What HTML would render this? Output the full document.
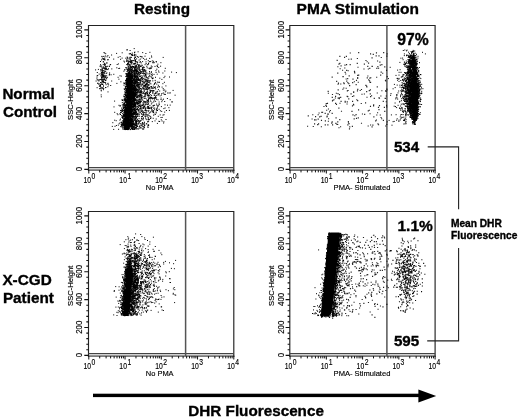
<!DOCTYPE html>
<html lang="en"><head><meta charset="utf-8"><title>DHR Fluorescence</title>
<style>html,body{margin:0;padding:0;background:#fff}svg{display:block}text{font-family:"Liberation Sans", Arial, Helvetica, sans-serif;fill:#000}.b{font-weight:bold;stroke:#000;stroke-width:0.35px}.s{stroke:#000;stroke-width:0.15px}</style></head><body>
<svg width="520" height="420" viewBox="0 0 520 420">
<rect width="520" height="420" fill="#fff"/>
<rect x="88.50" y="168.00" width="145.30" height="1.6" fill="#d2d2d2"/>
<path d="M88.50 170.70V25.50H233.80V170.70" fill="none" stroke="#222" stroke-width="1.15"/>
<path d="M88.50 167.50H233.80" stroke="#444" stroke-width="1"/>
<path d="M87.90 170.10H234.40" stroke="#222" stroke-width="1"/>
<path d="M185.60 25.50V170.10" stroke="#555" stroke-width="1.5"/>
<path d="M84.30 169.40H88.50M86.30 163.82H88.50M86.30 158.24H88.50M86.30 152.66H88.50M86.30 147.08H88.50M84.30 141.50H88.50M86.30 135.92H88.50M86.30 130.34H88.50M86.30 124.76H88.50M86.30 119.18H88.50M84.30 113.60H88.50M86.30 108.02H88.50M86.30 102.44H88.50M86.30 96.86H88.50M86.30 91.28H88.50M84.30 85.70H88.50M86.30 80.12H88.50M86.30 74.54H88.50M86.30 68.96H88.50M86.30 63.38H88.50M84.30 57.80H88.50M86.30 52.22H88.50M86.30 46.64H88.50M86.30 41.06H88.50M86.30 35.48H88.50M84.30 29.90H88.50" stroke="#111" stroke-width="1.1"/>
<path d="M88.80 170.10v3.4M99.71 170.10v2.3M106.10 170.10v2.3M110.62 170.10v2.3M114.14 170.10v2.3M117.01 170.10v2.3M119.43 170.10v2.3M121.54 170.10v2.3M123.39 170.10v2.3M125.05 170.10v3.4M135.96 170.10v2.3M142.35 170.10v2.3M146.87 170.10v2.3M150.39 170.10v2.3M153.26 170.10v2.3M155.68 170.10v2.3M157.79 170.10v2.3M159.64 170.10v2.3M161.30 170.10v3.4M172.21 170.10v2.3M178.60 170.10v2.3M183.12 170.10v2.3M186.64 170.10v2.3M189.51 170.10v2.3M191.93 170.10v2.3M194.04 170.10v2.3M195.89 170.10v2.3M197.55 170.10v3.4M208.46 170.10v2.3M214.85 170.10v2.3M219.37 170.10v2.3M222.89 170.10v2.3M225.76 170.10v2.3M228.18 170.10v2.3M230.29 170.10v2.3M232.14 170.10v2.3M233.80 170.10v3.4" stroke="#111" stroke-width="1"/>
<text transform="translate(82.30 169.15) rotate(-90) scale(0.93 1)" text-anchor="middle" class="s" font-size="8.5">0</text>
<text transform="translate(82.30 141.25) rotate(-90) scale(0.93 1)" text-anchor="middle" class="s" font-size="8.5">200</text>
<text transform="translate(82.30 113.35) rotate(-90) scale(0.93 1)" text-anchor="middle" class="s" font-size="8.5">400</text>
<text transform="translate(82.30 85.45) rotate(-90) scale(0.93 1)" text-anchor="middle" class="s" font-size="8.5">600</text>
<text transform="translate(82.30 57.55) rotate(-90) scale(0.93 1)" text-anchor="middle" class="s" font-size="8.5">800</text>
<text transform="translate(82.30 29.65) rotate(-90) scale(0.93 1)" text-anchor="middle" class="s" font-size="8.5">1000</text>
<text transform="translate(72.70 99.75) rotate(-90)" text-anchor="middle" class="s" font-size="7.8" textLength="40.3" lengthAdjust="spacingAndGlyphs">SSC-Height</text>
<text transform="translate(83.40 182.90) scale(0.8 1)" class="s" font-size="8.5">10<tspan dy="-3.9" dx="0.6" font-size="8.5">0</tspan></text>
<text transform="translate(119.35 182.90) scale(0.8 1)" class="s" font-size="8.5">10<tspan dy="-3.9" dx="0.6" font-size="8.5">1</tspan></text>
<text transform="translate(155.30 182.90) scale(0.8 1)" class="s" font-size="8.5">10<tspan dy="-3.9" dx="0.6" font-size="8.5">2</tspan></text>
<text transform="translate(191.25 182.90) scale(0.8 1)" class="s" font-size="8.5">10<tspan dy="-3.9" dx="0.6" font-size="8.5">3</tspan></text>
<text transform="translate(227.20 182.90) scale(0.8 1)" class="s" font-size="8.5">10<tspan dy="-3.9" dx="0.6" font-size="8.5">4</tspan></text>
<text x="145.80" y="189.90" class="s" font-size="7.8" textLength="27.8" lengthAdjust="spacingAndGlyphs">No PMA</text>
<rect x="289.80" y="168.00" width="145.30" height="1.6" fill="#d2d2d2"/>
<path d="M289.80 170.70V25.50H435.10V170.70" fill="none" stroke="#222" stroke-width="1.15"/>
<path d="M289.80 167.50H435.10" stroke="#444" stroke-width="1"/>
<path d="M289.20 170.10H435.70" stroke="#222" stroke-width="1"/>
<path d="M386.90 25.50V170.10" stroke="#555" stroke-width="1.5"/>
<path d="M285.60 169.40H289.80M287.60 163.82H289.80M287.60 158.24H289.80M287.60 152.66H289.80M287.60 147.08H289.80M285.60 141.50H289.80M287.60 135.92H289.80M287.60 130.34H289.80M287.60 124.76H289.80M287.60 119.18H289.80M285.60 113.60H289.80M287.60 108.02H289.80M287.60 102.44H289.80M287.60 96.86H289.80M287.60 91.28H289.80M285.60 85.70H289.80M287.60 80.12H289.80M287.60 74.54H289.80M287.60 68.96H289.80M287.60 63.38H289.80M285.60 57.80H289.80M287.60 52.22H289.80M287.60 46.64H289.80M287.60 41.06H289.80M287.60 35.48H289.80M285.60 29.90H289.80" stroke="#111" stroke-width="1.1"/>
<path d="M290.10 170.10v3.4M301.01 170.10v2.3M307.40 170.10v2.3M311.92 170.10v2.3M315.44 170.10v2.3M318.31 170.10v2.3M320.73 170.10v2.3M322.84 170.10v2.3M324.69 170.10v2.3M326.35 170.10v3.4M337.26 170.10v2.3M343.65 170.10v2.3M348.17 170.10v2.3M351.69 170.10v2.3M354.56 170.10v2.3M356.98 170.10v2.3M359.09 170.10v2.3M360.94 170.10v2.3M362.60 170.10v3.4M373.51 170.10v2.3M379.90 170.10v2.3M384.42 170.10v2.3M387.94 170.10v2.3M390.81 170.10v2.3M393.23 170.10v2.3M395.34 170.10v2.3M397.19 170.10v2.3M398.85 170.10v3.4M409.76 170.10v2.3M416.15 170.10v2.3M420.67 170.10v2.3M424.19 170.10v2.3M427.06 170.10v2.3M429.48 170.10v2.3M431.59 170.10v2.3M433.44 170.10v2.3M435.10 170.10v3.4" stroke="#111" stroke-width="1"/>
<text transform="translate(283.60 169.15) rotate(-90) scale(0.93 1)" text-anchor="middle" class="s" font-size="8.5">0</text>
<text transform="translate(283.60 141.25) rotate(-90) scale(0.93 1)" text-anchor="middle" class="s" font-size="8.5">200</text>
<text transform="translate(283.60 113.35) rotate(-90) scale(0.93 1)" text-anchor="middle" class="s" font-size="8.5">400</text>
<text transform="translate(283.60 85.45) rotate(-90) scale(0.93 1)" text-anchor="middle" class="s" font-size="8.5">600</text>
<text transform="translate(283.60 57.55) rotate(-90) scale(0.93 1)" text-anchor="middle" class="s" font-size="8.5">800</text>
<text transform="translate(283.60 29.65) rotate(-90) scale(0.93 1)" text-anchor="middle" class="s" font-size="8.5">1000</text>
<text transform="translate(274.00 99.75) rotate(-90)" text-anchor="middle" class="s" font-size="7.8" textLength="40.3" lengthAdjust="spacingAndGlyphs">SSC-Height</text>
<text transform="translate(284.70 182.90) scale(0.8 1)" class="s" font-size="8.5">10<tspan dy="-3.9" dx="0.6" font-size="8.5">0</tspan></text>
<text transform="translate(320.65 182.90) scale(0.8 1)" class="s" font-size="8.5">10<tspan dy="-3.9" dx="0.6" font-size="8.5">1</tspan></text>
<text transform="translate(356.60 182.90) scale(0.8 1)" class="s" font-size="8.5">10<tspan dy="-3.9" dx="0.6" font-size="8.5">2</tspan></text>
<text transform="translate(392.55 182.90) scale(0.8 1)" class="s" font-size="8.5">10<tspan dy="-3.9" dx="0.6" font-size="8.5">3</tspan></text>
<text transform="translate(428.50 182.90) scale(0.8 1)" class="s" font-size="8.5">10<tspan dy="-3.9" dx="0.6" font-size="8.5">4</tspan></text>
<text x="333.60" y="189.90" class="s" font-size="7.8" textLength="56.8" lengthAdjust="spacingAndGlyphs">PMA- Stimulated</text>
<rect x="88.50" y="354.00" width="145.30" height="1.6" fill="#d2d2d2"/>
<path d="M88.50 356.70V211.50H233.80V356.70" fill="none" stroke="#222" stroke-width="1.15"/>
<path d="M88.50 353.50H233.80" stroke="#444" stroke-width="1"/>
<path d="M87.90 356.10H234.40" stroke="#222" stroke-width="1"/>
<path d="M185.60 211.50V356.10" stroke="#555" stroke-width="1.5"/>
<path d="M84.30 355.40H88.50M86.30 349.82H88.50M86.30 344.24H88.50M86.30 338.66H88.50M86.30 333.08H88.50M84.30 327.50H88.50M86.30 321.92H88.50M86.30 316.34H88.50M86.30 310.76H88.50M86.30 305.18H88.50M84.30 299.60H88.50M86.30 294.02H88.50M86.30 288.44H88.50M86.30 282.86H88.50M86.30 277.28H88.50M84.30 271.70H88.50M86.30 266.12H88.50M86.30 260.54H88.50M86.30 254.96H88.50M86.30 249.38H88.50M84.30 243.80H88.50M86.30 238.22H88.50M86.30 232.64H88.50M86.30 227.06H88.50M86.30 221.48H88.50M84.30 215.90H88.50" stroke="#111" stroke-width="1.1"/>
<path d="M88.80 356.10v3.4M99.71 356.10v2.3M106.10 356.10v2.3M110.62 356.10v2.3M114.14 356.10v2.3M117.01 356.10v2.3M119.43 356.10v2.3M121.54 356.10v2.3M123.39 356.10v2.3M125.05 356.10v3.4M135.96 356.10v2.3M142.35 356.10v2.3M146.87 356.10v2.3M150.39 356.10v2.3M153.26 356.10v2.3M155.68 356.10v2.3M157.79 356.10v2.3M159.64 356.10v2.3M161.30 356.10v3.4M172.21 356.10v2.3M178.60 356.10v2.3M183.12 356.10v2.3M186.64 356.10v2.3M189.51 356.10v2.3M191.93 356.10v2.3M194.04 356.10v2.3M195.89 356.10v2.3M197.55 356.10v3.4M208.46 356.10v2.3M214.85 356.10v2.3M219.37 356.10v2.3M222.89 356.10v2.3M225.76 356.10v2.3M228.18 356.10v2.3M230.29 356.10v2.3M232.14 356.10v2.3M233.80 356.10v3.4" stroke="#111" stroke-width="1"/>
<text transform="translate(82.30 355.15) rotate(-90) scale(0.93 1)" text-anchor="middle" class="s" font-size="8.5">0</text>
<text transform="translate(82.30 327.25) rotate(-90) scale(0.93 1)" text-anchor="middle" class="s" font-size="8.5">200</text>
<text transform="translate(82.30 299.35) rotate(-90) scale(0.93 1)" text-anchor="middle" class="s" font-size="8.5">400</text>
<text transform="translate(82.30 271.45) rotate(-90) scale(0.93 1)" text-anchor="middle" class="s" font-size="8.5">600</text>
<text transform="translate(82.30 243.55) rotate(-90) scale(0.93 1)" text-anchor="middle" class="s" font-size="8.5">800</text>
<text transform="translate(82.30 215.65) rotate(-90) scale(0.93 1)" text-anchor="middle" class="s" font-size="8.5">1000</text>
<text transform="translate(72.70 285.75) rotate(-90)" text-anchor="middle" class="s" font-size="7.8" textLength="40.3" lengthAdjust="spacingAndGlyphs">SSC-Height</text>
<text transform="translate(83.40 368.90) scale(0.8 1)" class="s" font-size="8.5">10<tspan dy="-3.9" dx="0.6" font-size="8.5">0</tspan></text>
<text transform="translate(119.35 368.90) scale(0.8 1)" class="s" font-size="8.5">10<tspan dy="-3.9" dx="0.6" font-size="8.5">1</tspan></text>
<text transform="translate(155.30 368.90) scale(0.8 1)" class="s" font-size="8.5">10<tspan dy="-3.9" dx="0.6" font-size="8.5">2</tspan></text>
<text transform="translate(191.25 368.90) scale(0.8 1)" class="s" font-size="8.5">10<tspan dy="-3.9" dx="0.6" font-size="8.5">3</tspan></text>
<text transform="translate(227.20 368.90) scale(0.8 1)" class="s" font-size="8.5">10<tspan dy="-3.9" dx="0.6" font-size="8.5">4</tspan></text>
<text x="145.80" y="375.90" class="s" font-size="7.8" textLength="27.8" lengthAdjust="spacingAndGlyphs">No PMA</text>
<rect x="289.80" y="354.00" width="145.30" height="1.6" fill="#d2d2d2"/>
<path d="M289.80 356.70V211.50H435.10V356.70" fill="none" stroke="#222" stroke-width="1.15"/>
<path d="M289.80 353.50H435.10" stroke="#444" stroke-width="1"/>
<path d="M289.20 356.10H435.70" stroke="#222" stroke-width="1"/>
<path d="M386.90 211.50V356.10" stroke="#555" stroke-width="1.5"/>
<path d="M285.60 355.40H289.80M287.60 349.82H289.80M287.60 344.24H289.80M287.60 338.66H289.80M287.60 333.08H289.80M285.60 327.50H289.80M287.60 321.92H289.80M287.60 316.34H289.80M287.60 310.76H289.80M287.60 305.18H289.80M285.60 299.60H289.80M287.60 294.02H289.80M287.60 288.44H289.80M287.60 282.86H289.80M287.60 277.28H289.80M285.60 271.70H289.80M287.60 266.12H289.80M287.60 260.54H289.80M287.60 254.96H289.80M287.60 249.38H289.80M285.60 243.80H289.80M287.60 238.22H289.80M287.60 232.64H289.80M287.60 227.06H289.80M287.60 221.48H289.80M285.60 215.90H289.80" stroke="#111" stroke-width="1.1"/>
<path d="M290.10 356.10v3.4M301.01 356.10v2.3M307.40 356.10v2.3M311.92 356.10v2.3M315.44 356.10v2.3M318.31 356.10v2.3M320.73 356.10v2.3M322.84 356.10v2.3M324.69 356.10v2.3M326.35 356.10v3.4M337.26 356.10v2.3M343.65 356.10v2.3M348.17 356.10v2.3M351.69 356.10v2.3M354.56 356.10v2.3M356.98 356.10v2.3M359.09 356.10v2.3M360.94 356.10v2.3M362.60 356.10v3.4M373.51 356.10v2.3M379.90 356.10v2.3M384.42 356.10v2.3M387.94 356.10v2.3M390.81 356.10v2.3M393.23 356.10v2.3M395.34 356.10v2.3M397.19 356.10v2.3M398.85 356.10v3.4M409.76 356.10v2.3M416.15 356.10v2.3M420.67 356.10v2.3M424.19 356.10v2.3M427.06 356.10v2.3M429.48 356.10v2.3M431.59 356.10v2.3M433.44 356.10v2.3M435.10 356.10v3.4" stroke="#111" stroke-width="1"/>
<text transform="translate(283.60 355.15) rotate(-90) scale(0.93 1)" text-anchor="middle" class="s" font-size="8.5">0</text>
<text transform="translate(283.60 327.25) rotate(-90) scale(0.93 1)" text-anchor="middle" class="s" font-size="8.5">200</text>
<text transform="translate(283.60 299.35) rotate(-90) scale(0.93 1)" text-anchor="middle" class="s" font-size="8.5">400</text>
<text transform="translate(283.60 271.45) rotate(-90) scale(0.93 1)" text-anchor="middle" class="s" font-size="8.5">600</text>
<text transform="translate(283.60 243.55) rotate(-90) scale(0.93 1)" text-anchor="middle" class="s" font-size="8.5">800</text>
<text transform="translate(283.60 215.65) rotate(-90) scale(0.93 1)" text-anchor="middle" class="s" font-size="8.5">1000</text>
<text transform="translate(274.00 285.75) rotate(-90)" text-anchor="middle" class="s" font-size="7.8" textLength="40.3" lengthAdjust="spacingAndGlyphs">SSC-Height</text>
<text transform="translate(284.70 368.90) scale(0.8 1)" class="s" font-size="8.5">10<tspan dy="-3.9" dx="0.6" font-size="8.5">0</tspan></text>
<text transform="translate(320.65 368.90) scale(0.8 1)" class="s" font-size="8.5">10<tspan dy="-3.9" dx="0.6" font-size="8.5">1</tspan></text>
<text transform="translate(356.60 368.90) scale(0.8 1)" class="s" font-size="8.5">10<tspan dy="-3.9" dx="0.6" font-size="8.5">2</tspan></text>
<text transform="translate(392.55 368.90) scale(0.8 1)" class="s" font-size="8.5">10<tspan dy="-3.9" dx="0.6" font-size="8.5">3</tspan></text>
<text transform="translate(428.50 368.90) scale(0.8 1)" class="s" font-size="8.5">10<tspan dy="-3.9" dx="0.6" font-size="8.5">4</tspan></text>
<text x="333.60" y="375.90" class="s" font-size="7.8" textLength="56.8" lengthAdjust="spacingAndGlyphs">PMA- Stimulated</text>
<path d="M128.3 124.3h1M129.0 97.1h1M125.2 127.3h1M129.8 81.9h1M127.6 105.5h1M130.1 62.8h1M127.8 128.0h1M129.3 87.4h1M126.3 74.4h1M127.7 122.9h1M127.7 91.0h1M128.7 125.2h1M131.5 94.8h1M128.4 103.0h1M130.1 97.5h1M123.2 122.7h1M125.7 90.0h1M128.8 90.3h1M130.2 87.5h1M131.2 109.5h1M128.0 62.3h1M126.3 102.1h1M127.3 94.7h1M127.9 91.6h1M128.5 107.2h1M125.4 99.2h1M130.8 97.3h1M125.6 100.0h1M134.5 93.7h1M127.2 114.1h1M127.4 117.9h1M123.4 115.2h1M130.1 90.0h1M125.9 75.6h1M129.6 113.7h1M127.5 96.9h1M129.3 100.5h1M130.5 85.6h1M131.3 78.8h1M132.1 98.5h1M131.8 86.1h1M130.9 81.4h1M126.5 108.8h1M125.5 105.5h1M131.1 67.6h1M130.1 82.9h1M125.9 117.8h1M129.4 85.2h1M128.7 123.6h1M131.2 77.8h1M125.3 128.0h1M124.0 125.8h1M122.6 124.8h1M126.0 117.9h1M126.6 115.2h1M127.1 81.1h1M131.8 89.5h1M130.5 124.4h1M125.1 120.0h1M130.9 94.9h1M128.5 99.6h1M129.5 107.3h1M128.4 108.3h1M129.3 92.3h1M130.6 105.0h1M130.9 93.6h1M125.6 129.0h1M127.6 124.6h1M128.4 78.2h1M128.7 100.0h1M130.2 100.5h1M130.5 86.2h1M126.4 85.3h1M130.8 89.2h1M124.7 113.0h1M126.8 126.7h1M130.9 85.3h1M126.7 83.1h1M124.7 128.4h1M127.1 129.4h1M127.7 120.7h1M125.2 67.7h1M131.4 73.5h1M126.7 106.8h1M126.3 96.5h1M130.1 88.9h1M125.4 120.8h1M127.6 114.1h1M130.0 81.1h1M134.4 102.6h1M130.6 105.0h1M129.2 102.0h1M128.8 102.2h1M130.2 93.4h1M130.5 86.1h1M127.4 98.4h1M130.2 98.0h1M128.2 79.1h1M125.8 117.6h1M129.3 91.4h1M129.5 119.7h1M129.3 116.7h1M120.5 112.6h1M132.0 68.2h1M129.7 88.7h1M127.9 111.8h1M132.3 99.5h1M126.3 107.8h1M126.8 49.8h1M125.8 81.3h1M126.2 97.2h1M127.3 128.7h1M127.9 86.4h1M125.8 104.5h1M130.2 81.4h1M124.3 123.4h1M128.1 81.6h1M127.1 96.8h1M129.8 98.5h1M126.6 104.7h1M128.6 81.2h1M129.1 87.8h1M124.0 103.4h1M127.1 110.8h1M123.4 110.2h1M125.3 105.7h1M125.7 120.6h1M127.4 117.9h1M128.4 96.5h1M131.8 91.0h1M129.7 79.0h1M128.1 121.7h1M126.2 114.2h1M125.3 120.4h1M133.0 66.5h1M126.4 76.3h1M130.3 113.6h1M125.0 126.2h1M130.9 90.9h1M127.0 83.0h1M127.8 122.8h1M129.0 105.1h1M124.9 90.3h1M128.1 86.1h1M129.1 112.0h1M128.0 126.6h1M130.1 91.3h1M127.9 94.1h1M127.7 109.8h1M127.1 80.5h1M127.0 93.8h1M129.1 101.1h1M128.6 100.1h1M127.7 125.6h1M129.8 81.6h1M130.5 80.1h1M126.5 121.4h1M130.8 91.2h1M134.5 100.6h1M125.4 109.9h1M129.0 100.1h1M125.5 123.5h1M128.8 112.1h1M128.6 112.9h1M127.2 95.5h1M128.8 103.2h1M126.5 128.3h1M129.3 77.2h1M128.5 110.4h1M131.0 111.4h1M130.8 90.3h1M129.0 88.2h1M130.0 82.0h1M133.3 82.6h1M126.8 105.2h1M131.3 101.7h1M128.2 72.5h1M124.5 104.2h1M125.2 127.7h1M127.3 124.1h1M129.0 89.8h1M127.9 92.0h1M125.6 114.1h1M124.7 119.7h1M126.1 101.2h1M128.3 87.2h1M122.2 126.8h1M130.0 97.0h1M127.8 118.3h1M127.5 116.8h1M130.3 107.5h1M125.4 121.4h1M129.4 92.4h1M121.2 124.8h1M128.8 104.8h1M128.1 96.2h1M130.8 88.1h1M131.3 67.0h1M126.2 123.1h1M126.8 89.2h1M130.1 82.7h1M127.4 128.1h1M131.3 83.8h1M127.6 98.5h1M126.5 99.7h1M127.1 110.2h1M124.3 121.5h1M123.6 99.6h1M130.2 85.3h1M126.8 128.4h1M130.1 101.9h1M126.8 97.7h1M129.4 83.6h1M124.5 128.8h1M124.1 111.1h1M127.7 123.3h1M123.0 114.1h1M128.8 84.2h1M133.8 75.5h1M130.6 111.6h1M130.7 73.6h1M130.7 92.1h1M129.1 83.7h1M125.2 123.4h1M130.0 126.0h1M126.6 118.5h1M126.8 104.9h1M130.7 95.6h1M126.4 123.7h1M132.0 98.2h1M125.5 118.5h1M127.9 81.5h1M127.6 101.8h1M130.5 122.6h1M131.2 77.7h1M128.9 104.9h1M129.7 91.1h1M129.3 102.5h1M127.6 85.4h1M128.6 115.5h1M128.6 81.1h1M126.5 128.7h1M127.8 110.7h1M127.5 121.7h1M128.7 80.2h1M127.5 128.6h1M128.3 115.2h1M126.0 110.2h1M127.3 125.8h1M128.9 74.3h1M130.4 91.1h1M131.1 78.6h1M128.6 78.7h1M126.9 119.9h1M127.0 121.4h1M128.0 109.3h1M133.8 98.9h1M130.3 86.9h1M124.5 117.4h1M129.8 86.5h1M127.8 96.5h1M134.1 77.1h1M125.3 128.0h1M124.7 128.4h1M131.0 70.9h1M126.0 117.3h1M128.8 73.4h1M128.5 96.6h1M125.8 115.8h1M128.8 82.4h1M123.9 96.4h1M129.4 85.3h1M130.6 97.1h1M133.6 93.0h1M128.4 106.5h1M130.1 108.4h1M128.0 90.5h1M132.3 76.6h1M130.4 126.3h1M130.2 84.0h1M127.1 110.4h1M129.7 57.2h1M131.7 109.9h1M126.8 92.4h1M132.4 90.8h1M124.6 120.4h1M127.8 91.0h1M128.3 113.7h1M130.3 101.1h1M130.7 105.4h1M132.5 87.3h1M125.4 108.7h1M129.7 70.8h1M131.1 72.8h1M130.2 65.1h1M132.0 88.8h1M129.7 85.2h1M126.5 118.2h1M122.8 107.0h1M125.9 84.5h1M131.3 91.6h1M127.2 87.3h1M129.6 99.5h1M129.5 110.6h1M129.4 90.3h1M130.2 112.3h1M127.3 100.5h1M128.6 119.1h1M127.7 109.6h1M124.6 107.2h1M122.3 123.9h1M126.2 124.5h1M132.8 85.3h1M131.7 80.3h1M128.1 121.5h1M129.8 111.3h1M131.3 95.9h1M126.2 122.4h1M128.8 126.3h1M130.1 84.3h1M126.2 115.5h1M136.8 81.8h1M130.1 103.6h1M128.5 100.2h1M130.5 102.6h1M127.3 73.4h1M124.4 116.2h1M133.6 98.3h1M129.7 107.6h1M127.4 87.2h1M123.6 115.1h1M126.8 120.0h1M127.4 86.6h1M131.8 102.8h1M122.5 118.1h1M132.2 90.7h1M125.0 115.3h1M126.1 96.8h1M127.5 115.0h1M125.9 97.5h1M126.9 105.1h1M128.5 75.3h1M125.0 80.7h1M127.1 69.5h1M128.7 110.4h1M125.6 76.6h1M126.0 95.1h1M124.6 121.1h1M131.2 97.5h1M127.5 128.5h1M132.8 92.2h1M126.5 99.4h1M131.0 96.5h1M129.2 101.2h1M124.5 111.9h1M130.3 96.8h1M128.1 106.6h1M127.9 92.2h1M124.6 127.8h1M123.3 116.3h1M128.0 121.8h1M129.4 104.0h1M128.2 98.5h1M126.1 118.6h1M128.3 82.3h1M129.6 111.1h1M126.4 128.9h1M125.2 93.3h1M126.8 124.0h1M128.5 115.1h1M126.7 106.1h1M126.0 117.6h1M126.1 113.1h1M128.2 123.0h1M126.7 111.8h1M129.4 89.8h1M127.7 114.0h1M132.5 100.5h1M126.6 79.1h1M132.0 123.4h1M124.5 113.7h1M125.9 127.9h1M127.8 69.3h1M129.5 94.3h1M129.3 108.5h1M132.8 118.3h1M130.5 113.4h1M128.0 88.6h1M127.7 117.5h1M127.9 113.0h1M127.6 95.3h1M128.7 117.1h1M130.1 67.6h1M125.8 121.0h1M125.2 128.4h1M129.7 108.3h1M129.3 78.1h1M131.6 101.1h1M129.7 113.4h1M126.8 90.6h1M125.1 87.4h1M128.4 105.2h1M128.1 88.6h1M127.3 89.4h1M125.1 120.7h1M132.4 71.6h1M126.2 123.0h1M130.2 125.3h1M131.2 90.8h1M125.3 58.2h1M127.8 122.5h1M132.2 102.1h1M123.1 114.8h1M124.2 127.2h1M127.7 108.9h1M128.3 88.3h1M133.2 94.4h1M127.9 80.3h1M132.4 105.9h1M126.9 81.4h1M125.7 110.5h1M129.1 105.1h1M130.6 92.3h1M129.9 61.8h1M130.8 121.2h1M133.5 94.1h1M133.4 83.8h1M127.5 111.8h1M130.1 108.8h1M126.8 114.2h1M132.6 95.2h1M122.6 105.0h1M125.6 118.1h1M129.1 75.8h1M125.5 128.9h1M132.9 87.9h1M126.7 86.4h1M124.9 124.9h1M126.6 57.1h1M128.9 97.3h1M126.5 100.4h1M129.2 121.0h1M131.5 66.6h1M122.2 124.8h1M125.5 76.5h1M130.5 103.3h1M130.3 84.9h1M123.9 110.8h1M126.8 121.7h1M127.2 82.0h1M131.0 97.7h1M123.5 122.9h1M125.3 126.6h1M129.0 110.5h1M127.3 117.5h1M131.6 75.0h1M128.4 116.0h1M126.6 84.0h1M130.0 78.6h1M127.4 78.7h1M132.9 60.6h1M133.0 90.0h1M130.7 109.7h1M134.1 86.2h1M127.7 127.0h1M130.4 122.3h1M129.0 123.1h1M131.5 88.8h1M131.2 78.3h1M130.2 92.3h1M132.0 114.2h1M124.5 127.0h1M126.6 81.4h1M125.0 121.1h1M133.0 89.1h1M127.6 106.0h1M125.6 112.7h1M125.9 109.1h1M127.3 125.7h1M126.5 123.8h1M132.0 86.2h1M127.4 107.0h1M131.3 96.0h1M125.5 113.0h1M129.6 105.5h1M136.2 89.9h1M128.5 97.3h1M127.6 109.7h1M130.6 106.5h1M127.7 80.3h1M125.6 128.0h1M128.5 75.1h1M127.3 123.1h1M126.3 59.3h1M128.8 126.9h1M129.9 91.3h1M128.6 106.7h1M128.2 102.1h1M127.4 114.5h1M122.2 109.9h1M131.3 107.0h1M127.7 88.2h1M131.6 54.7h1M126.5 121.1h1M127.7 106.3h1M130.5 73.7h1M133.2 95.6h1M129.4 66.8h1M128.4 83.7h1M128.4 117.6h1M121.9 109.2h1M126.4 103.1h1M127.4 90.1h1M127.5 104.0h1M123.5 121.6h1M127.8 127.1h1M128.9 71.3h1M129.2 99.3h1M129.6 59.3h1M127.4 106.9h1M126.2 110.4h1M132.0 81.6h1M131.4 64.1h1M132.4 80.8h1M128.1 103.7h1M129.0 105.0h1M130.2 80.7h1M127.2 109.2h1M128.5 101.9h1M123.9 128.4h1M126.4 49.9h1M125.2 115.3h1M124.4 117.4h1M129.1 107.9h1M130.2 74.8h1M128.1 119.1h1M125.9 127.2h1M131.1 101.5h1M130.0 111.4h1M127.3 127.3h1M128.8 91.6h1M132.5 82.7h1M126.8 92.3h1M126.1 69.1h1M126.6 91.7h1M131.8 80.7h1M127.0 122.6h1M128.4 73.0h1M123.8 94.5h1M129.1 82.1h1M127.7 76.1h1M123.5 102.0h1M131.7 96.7h1M127.3 117.3h1M132.4 70.9h1M126.8 122.1h1M129.3 109.4h1M128.1 88.3h1M131.0 61.1h1M128.8 78.0h1M128.5 119.8h1M130.1 53.6h1M126.9 58.3h1M129.1 97.8h1M129.9 90.3h1M128.1 85.7h1M129.3 91.5h1M129.1 122.5h1M132.2 95.3h1M127.6 114.9h1M122.8 104.3h1M128.6 122.5h1M132.6 107.5h1M128.5 96.7h1M127.9 73.5h1M129.5 100.2h1M130.0 79.1h1M130.7 103.3h1M126.1 113.3h1M131.4 119.3h1M130.5 106.4h1M125.4 109.9h1M131.7 94.9h1M129.2 92.6h1M130.9 94.7h1M130.4 91.7h1M129.7 90.1h1M130.1 93.3h1M126.2 117.1h1M127.0 100.7h1M127.3 110.0h1M126.0 125.7h1M130.0 98.1h1M127.3 122.5h1M125.4 95.3h1M130.6 102.7h1M126.4 126.0h1M131.8 53.1h1M130.3 102.3h1M127.9 117.1h1M130.7 83.1h1M126.8 82.1h1M129.9 124.4h1M133.9 93.7h1M129.6 108.2h1M128.5 87.9h1M130.9 82.8h1M127.6 104.6h1M133.0 97.9h1M126.8 111.2h1M126.4 96.3h1M128.1 80.1h1M125.9 113.0h1M127.4 128.1h1M129.5 81.0h1M126.7 128.2h1M128.5 95.2h1M132.0 100.6h1M128.0 109.4h1M130.0 83.1h1M130.3 123.6h1M128.0 117.7h1M128.5 88.1h1M125.9 129.2h1M130.2 116.5h1M127.9 121.1h1M126.2 108.6h1M131.8 74.4h1M126.8 82.0h1M122.0 117.4h1M124.9 128.9h1M125.2 92.5h1M129.2 78.9h1M129.7 74.9h1M128.3 98.9h1M127.5 99.9h1M126.1 101.8h1M131.3 98.3h1M122.6 115.7h1M131.1 84.9h1M127.8 118.5h1M129.5 82.3h1M130.4 82.0h1M126.3 88.0h1M130.3 110.3h1M130.6 82.2h1M129.9 118.9h1M123.3 105.0h1M129.1 104.4h1M126.5 122.6h1M125.3 80.3h1M126.2 120.6h1M129.7 79.3h1M125.0 125.3h1M128.4 115.6h1M130.8 88.1h1M128.2 95.6h1M127.0 111.4h1M131.0 97.1h1M124.5 121.1h1M130.3 96.6h1M132.3 85.1h1M126.2 128.9h1M128.4 114.6h1M127.4 116.8h1M128.2 125.2h1M126.6 83.8h1M125.2 95.1h1M127.7 64.7h1M127.4 99.0h1M131.5 96.0h1M130.8 115.3h1M128.5 119.5h1M128.9 125.8h1M125.9 121.8h1M125.7 119.7h1M126.5 71.4h1M130.4 113.5h1M129.2 110.3h1M129.4 92.6h1M127.0 81.2h1M124.4 124.4h1M130.0 100.3h1M128.0 108.7h1M129.6 120.5h1M128.1 112.6h1M128.0 90.5h1M124.5 116.2h1M128.6 101.6h1M132.2 106.8h1M128.9 128.7h1M128.0 86.6h1M130.6 86.5h1M128.0 87.8h1M128.7 107.9h1M121.1 108.1h1M127.6 95.9h1M126.2 80.3h1M131.9 104.7h1M126.5 114.7h1M129.4 105.9h1M128.8 101.0h1M125.7 98.1h1M130.7 82.6h1M131.6 74.9h1M130.0 88.5h1M129.6 106.0h1M130.9 106.9h1M130.7 69.6h1M127.1 115.4h1M123.5 114.5h1M126.5 102.3h1M124.9 124.0h1M131.0 76.1h1M131.7 103.8h1M129.1 97.6h1M131.4 80.6h1M121.4 124.0h1M126.8 127.5h1M126.5 95.2h1M131.5 84.8h1M129.1 125.0h1M130.3 114.7h1M131.1 95.5h1M131.9 97.5h1M133.3 86.1h1M127.9 96.5h1M132.6 82.2h1M126.8 114.9h1M126.5 92.3h1M131.2 55.0h1M129.9 109.9h1M130.2 93.6h1M128.3 87.3h1M130.4 100.6h1M129.0 93.8h1M134.1 109.0h1M130.4 86.6h1M129.0 110.4h1M127.8 98.4h1M130.5 99.8h1M132.7 103.9h1M128.3 83.7h1M128.6 94.4h1M124.3 100.1h1M129.3 93.9h1M133.2 94.2h1M124.8 113.0h1M126.7 113.8h1M127.2 99.1h1M126.2 122.6h1M128.0 89.1h1M128.8 91.1h1M126.4 97.5h1M128.2 113.0h1M131.4 80.7h1M131.3 92.5h1M125.8 86.5h1M132.5 93.6h1M130.5 101.7h1M130.3 115.4h1M124.9 120.6h1M128.3 88.8h1M130.7 98.5h1M131.5 117.8h1M124.8 119.2h1M129.1 105.3h1M130.1 97.9h1M128.8 91.5h1M129.2 105.6h1M126.1 117.1h1M132.3 95.7h1M126.5 79.4h1M127.7 121.0h1M128.6 73.2h1M128.6 101.5h1M125.0 128.7h1M119.6 122.8h1M132.9 94.2h1M129.8 109.0h1M129.2 107.2h1M128.3 106.0h1M127.8 120.8h1M129.0 81.4h1M129.9 83.4h1M132.5 97.9h1M125.4 125.0h1M127.3 95.2h1M133.7 89.2h1M126.6 112.8h1M127.5 122.1h1M129.1 93.3h1M130.6 97.8h1M129.6 110.0h1M127.9 114.8h1M127.8 83.2h1M124.8 125.2h1M127.8 114.1h1M133.3 71.5h1M124.6 100.1h1M127.1 116.8h1M130.1 99.9h1M125.5 124.0h1M129.2 103.0h1M126.4 125.3h1M129.9 110.1h1M133.3 94.0h1M126.4 119.6h1M127.6 122.0h1M130.5 81.3h1M128.6 108.2h1M126.5 126.7h1M122.9 108.3h1M127.7 116.0h1M127.3 88.7h1M128.7 85.6h1M130.6 91.5h1M130.6 95.9h1M127.7 101.1h1M125.6 126.7h1M128.4 97.1h1M125.4 110.2h1M131.2 115.5h1M133.0 101.4h1M129.2 73.0h1M132.5 80.2h1M130.7 99.7h1M127.1 92.2h1M128.6 124.2h1M127.3 127.8h1M127.3 121.0h1M123.4 120.4h1M127.2 102.1h1M123.6 96.8h1M129.5 84.8h1M126.0 124.8h1M125.7 104.7h1M126.1 96.6h1M132.3 70.6h1M123.7 126.0h1M128.1 124.8h1M126.3 129.1h1M130.6 113.5h1M122.9 121.6h1M129.8 82.1h1M132.0 98.1h1M126.2 124.7h1M125.8 96.3h1M123.7 104.4h1M128.1 88.1h1M129.5 120.2h1M131.4 112.3h1M128.5 105.2h1M130.6 104.0h1M129.2 122.4h1M130.8 88.1h1M128.0 75.9h1M130.0 106.5h1M126.3 101.2h1M128.4 107.7h1M131.3 67.4h1M131.9 93.5h1M128.2 103.4h1M132.0 66.5h1M133.0 91.5h1M131.5 83.4h1M128.3 105.0h1M128.8 108.7h1M129.6 83.6h1M129.7 81.3h1M131.0 78.0h1M129.8 119.4h1M129.6 84.2h1M130.9 97.3h1M130.1 77.0h1M129.9 74.4h1M124.6 121.5h1M130.4 86.3h1M129.4 69.2h1M130.2 77.2h1M130.6 108.2h1M129.8 110.3h1M129.9 108.3h1M126.3 115.6h1M125.9 61.3h1M127.6 103.9h1M127.5 114.9h1M127.6 119.0h1M132.1 78.7h1M130.3 90.1h1M132.6 88.5h1M127.9 99.8h1M125.1 113.1h1M129.3 119.0h1M125.2 110.9h1M123.5 125.1h1M126.1 115.8h1M128.6 112.2h1M129.1 123.8h1M126.9 122.0h1M128.8 123.6h1M127.9 110.2h1M126.4 83.3h1M127.5 81.7h1M123.1 124.4h1M128.4 99.8h1M123.5 129.3h1M125.8 96.3h1M127.0 98.3h1M130.6 103.9h1M128.7 115.7h1M127.3 106.3h1M126.6 127.7h1M128.5 96.8h1M135.5 90.7h1M123.3 125.3h1M125.9 79.6h1M122.3 120.7h1M126.8 83.8h1M128.9 80.7h1M130.3 108.4h1M129.0 87.6h1M128.0 101.5h1M126.9 116.0h1M129.6 95.3h1M125.5 111.7h1M128.3 121.9h1M129.4 76.6h1M127.5 120.1h1M130.5 82.9h1M128.3 119.7h1M129.4 113.5h1M127.6 89.5h1M130.4 87.8h1M124.1 109.5h1M123.7 99.1h1M128.7 75.3h1M128.3 115.1h1M128.4 116.2h1M127.2 124.4h1M131.1 95.2h1M125.0 95.1h1M125.3 123.5h1M128.7 93.6h1M125.3 115.2h1M129.1 104.0h1M129.9 101.5h1M130.0 76.9h1M128.7 102.0h1M133.3 109.6h1M129.3 94.6h1M129.5 57.5h1M131.9 86.1h1M132.8 78.7h1M127.7 74.3h1M126.4 99.2h1M131.3 107.0h1M130.8 105.8h1M130.4 103.3h1M127.3 108.7h1M130.1 101.5h1M124.8 105.8h1M127.1 87.4h1M130.9 116.5h1M126.6 92.0h1M127.5 109.0h1M130.7 87.0h1M130.1 88.2h1M124.4 125.8h1M128.3 83.2h1M130.7 89.0h1M127.9 96.8h1M130.8 120.0h1M129.2 88.0h1M133.0 100.0h1M127.0 118.0h1M131.8 97.6h1M127.5 123.6h1M129.3 94.6h1M123.6 120.0h1M128.8 114.3h1M126.2 128.5h1M128.5 110.9h1M127.4 99.3h1M126.7 96.8h1M125.5 108.8h1M127.0 115.6h1M128.2 124.8h1M126.7 111.8h1M127.0 90.5h1M127.8 82.9h1M127.2 83.6h1M123.2 125.4h1M125.6 123.2h1M128.0 68.1h1M128.6 65.0h1M129.3 127.1h1M128.2 125.1h1M132.4 88.4h1M129.4 79.8h1M128.5 107.7h1M127.7 90.0h1M125.1 94.5h1M125.9 91.2h1M127.0 108.6h1M130.3 71.0h1M131.5 123.4h1M127.0 116.3h1M125.1 97.8h1M128.6 68.4h1M130.4 87.7h1M127.0 88.5h1M128.3 90.1h1M130.4 85.7h1M129.1 97.8h1M127.8 120.5h1M127.6 113.2h1M126.0 129.4h1M131.0 109.8h1M131.0 97.8h1M129.7 94.8h1M130.4 93.9h1M127.0 116.6h1M129.3 72.5h1M129.4 102.4h1M127.5 119.2h1M134.2 76.5h1M129.7 96.0h1M130.1 95.5h1M133.9 99.2h1M125.0 129.5h1M128.8 102.0h1M132.2 93.5h1M129.6 96.3h1M127.0 118.8h1M126.3 105.9h1M129.6 77.6h1M128.2 84.5h1M129.7 118.1h1M130.1 101.0h1M129.0 79.3h1M129.7 120.8h1M125.4 110.6h1M125.0 128.8h1M129.5 111.9h1M130.1 86.1h1M124.8 114.5h1M125.0 122.1h1M126.1 124.4h1M127.1 102.0h1M128.4 109.5h1M128.7 98.3h1M129.1 109.5h1M128.3 103.2h1M128.8 109.3h1M126.4 115.2h1M126.6 129.1h1M128.2 115.5h1M131.0 92.5h1M128.5 112.4h1M128.7 91.0h1M126.2 127.5h1M132.2 94.4h1M129.0 88.3h1M127.4 117.4h1M131.6 110.6h1M128.8 116.4h1M129.7 107.8h1M127.9 74.1h1M127.2 94.8h1M127.2 124.4h1M133.3 79.8h1M125.0 95.6h1M126.0 88.9h1M130.7 87.6h1M130.0 83.6h1M127.4 90.8h1M131.2 78.6h1M129.9 92.3h1M128.0 96.2h1M127.8 108.7h1M128.4 86.1h1M126.5 129.0h1M126.7 104.4h1M127.3 85.4h1M126.8 103.0h1M128.7 110.5h1M128.9 124.2h1M125.4 120.1h1M124.8 116.4h1M130.0 79.9h1M131.2 102.2h1M126.6 114.2h1M132.5 85.3h1M127.0 99.1h1M130.8 114.9h1M130.6 96.9h1M123.8 128.3h1M129.7 103.5h1M127.9 103.3h1M126.1 126.2h1M127.3 96.6h1M126.2 128.4h1M125.4 119.9h1M129.7 92.5h1M131.4 77.2h1M132.4 93.6h1M131.1 102.6h1M130.2 106.4h1M129.8 100.0h1M129.1 78.1h1M124.8 129.4h1M131.4 82.7h1M128.7 73.6h1M127.3 120.4h1M126.1 94.9h1M130.3 83.3h1M132.2 69.7h1M128.2 103.3h1M131.0 98.5h1M126.5 120.5h1M128.5 107.3h1M128.6 85.8h1M121.4 111.4h1M128.1 116.2h1M129.6 103.6h1M130.7 89.0h1M132.8 85.5h1M131.1 79.7h1M130.4 81.4h1M125.2 124.2h1M135.3 69.4h1M126.9 71.9h1M128.3 95.7h1M125.5 124.0h1M130.3 111.4h1M130.3 60.9h1M130.1 99.2h1M123.6 111.1h1M126.3 113.8h1M129.4 120.3h1M127.9 96.5h1M124.5 114.2h1M127.5 119.4h1M128.4 84.0h1M127.8 110.4h1M128.2 115.3h1M124.6 125.1h1M128.3 103.6h1M130.9 112.5h1M128.1 100.4h1M127.0 114.1h1M126.9 106.1h1M127.5 123.2h1M130.7 60.7h1M127.9 82.9h1M129.7 92.9h1M133.2 64.2h1M123.1 119.6h1M131.5 96.4h1M131.0 99.5h1M125.3 98.6h1M126.5 78.8h1M126.4 112.0h1M132.2 83.2h1M126.6 107.9h1M129.6 80.8h1M129.7 81.0h1M127.8 108.8h1M133.1 104.7h1M130.1 84.9h1M127.4 79.0h1M127.1 124.8h1M129.9 104.4h1M124.4 124.7h1M129.9 87.3h1M125.9 116.1h1M124.5 113.1h1M125.4 113.6h1M131.2 93.7h1M127.2 113.4h1M124.2 107.6h1M131.0 85.9h1M127.3 107.6h1M123.8 83.7h1M127.2 64.6h1M122.5 106.9h1M125.6 118.0h1M134.7 82.7h1M133.5 101.7h1M130.0 78.1h1M124.9 126.6h1M125.4 106.4h1M125.1 127.9h1M129.5 98.3h1M130.9 109.9h1M127.5 115.0h1M130.1 118.6h1M129.2 91.8h1M125.4 84.6h1M126.5 129.2h1M130.9 103.1h1M131.0 54.6h1M127.9 127.8h1M127.9 80.4h1M126.9 113.9h1M128.6 102.9h1M130.2 84.5h1M130.4 97.5h1M130.1 112.1h1M128.4 94.5h1M127.3 90.5h1M128.0 97.3h1M127.4 110.3h1M128.5 91.8h1M125.6 110.9h1M129.9 111.5h1M129.7 115.5h1M131.4 80.9h1M128.4 123.6h1M127.3 127.0h1M126.4 115.0h1M125.8 123.4h1M128.5 111.3h1M126.0 82.7h1M130.0 82.2h1M122.4 118.2h1M131.9 114.8h1M129.5 109.5h1M128.4 82.1h1M127.3 116.3h1M128.5 67.4h1M132.7 97.6h1M131.8 85.6h1M129.7 73.6h1M128.6 83.2h1M130.6 79.8h1M128.6 109.8h1M129.5 82.8h1M128.4 58.9h1M123.5 118.3h1M124.9 107.5h1M125.5 117.1h1M126.4 84.5h1M127.8 76.8h1M133.1 85.7h1M129.6 70.6h1M130.9 85.0h1M128.3 89.9h1M132.5 93.0h1M127.7 116.2h1M131.2 93.8h1M131.6 98.3h1M128.8 112.2h1M133.1 80.3h1M127.8 77.2h1M128.3 96.9h1M130.5 84.2h1M127.5 112.9h1M128.0 121.1h1M132.9 112.9h1M128.0 101.2h1M130.1 84.5h1M128.5 87.7h1M125.3 117.6h1M125.6 88.7h1M130.5 85.4h1M132.2 100.4h1M128.5 104.8h1M132.4 60.6h1M123.9 119.7h1M126.9 116.7h1M128.1 104.3h1M130.2 104.0h1M128.7 103.1h1M129.5 107.3h1M132.6 87.1h1M127.5 76.1h1M126.7 120.7h1M130.3 83.0h1M128.3 78.0h1M129.8 98.7h1M124.0 106.0h1M125.6 108.2h1M127.1 112.1h1M124.2 102.9h1M134.1 88.3h1M129.3 127.4h1M131.9 82.5h1M129.0 120.1h1M130.5 105.1h1M129.0 88.2h1M126.2 123.0h1M124.2 97.1h1M131.1 99.3h1M128.2 101.9h1M125.4 88.1h1M124.8 123.1h1M130.5 79.1h1M126.4 84.0h1M128.5 70.9h1M121.7 123.4h1M128.0 96.1h1M126.4 124.7h1M124.9 82.9h1M128.0 82.4h1M130.2 95.1h1M127.3 105.6h1M132.5 97.0h1M130.7 101.6h1M131.9 66.2h1M126.9 87.9h1M127.6 86.5h1M130.2 87.7h1M128.3 118.6h1M125.7 119.3h1M129.1 76.5h1M126.2 102.0h1M128.6 81.2h1M127.0 126.8h1M131.3 109.4h1M130.6 86.2h1M130.2 107.2h1M126.8 122.9h1M128.8 113.2h1M131.3 81.5h1M127.5 91.0h1M131.5 87.6h1M130.9 57.4h1M131.7 89.5h1M126.7 129.3h1M125.5 118.6h1M127.9 98.3h1M129.1 96.7h1M124.4 69.7h1M128.0 75.8h1M126.3 111.1h1M126.0 116.0h1M124.6 119.4h1M127.0 92.3h1M128.9 88.8h1M128.2 88.4h1M132.0 98.5h1M126.2 127.9h1M127.7 108.9h1M128.8 121.2h1M127.1 115.4h1M126.1 128.2h1M131.9 94.9h1M131.3 74.1h1M128.1 101.5h1M127.0 81.5h1M125.6 117.8h1M128.6 115.3h1M123.3 116.8h1M125.8 126.3h1M128.5 101.2h1M124.9 102.0h1M132.1 62.2h1M129.0 81.5h1M125.0 100.8h1M127.6 76.6h1M130.3 85.1h1M132.2 85.9h1M130.0 76.6h1M129.2 99.3h1M127.3 111.2h1M132.8 67.5h1M131.3 105.4h1M126.2 67.7h1M127.2 117.8h1M130.2 99.6h1M126.9 115.4h1M128.5 114.1h1M129.0 114.3h1M127.6 90.4h1M128.7 126.1h1M129.8 79.8h1M129.4 121.3h1M129.5 98.7h1M126.9 118.0h1M132.3 95.4h1M130.3 86.8h1M131.8 107.9h1M129.7 106.2h1M133.5 76.6h1M126.9 100.1h1M127.9 111.3h1M125.3 118.1h1M127.3 87.2h1M129.7 94.6h1M124.0 114.0h1M128.1 104.3h1M129.8 122.7h1M130.7 90.8h1M128.5 84.6h1M128.8 93.2h1M130.8 76.4h1M130.3 123.1h1M129.0 84.0h1M129.1 99.8h1M130.5 84.8h1M129.0 92.3h1M130.2 85.2h1M130.1 89.2h1M132.3 93.0h1M127.4 99.6h1M127.5 115.6h1M128.0 117.0h1M128.1 83.8h1M128.8 89.7h1M127.2 117.0h1M123.5 124.4h1M128.5 85.8h1M127.0 63.3h1M127.7 98.4h1M127.7 94.2h1M126.8 108.3h1M130.8 83.9h1M131.9 97.3h1M131.1 72.2h1M127.3 95.1h1M130.1 75.8h1M124.1 125.6h1M130.6 85.5h1M128.2 123.7h1M126.5 115.8h1M129.1 97.2h1M131.5 54.6h1M130.9 83.3h1M128.5 82.3h1M128.1 83.5h1M125.9 90.1h1M127.0 110.5h1M128.3 68.9h1M126.7 121.8h1M130.6 71.0h1M127.0 79.8h1M127.1 97.6h1M128.8 83.2h1M123.0 121.3h1M128.3 99.7h1M125.7 120.4h1M130.0 94.3h1M130.7 83.2h1M129.6 107.8h1M125.8 128.7h1M128.1 113.0h1M126.8 125.3h1M130.5 106.7h1M125.6 89.5h1M129.0 80.5h1M127.9 66.6h1M126.9 122.1h1M131.4 77.9h1M127.9 114.2h1M129.7 74.0h1M128.2 79.0h1M130.1 85.4h1M127.9 115.3h1M124.4 121.7h1M128.2 122.1h1M128.3 93.3h1M123.0 108.1h1M127.3 110.2h1M130.3 94.4h1M129.9 98.0h1M129.7 74.9h1M128.7 98.6h1M128.9 114.2h1M129.3 108.0h1M124.9 95.8h1M125.2 128.5h1M128.1 109.2h1M127.5 110.5h1M129.4 113.4h1M130.6 104.5h1M129.4 95.1h1M128.5 92.7h1M133.1 91.1h1M126.8 98.6h1M126.0 128.8h1M131.9 117.3h1M130.5 96.2h1M127.8 123.7h1M128.6 100.6h1M127.7 128.8h1M135.4 87.7h1M127.5 121.2h1M127.4 107.9h1M129.1 123.6h1M131.3 120.8h1M129.0 106.0h1M127.9 70.6h1M130.2 86.4h1M125.1 119.2h1M131.4 85.5h1M126.6 117.7h1M129.1 109.9h1M129.6 81.6h1M130.3 103.9h1M122.4 116.9h1M128.9 107.0h1M129.9 88.5h1M130.1 86.1h1M126.2 60.8h1M131.6 103.8h1M126.2 110.8h1M127.3 125.4h1M126.8 107.6h1M126.9 114.9h1M128.4 92.7h1M124.0 128.8h1M126.6 107.0h1M130.7 112.4h1M125.3 108.6h1M128.3 107.9h1M126.3 80.7h1M131.6 95.3h1M124.5 110.4h1M124.8 112.7h1M127.7 107.8h1M130.5 82.9h1M125.7 99.8h1M129.3 81.9h1M128.3 119.3h1M128.4 103.5h1M127.6 93.5h1M130.4 88.3h1M128.8 124.4h1M133.4 109.3h1M132.1 86.0h1M124.8 98.9h1M129.8 122.5h1M130.4 108.6h1M129.1 104.5h1M126.9 129.5h1M130.7 108.6h1M127.6 105.9h1M127.3 81.5h1M127.8 103.7h1M130.1 103.2h1M125.4 125.8h1M125.3 127.7h1M125.2 106.6h1M130.2 98.1h1M124.6 118.7h1M128.2 100.9h1M125.1 124.8h1M131.9 77.3h1M130.9 103.5h1M133.0 114.2h1M126.5 107.4h1M127.1 94.0h1M130.1 68.7h1M127.0 75.2h1M128.6 81.5h1M131.0 88.4h1M129.6 77.5h1M131.0 97.7h1M125.0 124.0h1M128.3 93.5h1M129.2 92.2h1M131.1 75.2h1M130.5 110.6h1M131.7 99.4h1M129.3 96.7h1M127.2 98.6h1M128.6 92.2h1M129.6 87.1h1M124.6 106.1h1M125.0 128.8h1M125.9 89.3h1M127.2 124.1h1M129.0 103.1h1M127.3 93.9h1M131.6 89.2h1M128.7 103.1h1M128.7 97.9h1M130.8 81.4h1M130.3 91.1h1M124.9 115.4h1M128.3 75.8h1M125.9 95.7h1M128.9 114.5h1M127.1 115.8h1M130.3 107.5h1M126.7 104.1h1M127.4 75.5h1M130.8 106.8h1M131.2 94.0h1M126.9 75.0h1M130.7 106.1h1M127.9 61.1h1M131.5 110.0h1M130.4 94.6h1M125.7 118.0h1M127.8 105.1h1M129.1 92.5h1M122.4 129.1h1M129.6 109.2h1M128.9 91.0h1M130.8 96.8h1M123.7 88.9h1M129.0 116.7h1M129.0 98.9h1M124.8 114.2h1M130.2 125.4h1M131.3 90.3h1M125.2 114.7h1M127.6 93.0h1M130.8 91.0h1M133.3 89.3h1M128.7 115.1h1M128.6 89.5h1M133.1 70.9h1M127.7 96.4h1M127.8 129.2h1M131.0 67.6h1M126.2 126.5h1M128.0 93.7h1M127.6 98.0h1M126.4 126.5h1M132.1 100.5h1M129.2 94.3h1M127.7 89.2h1M132.0 76.1h1M129.7 117.6h1M128.3 108.3h1M130.8 111.3h1M129.6 96.5h1M131.4 120.1h1M128.4 101.6h1M125.5 117.7h1M128.8 79.4h1M129.8 91.9h1M129.0 102.2h1M128.4 90.7h1M127.9 96.5h1M126.9 87.1h1M127.0 105.8h1M128.3 129.0h1M129.2 79.6h1M127.4 61.6h1M128.2 88.4h1M127.9 63.6h1M128.1 104.1h1M125.4 115.2h1M131.7 74.0h1M124.9 125.6h1M126.0 126.0h1M131.7 106.5h1M129.5 87.2h1M131.2 106.3h1M126.2 123.7h1M130.9 80.0h1M131.1 124.3h1M125.3 114.1h1M130.5 76.5h1M124.7 116.1h1M129.2 94.6h1M128.3 76.5h1M129.8 89.9h1M124.2 125.5h1M125.1 88.5h1M130.6 84.5h1M127.5 116.9h1M130.3 117.7h1M129.9 85.5h1M128.2 108.9h1M125.8 109.7h1M125.4 100.4h1M128.9 102.2h1M127.1 89.0h1M132.4 96.1h1M132.5 94.3h1M129.3 108.1h1M131.3 103.9h1M129.4 86.9h1M128.4 86.3h1M134.6 99.0h1M128.2 100.0h1M130.5 114.4h1M126.3 105.6h1M127.9 119.8h1M130.3 105.3h1M123.5 126.6h1M123.6 116.7h1M125.7 115.3h1M127.4 105.9h1M129.3 95.5h1M125.0 124.7h1M127.2 97.6h1M127.2 90.8h1M124.3 121.3h1M127.6 122.7h1M125.5 124.5h1M127.5 77.2h1M125.0 109.8h1M125.0 127.7h1M123.0 123.8h1M128.2 111.4h1M127.0 127.0h1M127.0 79.1h1M125.6 119.9h1M128.7 89.1h1M127.4 127.8h1M125.8 112.7h1M128.8 83.1h1M127.6 76.7h1M124.8 127.8h1M128.2 73.3h1M135.8 73.2h1M131.0 104.8h1M127.5 123.3h1M128.1 114.9h1M124.4 107.4h1M127.2 57.4h1M131.2 63.3h1M129.1 96.6h1M131.8 94.2h1M129.5 79.0h1M130.4 95.9h1M129.7 74.1h1M129.4 107.5h1M129.1 105.8h1M131.4 100.2h1M127.2 103.0h1M129.1 73.5h1M128.0 90.9h1M127.7 111.4h1M130.0 98.4h1M127.7 114.0h1M123.4 107.2h1M128.3 79.8h1M125.4 128.9h1M128.2 97.6h1M125.4 120.2h1M128.8 72.6h1M131.4 88.6h1M130.8 88.0h1M132.5 87.7h1M123.7 112.4h1M125.8 104.3h1M127.0 70.3h1M130.6 106.0h1M130.9 82.6h1M128.3 88.9h1M127.0 105.2h1M129.1 103.2h1M131.6 103.6h1M132.4 78.8h1M126.1 112.1h1M130.2 108.2h1M129.1 64.3h1M132.5 76.7h1M134.6 105.4h1M130.0 101.7h1M130.7 77.3h1M124.0 89.6h1M130.6 81.0h1M125.6 92.7h1M127.4 99.7h1M131.3 93.7h1M126.5 77.0h1M134.8 92.6h1M125.8 118.6h1M131.1 85.6h1M128.4 86.0h1M130.6 98.2h1M128.4 82.7h1M126.2 127.0h1M122.1 125.8h1M130.7 104.8h1M128.7 119.7h1M125.7 128.5h1M128.9 81.6h1M125.3 108.7h1M128.0 87.6h1M128.0 115.3h1M129.7 98.0h1M127.7 126.1h1M131.7 98.6h1M131.6 94.3h1M129.9 98.7h1M129.1 105.6h1M129.0 92.7h1M130.1 118.3h1M127.4 95.9h1M125.5 115.3h1M127.0 126.3h1M124.3 110.9h1M128.8 92.0h1M123.2 121.3h1M127.6 90.8h1M136.2 111.7h1M124.3 105.0h1M128.2 126.1h1M125.4 121.2h1M127.4 79.2h1M126.6 83.9h1M130.7 71.9h1M128.3 95.2h1M129.5 85.6h1M133.0 87.3h1M126.9 82.0h1M122.0 124.2h1M129.4 96.2h1M130.7 115.0h1M126.5 127.5h1M131.8 104.6h1M131.7 81.7h1M128.5 112.3h1M125.5 116.5h1M129.8 80.1h1M131.9 96.0h1M130.5 74.7h1M126.2 128.6h1M127.2 125.5h1M126.5 125.5h1M131.2 85.3h1M128.8 94.5h1M131.0 120.5h1M129.1 107.9h1M128.6 107.1h1M126.2 74.7h1M125.6 80.9h1M125.9 129.2h1M125.6 128.3h1M133.6 98.9h1M125.1 126.9h1M127.6 70.8h1M131.0 97.7h1M123.5 103.8h1M127.2 120.3h1M124.3 115.3h1M121.8 102.6h1M122.4 122.0h1M129.2 83.1h1M127.2 116.9h1M128.9 87.4h1M124.7 119.8h1M128.4 104.6h1M130.1 88.6h1M129.2 96.4h1M130.5 122.8h1M129.6 116.7h1M125.5 110.4h1M126.7 104.3h1M127.7 81.3h1M127.9 112.1h1M130.1 111.6h1M132.3 102.7h1M129.8 66.6h1M128.2 88.1h1M124.8 129.6h1M125.7 92.0h1M132.9 83.9h1M126.7 113.0h1M128.3 91.4h1M133.5 93.3h1M128.1 90.7h1M128.8 96.3h1M129.6 102.3h1M122.8 115.4h1M124.7 108.4h1M133.8 123.8h1M129.8 97.8h1M123.6 103.9h1M125.3 126.3h1M126.4 124.0h1M130.6 77.7h1M126.7 119.8h1M124.1 119.8h1M129.5 90.9h1M130.3 113.2h1M125.3 126.4h1M127.3 83.6h1M127.4 74.6h1M124.6 88.3h1M131.2 107.0h1M130.1 81.4h1M129.3 84.2h1M129.4 97.2h1M132.2 94.7h1M128.5 93.5h1M125.3 102.2h1M131.7 85.6h1M124.8 86.4h1M128.7 92.0h1M132.0 94.2h1M131.9 106.3h1M127.4 112.7h1M129.4 81.3h1M128.4 100.6h1M128.9 61.7h1M126.8 118.5h1M130.2 121.3h1M130.5 92.7h1M133.2 96.2h1M129.4 108.8h1M127.6 103.7h1M129.0 83.1h1M134.3 95.6h1M127.1 102.1h1M129.9 115.6h1M124.5 121.1h1M129.2 110.6h1M126.6 114.4h1M128.3 94.3h1M127.9 80.0h1M128.0 86.6h1M127.8 115.5h1M130.8 114.6h1M129.8 99.7h1M127.7 87.1h1M128.6 114.4h1M121.2 115.6h1M128.1 105.7h1M134.5 91.0h1M124.0 62.0h1M125.7 128.9h1M132.0 55.5h1M133.6 66.9h1M132.2 95.0h1M128.7 75.5h1M131.4 116.0h1M132.3 103.4h1M127.5 104.8h1M126.6 125.6h1M125.2 115.4h1M127.2 109.3h1M131.8 104.4h1M127.4 80.4h1M132.1 93.7h1M129.4 103.2h1M126.7 129.1h1M125.4 128.0h1M131.3 90.9h1M128.4 101.3h1M129.2 78.4h1M123.0 123.2h1M129.6 71.7h1M127.5 103.9h1M130.8 100.9h1M129.8 68.0h1M128.8 98.0h1M128.4 90.3h1M125.6 119.1h1M125.1 126.5h1M129.7 108.5h1M126.3 90.6h1M126.2 91.9h1M130.0 75.1h1M132.7 92.3h1M130.2 90.8h1M129.1 89.8h1M133.5 81.5h1M128.9 106.5h1M128.0 93.1h1M129.8 83.8h1M129.9 115.1h1M128.8 80.4h1M129.5 112.7h1M128.2 96.3h1M127.0 122.7h1M127.7 120.1h1M121.5 125.0h1M131.9 97.7h1M127.0 128.3h1M129.3 105.4h1M129.8 92.4h1M126.6 116.0h1M130.2 119.9h1M129.4 81.5h1M131.2 71.1h1M124.4 100.3h1M132.9 106.4h1M129.8 84.3h1M129.5 98.1h1M125.6 105.5h1M127.4 65.9h1M130.2 87.7h1M119.3 113.9h1M132.0 89.0h1M127.3 94.7h1M126.4 101.9h1M129.4 79.8h1M132.9 79.5h1M129.1 99.7h1M131.6 94.3h1M123.5 121.2h1M126.3 107.6h1M127.0 129.6h1M123.6 122.8h1M122.0 127.9h1M126.7 100.9h1M126.3 113.3h1M128.8 71.6h1M129.3 109.6h1M130.5 82.1h1M125.4 126.8h1M127.6 124.0h1M129.0 85.8h1M127.1 118.7h1M126.5 96.3h1M127.6 125.2h1M125.6 127.7h1M131.6 98.7h1M126.0 92.5h1M129.5 119.5h1M125.0 106.4h1M127.6 121.6h1M126.9 88.2h1M124.3 122.9h1M130.1 101.5h1M126.2 82.3h1M129.1 119.0h1M134.0 93.1h1M129.8 104.9h1M126.1 86.6h1M130.7 86.4h1M127.9 104.6h1M128.4 106.1h1M129.3 91.1h1M131.6 93.9h1M131.6 113.1h1M130.0 82.4h1M131.7 104.4h1M125.9 117.3h1M134.9 61.4h1M125.4 109.5h1M125.5 104.6h1M126.6 112.3h1M130.1 106.7h1M131.3 80.9h1M126.5 80.0h1M127.7 116.8h1M128.4 114.2h1M134.0 110.7h1M126.3 118.0h1M123.6 118.5h1M124.1 105.3h1M127.4 108.8h1M127.4 125.7h1M128.9 103.6h1M129.3 77.8h1M127.9 82.0h1M129.4 87.0h1M129.5 58.6h1M134.6 103.4h1M126.3 124.0h1M126.3 97.4h1M128.6 82.9h1M129.0 81.3h1M125.3 83.1h1M129.2 92.7h1M128.0 112.4h1M127.2 120.5h1M124.5 118.5h1M127.1 109.9h1M127.1 123.8h1M131.1 71.6h1M130.0 81.0h1M126.4 92.3h1M130.8 94.4h1M130.5 121.7h1M127.7 104.3h1M121.8 105.0h1M131.1 83.3h1M131.6 96.1h1M127.5 114.5h1M128.7 73.9h1M129.1 124.2h1M130.4 104.7h1M128.9 98.2h1M127.5 109.6h1M129.9 82.7h1M131.9 92.0h1M129.0 102.1h1M125.0 109.8h1M127.6 96.8h1M129.6 95.0h1M130.3 92.8h1M126.1 113.9h1M129.8 109.4h1M125.6 117.8h1M129.1 122.7h1M131.7 114.1h1M129.3 116.6h1M127.6 115.4h1M129.7 105.6h1M122.6 110.4h1M132.7 93.0h1M125.1 116.7h1M126.9 93.8h1M128.6 85.1h1M125.8 104.6h1M129.3 89.3h1M125.7 125.7h1M126.8 116.5h1M131.5 76.1h1M129.0 104.9h1M126.0 110.6h1M127.5 105.5h1M127.7 75.8h1M127.6 127.9h1M126.7 91.6h1M128.4 82.7h1M130.6 120.0h1M128.4 92.7h1M127.7 112.0h1M130.2 92.5h1M124.4 99.5h1M129.6 91.8h1M131.2 69.4h1M129.6 53.9h1M130.4 85.6h1M124.5 119.3h1M129.3 89.8h1M125.7 121.7h1M126.7 119.6h1M124.4 108.1h1M128.1 79.2h1M130.2 89.2h1M125.0 127.7h1M128.6 112.3h1M132.1 101.0h1M129.8 89.6h1M129.4 80.8h1M129.7 102.8h1M124.4 120.0h1M125.6 118.2h1M127.2 79.0h1M124.4 122.2h1M132.8 87.3h1M127.6 87.5h1M129.1 93.4h1M128.6 81.0h1M126.8 107.1h1M128.7 81.6h1M126.2 119.6h1M127.8 116.8h1M128.5 61.0h1M130.1 85.2h1M125.8 129.1h1M128.7 73.6h1M127.0 110.9h1M132.6 72.4h1M127.1 78.1h1M129.0 85.2h1M130.0 101.4h1M127.6 123.6h1M124.8 114.5h1M126.8 60.3h1M128.6 97.1h1M130.2 112.6h1M129.8 105.1h1M127.3 111.5h1M127.8 98.5h1M126.0 122.0h1M127.2 110.2h1M126.5 85.7h1M123.8 115.3h1M127.9 105.3h1M133.4 63.5h1M129.5 94.9h1M126.0 73.6h1M124.2 125.9h1M129.2 86.2h1M127.4 73.5h1M129.7 77.0h1M128.0 79.5h1M127.7 85.4h1M126.7 85.9h1M129.0 105.9h1M129.9 77.4h1M128.8 106.8h1M128.0 122.9h1M126.4 120.0h1M131.7 95.2h1M126.9 92.7h1M130.7 95.0h1M127.5 100.7h1M125.4 121.9h1M126.0 110.7h1M130.4 82.1h1M129.7 82.0h1M129.8 114.9h1M125.4 110.9h1M127.3 120.4h1M125.3 111.6h1M129.2 107.2h1M130.6 115.5h1M127.6 84.3h1M128.4 125.8h1M125.6 107.7h1M129.0 126.1h1M128.0 111.6h1M130.6 91.4h1M124.2 124.6h1M132.5 100.6h1M128.4 101.0h1M127.5 101.2h1M131.7 60.7h1M127.0 98.7h1M126.6 116.4h1M126.3 116.4h1M127.8 90.8h1M129.4 120.9h1M133.0 88.4h1M127.6 84.7h1M132.4 101.1h1M129.9 115.6h1M127.2 107.8h1M129.9 104.0h1M133.8 94.8h1M128.3 82.6h1M126.7 108.3h1M124.7 119.3h1M132.4 114.1h1M131.4 82.1h1M125.2 119.0h1M126.9 117.0h1M131.0 62.6h1M128.3 99.0h1M131.7 77.3h1M129.7 76.1h1M132.0 97.5h1M129.9 96.9h1M129.7 95.4h1M126.8 106.7h1M128.3 114.8h1M127.3 128.7h1M126.7 78.2h1M126.9 129.0h1M132.0 76.7h1M130.1 110.8h1M129.6 103.5h1M127.5 110.6h1M124.7 118.8h1M127.7 91.9h1M126.8 113.7h1M125.4 111.9h1M129.9 62.4h1M125.7 126.1h1M127.6 106.9h1M131.7 102.0h1M130.1 86.0h1M131.1 85.5h1M124.9 100.7h1M130.8 82.3h1M126.8 102.5h1M132.6 75.2h1M124.9 106.1h1M125.7 116.3h1M130.5 104.7h1M131.9 121.6h1M124.6 110.6h1M129.3 74.8h1M126.6 107.0h1M129.8 125.0h1M133.2 107.9h1M129.7 101.1h1M131.4 80.1h1M128.7 79.8h1M126.8 96.7h1M131.0 61.3h1M128.9 92.1h1M131.3 69.7h1M128.9 95.0h1M130.4 120.0h1M128.8 99.1h1M128.7 104.7h1M131.5 77.8h1M129.8 96.3h1M132.2 81.1h1M125.6 127.3h1M127.5 94.7h1M129.5 118.7h1M129.7 106.2h1M128.6 87.4h1M127.8 79.8h1M128.4 68.1h1M129.7 86.6h1M126.3 123.0h1M125.1 114.3h1M125.3 118.7h1M130.6 80.7h1M131.7 75.4h1M132.8 89.5h1M126.8 103.4h1M127.1 93.5h1M127.7 125.3h1M129.0 69.3h1M130.5 101.9h1M131.3 75.4h1M128.2 97.1h1M126.3 125.4h1M123.6 125.6h1M125.5 97.0h1M129.0 116.4h1M133.4 73.3h1M124.8 101.3h1M126.8 85.5h1M128.6 87.1h1M130.9 94.3h1M126.2 80.5h1M129.5 65.0h1M131.7 101.5h1M121.6 123.1h1M126.7 94.1h1M130.9 88.6h1M131.6 84.8h1M126.5 103.1h1M131.1 83.3h1M129.9 110.5h1M124.4 111.9h1M129.1 92.9h1M128.4 83.6h1M125.9 125.6h1M128.8 104.1h1M125.5 107.3h1M123.5 127.9h1M123.6 124.1h1M126.8 88.6h1M129.1 82.3h1M130.7 101.1h1M125.9 117.6h1M128.2 80.6h1M128.4 69.5h1M128.3 122.9h1M129.2 90.2h1M129.3 94.6h1M127.6 95.1h1M127.6 110.4h1M126.4 115.5h1M129.7 118.2h1M128.8 99.5h1M130.2 113.9h1M130.3 93.3h1M129.9 83.9h1M126.3 78.5h1M125.9 127.9h1M126.7 97.3h1M127.9 127.0h1M128.1 114.7h1M130.2 75.5h1M128.1 101.8h1M128.3 127.4h1M122.3 118.1h1M130.8 82.9h1M128.5 61.8h1M125.1 112.4h1M126.5 105.1h1M129.3 78.0h1M128.0 115.0h1M131.4 77.2h1M125.9 113.1h1M126.7 101.7h1M131.3 82.4h1M128.6 124.8h1M126.6 96.0h1M125.1 128.4h1M128.4 110.1h1M128.5 93.7h1M129.6 106.4h1M127.0 98.1h1M126.6 105.2h1M133.1 123.7h1M128.5 125.1h1M132.3 77.6h1M130.2 85.9h1M125.6 116.8h1M132.0 92.2h1M132.5 98.2h1M127.1 112.8h1M128.3 96.7h1M127.3 126.4h1M126.9 116.9h1M126.2 64.6h1M130.7 76.5h1M127.4 127.8h1M123.5 127.5h1M132.8 83.2h1M125.7 103.1h1M127.0 84.8h1M127.8 79.8h1M126.6 121.3h1M129.2 78.6h1M126.3 80.3h1M126.2 129.2h1M130.2 80.5h1M128.1 79.6h1M124.2 91.9h1M124.9 110.1h1M127.3 95.8h1M127.1 128.6h1M126.3 112.0h1M126.8 127.8h1M134.6 108.2h1M129.0 95.4h1M125.8 128.6h1M131.1 84.8h1M128.8 125.1h1M130.2 117.8h1M129.4 70.7h1M123.7 124.0h1M125.0 92.2h1M126.9 95.6h1M127.7 100.1h1M124.9 108.1h1M125.0 99.8h1M126.7 110.8h1M127.7 96.3h1M128.1 84.9h1M133.2 90.9h1M129.7 111.3h1M126.7 85.3h1M129.4 114.0h1M128.5 95.6h1M127.3 92.6h1M126.2 109.0h1M134.7 86.6h1M129.0 80.9h1M127.6 74.6h1M125.8 127.3h1M128.9 114.9h1M126.2 128.3h1M128.9 80.2h1M124.7 116.1h1M124.8 121.8h1M125.0 100.3h1M129.3 81.8h1M130.2 86.0h1M130.1 85.8h1M126.5 119.7h1M130.2 116.2h1M127.0 125.2h1M130.3 94.7h1M124.8 111.8h1M127.9 96.4h1M125.4 127.9h1M131.6 92.5h1M126.1 123.2h1M129.0 80.2h1M126.5 116.2h1M131.8 105.2h1M128.1 88.5h1M126.8 98.0h1M126.7 125.6h1M129.2 72.5h1M132.3 92.8h1M131.9 91.9h1M129.0 104.0h1M126.3 121.4h1M129.0 96.8h1M130.7 114.1h1M130.3 87.9h1M129.0 113.2h1M123.3 96.1h1M125.6 102.5h1M126.3 121.9h1M130.5 95.5h1M130.7 69.6h1M126.4 126.6h1M124.3 100.2h1M129.6 50.5h1M127.7 87.7h1M122.1 113.7h1M127.4 88.1h1M128.3 92.6h1M127.2 120.1h1M131.0 92.3h1M128.3 107.2h1M126.8 119.4h1M125.7 117.5h1M127.3 112.9h1M126.7 92.7h1M128.3 122.0h1M128.8 97.5h1M131.6 88.8h1M129.6 103.7h1M128.6 84.2h1M129.0 93.6h1M128.2 103.8h1M129.5 81.3h1M124.2 69.9h1M124.3 122.2h1M131.6 118.9h1M129.6 88.4h1M132.4 86.8h1M126.5 109.9h1M123.9 111.6h1M126.2 119.3h1M128.7 87.3h1M128.0 80.3h1M131.7 82.6h1M132.2 77.6h1M128.1 85.0h1M131.7 119.5h1M128.0 126.1h1M125.7 101.6h1M130.1 112.4h1M129.1 105.6h1M126.4 126.0h1M122.9 120.9h1M129.3 105.2h1M126.5 104.3h1M133.4 93.8h1M127.0 92.7h1M124.1 110.4h1M129.2 107.0h1M124.4 115.5h1M130.4 121.8h1M125.6 109.5h1M130.4 100.5h1M127.7 79.7h1M128.2 92.6h1M129.8 89.0h1M128.0 88.3h1M130.8 82.9h1M128.1 83.7h1M130.3 120.8h1M129.7 113.7h1M126.4 79.4h1M133.8 89.4h1M129.0 105.3h1M127.9 82.3h1M129.4 100.9h1M126.4 128.2h1M129.2 117.5h1M130.0 109.4h1M129.5 122.9h1M125.5 101.5h1M126.7 127.2h1M125.7 117.4h1M124.1 129.0h1M124.8 123.6h1M126.8 94.3h1M129.3 104.4h1M128.9 81.7h1M127.5 123.0h1M126.7 120.1h1M126.6 126.6h1M128.1 119.6h1M125.4 114.9h1M127.6 108.1h1M126.8 117.1h1M125.6 121.1h1M125.3 110.6h1M126.8 127.1h1M130.8 88.4h1M133.2 101.1h1M128.9 104.1h1M130.1 60.0h1M125.9 101.8h1M129.4 77.4h1M132.0 72.6h1M133.5 101.2h1M128.3 119.1h1M131.9 109.9h1M130.0 124.9h1M133.6 75.0h1M131.0 95.6h1M128.2 91.2h1M130.0 91.5h1M129.7 122.9h1M127.7 97.8h1M126.8 122.3h1M126.9 98.7h1M125.4 122.9h1M123.4 121.7h1M129.4 123.4h1M126.9 102.7h1M126.9 123.7h1M129.0 111.4h1M127.3 108.4h1M127.5 80.2h1M128.2 90.6h1M126.2 100.3h1M129.7 93.0h1M125.3 129.0h1M130.5 111.2h1M126.5 115.3h1M130.3 96.5h1M124.5 123.1h1M126.1 78.4h1M128.8 78.0h1M131.5 68.5h1M131.5 87.1h1M131.1 106.3h1M125.6 129.5h1M125.8 123.6h1M128.1 110.3h1M128.6 92.7h1M129.5 105.8h1M131.1 82.7h1M131.4 84.3h1M125.6 113.3h1M132.2 80.1h1M123.7 103.2h1M125.8 125.9h1M125.4 127.8h1M127.6 111.2h1M127.2 108.8h1M129.6 120.6h1M127.9 84.6h1M129.2 114.1h1M126.9 91.0h1M126.9 118.7h1M128.8 107.9h1M130.1 110.5h1M126.8 91.3h1M125.2 73.8h1M131.1 118.5h1M127.3 64.1h1M128.2 97.1h1M129.1 77.0h1M130.5 117.7h1M128.0 124.7h1M132.0 87.9h1M131.1 108.6h1M130.5 88.1h1M128.1 100.4h1M132.4 89.9h1M131.7 91.8h1M128.9 106.3h1M122.7 116.8h1M126.3 110.1h1M129.5 103.0h1M128.6 79.8h1M129.6 115.3h1M135.4 92.8h1M129.7 61.4h1M129.8 98.0h1M131.1 77.9h1M128.3 129.6h1M124.5 93.2h1M128.5 86.2h1M132.3 84.4h1M129.4 85.9h1M123.6 110.5h1M128.0 122.3h1M124.4 112.5h1M131.4 85.6h1M131.5 95.8h1M127.4 104.4h1M124.6 129.3h1M129.8 101.9h1M128.8 86.0h1M128.1 99.1h1M126.3 111.6h1M128.5 72.0h1M124.6 119.1h1M131.1 77.6h1M130.2 115.0h1M126.4 102.8h1M124.2 127.6h1M130.4 102.6h1M131.3 106.6h1M127.0 128.5h1M132.0 88.6h1M131.3 90.2h1M126.8 123.8h1M128.3 98.3h1M127.9 86.7h1M128.2 104.0h1M125.5 92.0h1M130.0 123.5h1M124.4 126.6h1M127.8 117.8h1M130.3 91.3h1M127.2 115.1h1M129.4 87.4h1M125.0 126.3h1M127.2 105.5h1M129.9 107.8h1M131.0 89.0h1M125.9 96.1h1M129.3 92.4h1M124.5 99.2h1M129.3 65.3h1M129.6 91.6h1M126.2 93.6h1M132.7 93.0h1M124.8 106.6h1M131.0 108.4h1M122.6 122.2h1M131.0 88.8h1M123.3 107.8h1M128.5 81.9h1M124.0 116.0h1M128.9 105.4h1M125.6 112.0h1M128.2 99.2h1M129.9 81.2h1M124.5 118.5h1M126.2 110.3h1M127.9 114.8h1M124.5 124.9h1M130.3 66.5h1M126.1 80.0h1M132.4 113.1h1M131.7 94.3h1M126.2 90.4h1M126.9 97.6h1M126.3 116.3h1M130.3 96.1h1M130.9 83.6h1M131.4 78.5h1M131.7 85.0h1M127.1 86.5h1M129.7 91.0h1M129.1 72.8h1M130.5 81.6h1M127.8 104.5h1M125.9 83.6h1M125.4 125.2h1M135.0 94.1h1M126.5 123.7h1M131.8 70.7h1M128.4 100.4h1M128.4 95.0h1M129.1 95.5h1M128.8 53.8h1M128.1 125.2h1M125.5 122.5h1M124.2 98.7h1M128.9 120.7h1M130.5 72.8h1M128.0 95.6h1M126.9 114.5h1M130.9 75.5h1M127.0 125.9h1M127.2 63.7h1M130.0 121.9h1M134.8 67.3h1M127.3 115.6h1M126.0 101.9h1M131.6 94.5h1M130.4 118.6h1M124.7 126.7h1M122.9 122.5h1M126.9 76.3h1M128.5 82.0h1M125.9 100.8h1M125.4 125.4h1M127.5 99.7h1M123.4 112.7h1M127.4 120.9h1M132.4 92.3h1M125.1 86.3h1M127.6 102.9h1M127.2 100.9h1M127.8 77.6h1M126.0 129.5h1M127.0 86.8h1M130.8 83.1h1M128.5 87.2h1M125.6 102.0h1M130.0 85.0h1M128.1 104.8h1M130.8 111.2h1M128.3 104.7h1M128.5 78.8h1M128.8 128.1h1M128.5 103.7h1M129.9 69.7h1M128.7 126.1h1M127.9 91.4h1M126.1 122.1h1M124.7 118.9h1M134.0 52.6h1M127.2 90.9h1M125.1 105.2h1M126.7 68.1h1M133.1 91.7h1M131.2 77.3h1M127.7 86.1h1M125.4 112.3h1M133.9 100.6h1M127.0 97.4h1M126.2 125.0h1M125.1 116.4h1M133.8 80.5h1M125.3 114.3h1M126.3 84.1h1M126.3 127.1h1M127.4 118.0h1M125.5 129.5h1M127.3 93.4h1M136.7 90.1h1M145.5 85.3h1M143.9 101.4h1M134.4 100.2h1M147.8 88.1h1M133.7 78.2h1M133.7 102.9h1M137.5 71.8h1M136.0 121.5h1M143.7 88.4h1M134.4 86.9h1M132.9 109.0h1M132.8 128.9h1M136.5 97.1h1M134.6 107.0h1M134.6 82.0h1M141.3 91.9h1M139.8 59.1h1M135.4 120.3h1M134.1 89.0h1M131.5 118.3h1M135.8 89.6h1M133.2 97.7h1M135.0 125.4h1M136.2 73.2h1M137.6 82.5h1M136.5 99.8h1M133.1 104.8h1M139.9 106.5h1M138.2 124.1h1M136.5 68.9h1M133.5 113.4h1M136.4 71.0h1M132.7 106.8h1M134.8 110.4h1M139.2 87.6h1M130.8 127.0h1M138.9 96.6h1M136.3 90.6h1M134.3 69.0h1M153.7 114.1h1M136.6 109.7h1M149.7 90.5h1M157.1 91.4h1M133.7 89.2h1M144.2 93.8h1M133.2 124.8h1M139.8 61.5h1M131.7 119.0h1M139.6 76.5h1M143.5 106.3h1M136.0 109.6h1M134.0 70.9h1M133.7 89.7h1M141.3 114.3h1M143.1 108.4h1M134.0 90.3h1M136.1 121.5h1M136.2 71.2h1M135.8 113.4h1M136.6 64.6h1M144.0 69.8h1M138.4 87.8h1M138.9 80.2h1M142.7 119.9h1M135.4 77.4h1M135.6 118.2h1M135.4 88.4h1M136.9 77.3h1M134.5 109.9h1M140.6 72.4h1M134.3 105.4h1M140.1 112.3h1M135.4 82.8h1M139.5 94.4h1M135.5 100.8h1M139.7 121.1h1M134.7 73.8h1M147.2 84.4h1M134.0 128.7h1M134.4 99.5h1M132.4 106.2h1M135.8 94.7h1M135.2 115.7h1M140.4 105.1h1M140.2 94.5h1M145.4 73.7h1M133.5 96.3h1M133.6 112.6h1M143.7 71.8h1M154.5 66.4h1M142.3 128.7h1M137.9 103.6h1M136.1 100.2h1M136.3 84.4h1M147.8 118.3h1M143.1 101.2h1M135.4 82.1h1M134.4 114.5h1M134.3 82.1h1M142.0 68.3h1M148.2 76.9h1M144.6 94.0h1M141.3 78.8h1M142.3 107.9h1M136.2 72.9h1M131.1 126.3h1M133.3 112.5h1M140.7 66.4h1M136.9 92.0h1M135.7 62.1h1M136.3 70.5h1M130.9 119.7h1M136.9 84.8h1M133.2 119.2h1M134.6 87.4h1M138.6 60.1h1M135.8 117.2h1M133.8 99.6h1M151.0 86.6h1M136.4 81.0h1M140.4 73.4h1M134.6 103.8h1M134.9 70.1h1M137.0 70.8h1M140.8 101.6h1M142.3 97.8h1M144.5 102.5h1M130.8 122.4h1M142.9 104.4h1M136.8 108.9h1M131.4 127.5h1M131.6 125.2h1M134.4 100.3h1M133.7 75.3h1M136.2 92.5h1M136.1 96.9h1M135.6 122.7h1M137.9 73.3h1M131.5 123.6h1M144.2 73.5h1M134.1 58.1h1M138.7 65.0h1M133.8 112.5h1M162.4 73.0h1M141.2 97.8h1M136.1 88.3h1M143.7 112.4h1M133.3 99.0h1M133.0 116.5h1M134.9 116.5h1M142.3 97.0h1M142.9 103.1h1M142.2 112.3h1M138.5 128.6h1M135.2 109.3h1M134.6 87.7h1M136.1 123.6h1M133.1 103.8h1M154.3 93.8h1M135.6 102.4h1M132.8 127.8h1M135.6 83.0h1M134.9 95.8h1M142.6 75.7h1M138.7 76.5h1M142.0 71.8h1M135.3 127.1h1M133.8 92.5h1M136.8 71.5h1M135.2 111.4h1M134.4 73.9h1M137.1 62.2h1M132.9 101.6h1M138.9 88.2h1M136.5 79.9h1M142.3 84.5h1M138.7 127.0h1M159.2 91.0h1M137.3 82.4h1M133.5 112.9h1M140.8 113.6h1M138.8 70.9h1M133.6 73.6h1M145.7 88.6h1M135.5 83.2h1M142.8 72.3h1M142.5 129.4h1M136.5 74.3h1M143.1 83.0h1M147.0 107.9h1M141.8 126.2h1M135.2 93.9h1M139.0 98.0h1M148.6 85.1h1M135.0 83.3h1M136.7 72.0h1M135.8 115.0h1M147.5 121.7h1M148.1 121.2h1M134.9 87.6h1M143.0 73.8h1M135.1 92.0h1M132.1 123.2h1M133.5 55.2h1M138.2 90.5h1M135.0 110.9h1M132.8 104.4h1M144.5 81.2h1M153.5 62.4h1M147.5 115.2h1M164.8 68.3h1M132.6 126.5h1M139.5 100.1h1M135.7 127.0h1M149.5 112.6h1M146.6 81.5h1M135.8 70.3h1M136.7 86.0h1M140.7 128.0h1M137.3 78.7h1M135.7 78.6h1M141.3 109.9h1M133.5 91.3h1M141.4 56.5h1M135.6 117.1h1M144.7 112.7h1M134.2 111.8h1M137.8 72.1h1M135.2 63.5h1M133.6 75.8h1M138.6 68.6h1M136.7 120.7h1M143.5 96.5h1M142.4 83.0h1M141.3 93.0h1M131.6 116.7h1M138.5 84.8h1M133.4 86.3h1M139.3 104.8h1M131.2 124.3h1M147.9 124.9h1M140.6 120.3h1M146.8 116.1h1M140.3 80.3h1M134.8 61.0h1M131.4 116.0h1M134.1 63.5h1M133.6 93.2h1M148.9 87.8h1M133.8 67.2h1M162.9 90.1h1M133.4 104.5h1M134.0 103.1h1M151.1 74.7h1M142.6 78.4h1M138.2 101.4h1M134.7 73.3h1M133.3 95.8h1M145.9 80.2h1M150.3 68.3h1M133.0 116.1h1M134.4 64.0h1M140.4 97.9h1M138.3 66.2h1M131.9 124.2h1M134.7 104.8h1M132.7 122.5h1M134.7 93.4h1M131.2 128.5h1M133.0 97.8h1M138.2 110.4h1M134.5 56.9h1M151.4 87.6h1M137.9 103.4h1M145.0 118.0h1M142.7 111.2h1M137.8 57.3h1M137.6 84.6h1M132.0 115.7h1M133.5 71.2h1M135.9 94.2h1M135.1 76.8h1M142.5 102.8h1M139.3 103.4h1M144.0 91.1h1M139.2 74.4h1M141.7 79.4h1M132.5 110.7h1M136.8 123.9h1M133.6 114.5h1M133.9 129.4h1M133.6 77.0h1M135.6 61.5h1M169.0 77.0h1M135.3 71.0h1M138.6 92.1h1M140.9 71.7h1M142.2 100.1h1M144.7 70.9h1M142.1 105.6h1M134.8 104.1h1M140.7 125.5h1M137.9 110.0h1M153.5 74.4h1M145.1 116.3h1M145.1 96.8h1M134.2 105.0h1M155.2 88.9h1M139.5 92.8h1M138.3 109.8h1M133.2 127.3h1M131.1 121.8h1M135.5 56.0h1M131.5 121.5h1M135.2 116.1h1M136.7 114.5h1M149.3 81.6h1M134.3 68.8h1M134.5 110.4h1M135.0 95.2h1M138.3 86.5h1M140.8 77.4h1M138.6 118.6h1M135.2 91.2h1M134.2 108.9h1M135.0 87.0h1M146.8 64.7h1M138.4 80.0h1M137.4 86.9h1M135.7 72.5h1M143.6 101.8h1M140.4 105.1h1M137.0 113.7h1M139.4 101.5h1M145.0 84.6h1M140.2 73.0h1M146.0 83.3h1M134.1 103.1h1M134.3 96.7h1M141.4 91.7h1M132.4 108.4h1M135.5 100.2h1M138.0 79.6h1M144.0 107.1h1M133.9 125.3h1M152.6 93.0h1M133.9 118.7h1M153.7 100.8h1M159.6 95.8h1M133.8 126.5h1M134.9 79.8h1M135.8 112.5h1M143.0 71.3h1M134.9 57.5h1M135.4 67.4h1M133.5 97.1h1M135.4 67.9h1M131.8 128.8h1M141.5 95.6h1M138.2 86.9h1M139.9 95.0h1M132.4 111.1h1M138.4 110.9h1M141.6 125.2h1M156.8 66.6h1M138.9 67.8h1M154.7 80.4h1M134.7 113.2h1M144.1 82.4h1M158.7 104.6h1M132.9 100.1h1M133.3 99.3h1M146.3 66.3h1M131.7 120.0h1M138.7 101.3h1M138.4 111.7h1M149.3 68.8h1M135.8 65.6h1M137.1 62.2h1M137.8 91.1h1M148.5 68.3h1M134.3 82.1h1M134.8 119.0h1M137.3 103.6h1M136.0 114.5h1M132.0 128.5h1M145.8 77.5h1M134.2 74.3h1M138.8 66.1h1M135.4 103.3h1M138.4 114.3h1M145.4 84.5h1M142.0 110.9h1M146.9 77.9h1M141.8 73.5h1M143.6 124.2h1M141.6 108.1h1M136.2 82.7h1M146.5 92.8h1M134.5 108.4h1M136.6 67.2h1M131.5 127.4h1M134.6 70.9h1M139.8 91.8h1M134.6 122.3h1M143.2 92.2h1M133.6 124.1h1M146.6 81.7h1M152.1 90.9h1M146.9 83.2h1M140.5 90.5h1M134.0 70.3h1M134.5 104.3h1M134.1 76.8h1M136.6 108.5h1M137.9 107.0h1M137.3 104.3h1M133.2 111.9h1M152.6 105.9h1M140.0 95.8h1M135.6 99.1h1M136.1 71.3h1M140.8 96.1h1M137.3 79.8h1M140.7 62.9h1M132.5 113.4h1M155.7 119.0h1M154.0 99.1h1M135.6 81.6h1M140.6 99.9h1M142.7 87.8h1M130.7 126.7h1M141.2 111.5h1M134.2 71.7h1M138.1 80.2h1M132.6 110.1h1M136.2 66.5h1M134.9 83.5h1M138.6 74.3h1M133.1 100.8h1M162.8 93.0h1M131.3 125.5h1M141.8 116.5h1M136.9 85.0h1M141.3 85.1h1M130.7 124.4h1M136.0 128.0h1M140.9 97.8h1M136.1 58.9h1M136.7 89.6h1M147.3 126.9h1M159.7 114.9h1M141.5 57.8h1M140.5 100.9h1M152.1 88.2h1M145.7 76.5h1M135.1 123.0h1M135.5 129.3h1M136.3 73.8h1M135.0 66.3h1M136.7 86.0h1M138.9 126.6h1M137.4 84.8h1M148.3 84.5h1M141.2 92.2h1M137.4 102.7h1M134.0 94.1h1M130.3 126.7h1M134.7 68.0h1M136.4 71.7h1M134.2 100.2h1M139.4 108.9h1M151.1 97.9h1M134.3 124.4h1M152.7 118.3h1M139.5 62.4h1M138.5 90.0h1M140.2 109.0h1M151.1 90.8h1M138.8 89.6h1M137.8 99.3h1M132.1 113.5h1M141.0 116.7h1M134.9 121.3h1M147.2 121.8h1M131.7 113.9h1M134.0 76.1h1M139.8 91.8h1M139.5 96.5h1M169.7 99.7h1M131.8 125.5h1M137.5 69.4h1M145.0 109.9h1M133.6 100.5h1M137.2 101.1h1M140.6 81.0h1M134.1 70.2h1M133.7 103.3h1M136.2 112.7h1M147.8 82.4h1M147.0 104.2h1M149.6 116.3h1M131.9 124.0h1M131.1 125.7h1M150.1 61.6h1M143.5 67.3h1M133.7 67.9h1M133.8 97.3h1M136.6 82.1h1M137.9 67.0h1M146.6 89.4h1M136.8 106.8h1M134.0 72.8h1M132.6 120.8h1M139.1 121.4h1M144.5 78.0h1M140.0 82.3h1M132.9 106.4h1M136.8 91.9h1M143.0 115.1h1M132.5 121.7h1M132.9 104.9h1M159.0 86.8h1M148.4 80.8h1M132.0 119.9h1M143.8 70.8h1M149.2 58.4h1M134.2 127.2h1M139.0 79.7h1M139.6 94.3h1M135.4 88.9h1M132.8 98.5h1M135.2 120.2h1M134.4 74.8h1M140.0 123.8h1M134.0 100.2h1M134.8 111.7h1M133.8 129.4h1M140.3 106.1h1M141.9 77.8h1M133.5 72.9h1M144.7 74.2h1M132.8 112.8h1M133.9 68.3h1M149.0 71.6h1M133.5 103.9h1M152.3 91.8h1M144.3 105.1h1M132.8 99.4h1M137.0 108.8h1M134.8 62.0h1M139.0 105.5h1M135.4 89.9h1M136.7 94.2h1M137.4 121.5h1M155.7 112.1h1M141.3 105.7h1M136.8 116.5h1M136.9 83.6h1M147.6 100.5h1M151.6 90.4h1M145.1 74.6h1M150.4 76.7h1M141.4 124.2h1M138.8 69.9h1M146.0 59.1h1M133.8 105.9h1M133.7 81.7h1M138.3 82.6h1M155.2 97.1h1M146.7 86.8h1M135.7 127.5h1M137.2 79.5h1M160.9 106.6h1M132.4 110.3h1M143.9 125.5h1M138.7 112.7h1M145.5 116.0h1M144.3 79.7h1M144.4 83.4h1M137.5 74.9h1M143.2 92.9h1M139.6 70.2h1M134.3 82.3h1M137.1 119.6h1M144.3 116.1h1M142.5 80.3h1M132.4 126.4h1M139.9 66.1h1M134.0 104.3h1M135.3 81.3h1M134.1 78.8h1M132.3 120.7h1M135.9 71.5h1M149.0 61.7h1M134.6 66.9h1M133.5 113.9h1M130.6 125.0h1M141.5 99.3h1M142.7 69.9h1M140.4 71.7h1M143.2 82.1h1M133.9 74.4h1M134.2 113.2h1M158.2 67.4h1M133.9 104.2h1M134.0 73.2h1M131.4 128.4h1M137.2 96.4h1M133.0 124.2h1M148.0 119.6h1M132.2 127.8h1M138.7 67.3h1M134.9 118.4h1M145.8 123.9h1M133.9 100.3h1M134.8 76.6h1M156.6 105.4h1M153.2 115.2h1M140.8 98.1h1M137.1 56.6h1M136.5 90.6h1M133.7 90.7h1M135.8 101.9h1M137.6 87.9h1M135.1 94.9h1M138.2 64.9h1M141.8 65.3h1M134.7 70.9h1M135.7 75.9h1M150.2 116.9h1M138.5 87.9h1M134.8 112.9h1M134.6 112.7h1M164.2 90.0h1M140.0 73.4h1M135.3 74.9h1M135.3 112.6h1M141.9 88.1h1M139.0 84.4h1M140.2 82.0h1M133.8 55.5h1M137.2 79.4h1M133.7 48.6h1M133.6 79.8h1M137.1 73.6h1M134.5 59.8h1M132.9 125.9h1M142.4 87.2h1M132.8 124.5h1M134.9 99.4h1M138.4 75.6h1M137.8 84.3h1M142.3 70.1h1M132.5 123.4h1M138.0 97.0h1M142.2 52.6h1M143.9 122.2h1M141.0 118.3h1M144.2 85.4h1M146.5 110.5h1M130.9 120.4h1M134.4 85.7h1M143.6 124.1h1M136.1 120.7h1M134.4 128.3h1M143.5 73.6h1M131.9 111.8h1M138.1 120.8h1M142.5 81.6h1M141.9 84.1h1M133.6 127.6h1M137.0 126.4h1M133.7 76.1h1M130.0 129.6h1M142.0 69.6h1M136.9 76.8h1M134.8 105.1h1M131.9 122.9h1M150.4 101.6h1M145.6 93.0h1M134.0 84.3h1M131.5 116.0h1M134.9 76.1h1M139.5 70.6h1M152.8 86.2h1M133.6 96.4h1M141.9 67.6h1M135.6 80.1h1M140.1 76.2h1M142.8 113.7h1M132.5 120.6h1M136.2 123.9h1M139.9 107.0h1M133.2 106.7h1M141.6 93.4h1M142.9 105.9h1M134.1 92.0h1M143.5 112.6h1M133.9 73.2h1M140.3 95.0h1M133.5 92.9h1M139.8 79.6h1M135.2 88.5h1M140.4 108.2h1M131.3 116.8h1M131.1 126.0h1M141.3 110.4h1M147.4 125.1h1M134.0 95.9h1M135.9 123.1h1M140.7 75.8h1M144.3 125.3h1M134.4 74.3h1M133.5 113.6h1M135.9 85.2h1M165.9 110.5h1M143.1 88.5h1M139.7 94.4h1M132.5 128.2h1M134.0 85.7h1M133.9 88.6h1M140.7 91.4h1M139.4 102.9h1M143.9 86.0h1M144.2 76.0h1M142.5 68.2h1M142.0 116.2h1M137.3 92.4h1M133.3 105.2h1M130.4 125.7h1M137.6 113.8h1M135.4 124.5h1M148.5 87.3h1M145.7 119.1h1M139.9 92.7h1M133.9 117.3h1M138.1 103.4h1M151.8 75.6h1M149.7 67.8h1M137.6 68.8h1M135.8 79.3h1M134.1 103.5h1M138.6 65.1h1M141.9 81.5h1M146.9 86.0h1M133.8 101.1h1M135.4 107.1h1M133.8 106.3h1M135.5 71.0h1M134.1 85.1h1M143.1 58.4h1M138.7 116.3h1M136.3 124.5h1M137.6 67.2h1M134.9 70.6h1M134.4 96.2h1M132.7 114.2h1M145.8 113.0h1M139.9 102.7h1M134.2 106.7h1M135.4 78.2h1M133.8 113.7h1M138.3 123.4h1M131.6 119.3h1M143.2 126.8h1M144.5 114.7h1M135.6 103.0h1M134.2 85.8h1M145.5 104.1h1M141.9 124.0h1M135.3 80.4h1M142.2 76.9h1M134.4 60.3h1M139.8 88.6h1M135.7 104.9h1M141.9 79.2h1M137.4 104.3h1M148.4 108.7h1M158.4 121.3h1M135.3 112.2h1M131.4 125.7h1M135.7 96.1h1M145.4 87.0h1M133.9 83.3h1M131.3 123.8h1M136.9 114.7h1M138.2 78.0h1M145.6 63.5h1M138.0 78.1h1M143.1 107.8h1M138.0 105.7h1M133.7 109.7h1M148.6 108.1h1M137.4 106.1h1M147.9 125.5h1M132.1 107.1h1M133.0 99.9h1M145.0 81.1h1M139.3 86.5h1M144.4 110.3h1M138.1 95.6h1M150.1 91.4h1M140.2 71.6h1M135.4 67.7h1M135.6 92.1h1M146.6 88.0h1M135.9 92.4h1M131.7 116.8h1M136.7 91.3h1M145.1 85.5h1M136.2 102.3h1M146.1 114.7h1M133.5 74.7h1M139.6 99.9h1M132.1 113.9h1M144.0 85.3h1M134.1 102.3h1M134.0 58.3h1M138.7 122.5h1M133.3 102.9h1M143.5 86.3h1M144.4 69.9h1M137.5 95.8h1M134.2 97.7h1M135.6 69.1h1M131.5 126.3h1M132.0 129.2h1M133.5 109.4h1M151.6 109.7h1M136.2 122.3h1M134.6 79.4h1M135.6 77.5h1M134.0 105.6h1M135.4 107.3h1M134.5 100.2h1M135.2 81.4h1M132.9 109.5h1M138.9 95.4h1M136.4 82.1h1M134.1 86.7h1M131.0 124.8h1M149.5 98.7h1M152.2 62.7h1M134.6 77.7h1M136.7 126.1h1M151.1 95.6h1M135.3 80.7h1M133.5 106.2h1M152.7 90.9h1M146.8 91.0h1M131.7 126.6h1M133.6 83.9h1M138.8 95.8h1M152.9 61.3h1M136.4 116.5h1M140.3 94.7h1M134.5 75.8h1M135.2 127.5h1M134.8 91.2h1M133.0 100.9h1M150.5 117.9h1M143.0 114.4h1M140.3 127.2h1M135.7 89.5h1M134.2 83.6h1M139.7 80.8h1M137.4 110.0h1M133.7 97.2h1M144.6 93.7h1M131.6 113.8h1M139.8 88.5h1M143.9 96.9h1M136.8 77.3h1M144.9 74.8h1M130.6 126.3h1M138.6 92.5h1M136.2 78.3h1M133.4 124.0h1M131.6 113.5h1M144.0 127.2h1M133.7 97.6h1M131.2 123.8h1M133.5 96.4h1M134.7 128.2h1M131.1 118.7h1M134.2 108.3h1M148.1 98.3h1M134.0 99.4h1M147.4 101.4h1M133.3 115.3h1M139.6 80.8h1M133.2 100.9h1M134.3 110.2h1M139.7 106.9h1M136.0 70.2h1M133.7 82.9h1M140.7 78.5h1M148.6 80.5h1M132.2 129.5h1M136.0 117.5h1M169.8 92.9h1M134.9 128.0h1M136.1 122.1h1M142.4 114.7h1M133.5 96.9h1M131.9 116.5h1M146.2 123.7h1M139.4 90.1h1M133.7 94.6h1M140.7 92.3h1M133.0 121.3h1M134.1 102.3h1M139.9 66.6h1M133.2 114.0h1M141.7 119.2h1M133.4 126.9h1M137.1 96.7h1M136.6 95.3h1M135.5 102.4h1M137.5 71.2h1M140.1 120.9h1M137.6 95.0h1M132.3 111.4h1M144.4 89.4h1M135.2 121.5h1M137.7 102.3h1M138.0 72.9h1M139.9 101.6h1M142.7 89.3h1M134.9 76.7h1M132.3 109.2h1M136.0 76.6h1M140.5 83.9h1M149.2 87.8h1M133.3 116.7h1M136.6 97.4h1M150.8 66.0h1M131.9 124.0h1M155.7 112.9h1M134.6 87.7h1M157.1 87.2h1M133.5 111.2h1M135.3 117.4h1M140.5 90.4h1M136.7 68.3h1M145.5 61.9h1M138.9 82.9h1M135.7 81.3h1M149.9 80.7h1M140.7 89.0h1M135.4 110.0h1M136.1 125.9h1M134.8 90.6h1M133.8 75.3h1M139.4 125.7h1M134.0 54.3h1M139.6 92.1h1M143.3 128.8h1M131.8 124.0h1M132.9 121.8h1M140.3 101.7h1M134.8 89.4h1M157.9 94.8h1M141.4 118.8h1M135.5 111.1h1M137.0 74.8h1M132.4 117.6h1M136.2 97.7h1M137.0 64.0h1M144.0 106.4h1M136.4 125.8h1M133.4 70.4h1M156.9 123.4h1M133.9 116.6h1M134.2 81.0h1M136.0 125.6h1M137.8 91.4h1M141.0 89.1h1M132.3 126.9h1M136.1 79.7h1M153.5 90.8h1M137.0 115.1h1M135.2 72.3h1M147.9 101.1h1M131.1 120.7h1M138.9 99.3h1M135.3 123.3h1M134.0 96.2h1M147.4 95.4h1M140.8 86.1h1M135.8 97.3h1M135.3 54.8h1M142.0 105.5h1M137.6 129.2h1M142.7 66.9h1M137.6 51.8h1M139.8 127.9h1M138.7 109.0h1M137.8 85.5h1M143.3 78.8h1M134.7 98.5h1M136.4 101.8h1M136.9 80.8h1M163.4 121.8h1M137.6 100.9h1M139.2 83.8h1M153.3 105.4h1M134.6 89.7h1M135.9 103.7h1M139.2 72.6h1M134.9 93.9h1M135.3 66.0h1M137.7 80.5h1M134.3 119.8h1M134.8 59.8h1M134.2 87.4h1M143.0 107.2h1M163.5 77.6h1M132.5 116.4h1M137.1 97.8h1M134.2 74.9h1M139.2 76.1h1M143.9 122.9h1M137.8 89.3h1M144.2 96.0h1M134.5 69.6h1M149.9 92.3h1M158.4 82.3h1M138.9 69.2h1M133.9 124.3h1M135.1 113.3h1M138.5 72.7h1M134.6 125.3h1M142.6 126.8h1M133.0 107.0h1M139.5 93.1h1M142.8 85.4h1M134.8 82.9h1M134.5 85.1h1M136.1 71.5h1M133.8 78.2h1M132.2 106.7h1M138.4 120.6h1M134.3 64.9h1M146.7 67.8h1M134.8 91.1h1M137.0 86.3h1M137.6 87.8h1M136.6 92.9h1M150.6 107.8h1M137.2 82.8h1M140.3 80.8h1M134.9 104.5h1M143.7 127.2h1M138.9 102.4h1M141.2 95.1h1M145.2 71.7h1M130.5 129.1h1M150.3 86.7h1M131.5 121.8h1M133.2 105.1h1M138.4 116.0h1M141.7 123.3h1M136.6 76.3h1M143.4 86.6h1M134.4 52.1h1M133.2 124.3h1M142.8 93.6h1M139.7 102.3h1M136.5 106.4h1M134.3 94.2h1M132.1 123.7h1M137.2 97.2h1M139.9 83.1h1M134.2 99.7h1M137.4 103.5h1M158.1 71.0h1M134.4 95.7h1M143.4 69.3h1M135.7 65.7h1M167.0 105.2h1M142.9 118.3h1M139.8 108.4h1M137.1 89.3h1M138.3 84.6h1M142.5 112.3h1M132.6 122.1h1M133.0 106.5h1M144.4 76.1h1M149.7 98.1h1M136.7 75.7h1M131.1 119.6h1M133.6 79.7h1M135.4 120.1h1M130.9 125.8h1M133.5 88.8h1M143.8 98.5h1M131.5 124.4h1M133.7 90.6h1M133.9 120.4h1M156.9 82.1h1M134.6 99.7h1M151.2 57.1h1M134.3 75.7h1M147.6 64.6h1M138.7 114.2h1M137.4 77.0h1M133.6 106.2h1M133.2 129.4h1M140.4 84.6h1M163.1 123.0h1M156.2 99.4h1M137.3 102.9h1M137.9 65.6h1M134.8 84.8h1M138.3 123.0h1M140.7 96.2h1M141.0 77.6h1M144.8 85.6h1M140.6 69.4h1M146.5 119.7h1M147.6 127.3h1M135.8 86.8h1M135.7 75.4h1M142.7 123.8h1M153.0 112.2h1M141.9 69.8h1M135.0 119.0h1M148.7 113.2h1M139.8 110.9h1M137.8 107.5h1M139.7 56.4h1M134.4 93.6h1M136.4 118.8h1M133.9 105.3h1M133.8 78.8h1M134.3 106.3h1M137.4 100.4h1M145.1 93.8h1M136.0 81.0h1M134.6 96.5h1M135.2 89.8h1M134.9 105.6h1M136.5 93.4h1M140.7 107.0h1M159.1 121.5h1M157.0 66.6h1M148.2 108.3h1M135.0 81.5h1M137.7 92.9h1M133.6 119.7h1M145.2 93.8h1M158.8 82.3h1M134.5 104.4h1M140.4 108.6h1M135.5 113.2h1M139.4 99.4h1M136.7 109.4h1M148.2 107.5h1M135.1 77.0h1M152.7 88.1h1M139.3 106.2h1M137.9 120.9h1M137.6 78.5h1M133.6 85.4h1M138.0 83.9h1M137.0 76.7h1M135.2 106.6h1M136.6 128.6h1M135.8 69.7h1M133.7 99.4h1M132.8 102.4h1M139.5 91.5h1M133.1 117.1h1M133.9 86.2h1M144.8 86.4h1M167.2 93.0h1M136.0 85.6h1M133.2 96.3h1M149.9 118.5h1M138.5 72.6h1M133.6 94.0h1M133.1 98.1h1M143.4 70.4h1M135.2 94.3h1M136.6 126.1h1M134.4 79.9h1M132.2 128.6h1M135.1 124.8h1M144.8 114.1h1M133.4 117.0h1M142.1 61.6h1M139.3 73.8h1M143.6 90.9h1M134.4 90.4h1M140.7 98.1h1M133.6 114.1h1M140.8 97.2h1M135.7 123.4h1M142.4 104.4h1M136.8 103.7h1M135.8 83.9h1M144.4 59.6h1M143.4 67.5h1M133.4 112.6h1M140.3 56.6h1M138.7 100.1h1M142.1 122.5h1M135.0 60.5h1M136.7 89.6h1M137.1 102.6h1M131.8 110.2h1M148.5 95.3h1M138.4 101.4h1M150.4 83.9h1M140.7 65.2h1M142.8 117.9h1M135.7 93.8h1M134.9 114.6h1M139.4 85.4h1M135.8 122.4h1M139.9 78.8h1M138.9 80.8h1M133.8 80.3h1M130.8 128.7h1M138.4 79.0h1M136.2 79.0h1M133.5 113.7h1M137.4 85.3h1M137.7 74.1h1M135.6 95.6h1M134.3 70.2h1M131.5 125.2h1M133.7 100.7h1M135.0 87.4h1M148.0 95.8h1M158.6 109.3h1M148.2 125.2h1M156.3 109.3h1M147.6 108.2h1M145.4 110.1h1M155.6 72.4h1M151.0 56.0h1M146.3 83.9h1M153.2 108.2h1M147.1 94.0h1M158.4 93.6h1M151.0 108.8h1M166.9 98.5h1M150.9 71.7h1M151.4 107.5h1M148.2 78.3h1M151.0 97.8h1M145.4 110.7h1M155.4 98.6h1M152.0 78.7h1M153.9 95.3h1M150.9 103.9h1M155.4 97.7h1M148.0 111.1h1M172.6 90.4h1M146.7 78.0h1M164.4 76.3h1M160.4 62.7h1M148.7 82.5h1M160.5 117.5h1M147.9 101.0h1M157.2 106.3h1M157.5 94.8h1M148.3 102.0h1M146.5 92.7h1M154.5 120.9h1M148.4 110.7h1M154.0 83.6h1M153.4 62.8h1M147.9 104.1h1M145.3 72.1h1M152.4 98.0h1M147.5 73.9h1M147.4 114.7h1M149.5 89.9h1M156.7 74.2h1M155.0 114.3h1M163.6 94.1h1M168.9 110.4h1M160.5 99.5h1M149.4 88.2h1M157.5 99.8h1M146.8 91.3h1M150.8 107.1h1M147.1 100.7h1M145.2 107.2h1M150.4 90.6h1M147.8 108.2h1M152.7 110.5h1M152.6 111.0h1M163.5 114.7h1M146.6 87.7h1M151.6 78.2h1M150.3 97.1h1M162.5 115.1h1M151.8 121.6h1M146.8 102.4h1M161.3 101.7h1M164.8 94.4h1M148.8 95.9h1M147.8 85.4h1M156.4 108.4h1M155.7 61.6h1M152.3 112.0h1M150.1 100.1h1M154.7 97.6h1M164.6 108.0h1M149.2 75.3h1M158.8 94.0h1M152.5 98.6h1M151.8 74.0h1M149.9 92.1h1M148.7 97.7h1M168.4 107.7h1M147.0 87.2h1M146.9 100.4h1M146.7 89.5h1M148.6 87.6h1M155.4 93.6h1M161.0 95.0h1M146.3 99.9h1M156.2 95.4h1M147.7 117.4h1M154.2 98.1h1M146.6 82.8h1M171.6 101.9h1M156.9 107.8h1M149.0 93.6h1M152.9 112.2h1M150.3 111.8h1M171.5 101.9h1M148.8 93.1h1M153.7 95.1h1M149.1 73.1h1M161.8 100.2h1M160.8 119.8h1M153.2 112.3h1M158.1 105.8h1M149.4 98.5h1M148.6 115.7h1M146.2 86.2h1M144.8 108.4h1M144.9 75.1h1M147.5 97.0h1M151.2 110.8h1M158.6 103.8h1M147.4 106.6h1M169.7 105.1h1M149.5 73.9h1M145.3 87.9h1M147.0 95.2h1M147.4 86.0h1M151.4 98.1h1M164.2 101.5h1M159.3 78.2h1M149.4 52.3h1M152.3 111.3h1M146.9 93.8h1M148.0 63.2h1M151.8 60.9h1M160.1 66.2h1M145.5 94.9h1M145.4 70.4h1M148.8 92.2h1M145.4 110.7h1M153.4 88.0h1M165.4 85.9h1M151.0 68.0h1M144.5 103.0h1M149.1 108.3h1M154.0 87.4h1M149.5 83.2h1M144.6 64.7h1M144.5 87.1h1M145.1 101.8h1M145.2 92.8h1M145.3 93.9h1M157.4 64.2h1M153.1 90.6h1M163.4 108.6h1M147.9 103.2h1M145.1 79.9h1M156.1 109.8h1M146.4 89.1h1M163.9 82.3h1M147.4 79.7h1M161.4 79.4h1M148.2 88.9h1M152.3 80.9h1M164.4 94.5h1M150.7 108.6h1M174.6 95.2h1M162.4 83.7h1M151.2 77.2h1M155.9 61.9h1M163.0 99.2h1M156.5 110.5h1M157.0 110.5h1M144.7 89.6h1M161.7 117.4h1M165.5 119.5h1M154.9 83.0h1M146.3 92.3h1M146.2 80.9h1M145.4 75.6h1M148.2 95.8h1M168.6 93.0h1M157.9 85.3h1M161.2 111.4h1M146.0 84.3h1M148.9 119.6h1M145.5 74.7h1M156.3 84.1h1M147.4 104.8h1M147.0 93.4h1M151.6 102.8h1M161.6 87.1h1M171.1 72.1h1M149.9 97.4h1M162.7 88.6h1M150.8 72.6h1M148.3 94.8h1M155.0 77.3h1M152.7 105.9h1M155.3 97.3h1M144.7 79.4h1M175.9 72.6h1M150.2 94.7h1M155.4 70.7h1M158.4 86.7h1M148.1 106.5h1M154.8 86.8h1M153.2 101.9h1M164.3 71.0h1M147.3 106.6h1M159.9 110.8h1M165.4 91.1h1M154.9 93.5h1M161.4 93.5h1M154.2 108.1h1M147.2 80.9h1M155.0 96.1h1M146.3 111.9h1M145.7 101.9h1M152.0 78.4h1M144.8 108.8h1M146.3 72.9h1M156.3 69.2h1M147.2 80.4h1M148.7 76.3h1M162.7 57.4h1M146.0 79.9h1M155.4 92.5h1M154.9 87.9h1M154.9 82.3h1M153.8 97.7h1M158.5 72.2h1M152.8 78.1h1M146.4 89.1h1M147.8 60.7h1M144.5 56.2h1M144.6 82.0h1M152.1 93.0h1M158.6 102.0h1M145.4 53.5h1M154.1 105.3h1M146.2 84.1h1M156.1 104.1h1M144.9 104.8h1M149.4 105.4h1M156.6 65.5h1M145.4 98.5h1M161.6 121.0h1M154.2 109.7h1M157.8 116.3h1M147.9 99.4h1M155.1 101.3h1M151.6 66.8h1M146.5 108.1h1M164.2 112.1h1M148.2 88.7h1M153.5 98.4h1M164.5 104.8h1M149.5 68.5h1M156.6 93.0h1M148.1 99.7h1M147.4 81.5h1M153.7 84.5h1M144.7 95.3h1M152.0 98.8h1M164.8 91.9h1M160.6 98.1h1M145.5 101.9h1M155.7 91.9h1M157.9 89.6h1M148.1 63.6h1M149.6 108.0h1M151.1 88.2h1M145.8 104.1h1M120.7 124.5h1M122.5 100.5h1M120.0 114.5h1M121.7 110.7h1M121.8 116.7h1M119.4 120.1h1M117.8 125.1h1M113.5 106.9h1M121.5 99.8h1M120.7 110.6h1M114.1 101.1h1M112.3 122.7h1M115.9 125.5h1M121.8 100.2h1M122.2 110.1h1M111.8 126.4h1M120.3 126.4h1M120.0 119.1h1M118.1 129.3h1M120.0 112.7h1M116.7 113.7h1M117.4 114.7h1M121.1 122.5h1M114.2 120.2h1M120.0 110.6h1M118.5 105.3h1M121.2 125.6h1M115.7 120.7h1M122.1 111.6h1M120.7 126.9h1M114.5 126.3h1M120.0 105.8h1M122.0 100.3h1M120.8 122.1h1M123.1 108.4h1M113.2 129.4h1M118.7 123.7h1M123.2 105.7h1M121.3 125.8h1M119.4 106.0h1M120.9 110.1h1M120.0 114.5h1M114.2 112.3h1M121.4 117.3h1M120.8 112.2h1M104.1 68.3h1M103.7 68.4h1M102.9 75.5h1M100.5 65.8h1M100.5 73.8h1M106.9 66.3h1M102.6 74.9h1M101.5 73.5h1M104.8 76.9h1M107.4 86.7h1M108.8 75.1h1M105.1 56.0h1M102.8 81.4h1M100.6 75.8h1M104.8 77.0h1M105.7 73.5h1M102.6 67.0h1M101.1 59.9h1M100.2 79.4h1M102.5 82.8h1M101.3 56.4h1M106.0 68.4h1M105.2 53.7h1M103.5 56.3h1M101.7 84.1h1M100.9 72.7h1M103.0 89.7h1M104.3 58.0h1M104.2 75.8h1M105.6 84.7h1M101.1 84.0h1M100.7 94.9h1M96.4 78.9h1M104.1 79.2h1M103.4 79.0h1M103.1 81.9h1M101.1 77.7h1M101.5 74.4h1M96.8 72.5h1M102.1 81.6h1M101.6 69.7h1M104.3 65.5h1M102.0 84.5h1M103.7 71.7h1M100.5 71.0h1M104.3 77.8h1M104.6 69.2h1M102.7 64.7h1M98.4 84.3h1M100.0 86.7h1M100.1 64.6h1M103.3 72.3h1M100.9 79.9h1M105.4 87.5h1M104.2 82.5h1M100.1 82.5h1M102.0 70.3h1M101.6 76.9h1M99.2 85.7h1M106.4 62.9h1M100.5 84.2h1M96.5 77.1h1M102.4 68.3h1M95.6 81.0h1M101.8 79.5h1M105.0 68.4h1M101.8 72.8h1M99.5 66.2h1M102.0 72.3h1M106.3 63.0h1M104.3 59.4h1M97.3 83.4h1M101.8 58.1h1M104.4 60.1h1M103.8 64.2h1M100.8 96.8h1M102.6 59.0h1M95.1 69.9h1M102.9 67.1h1M105.0 82.9h1M105.8 66.7h1M96.6 87.7h1M100.9 74.4h1M99.0 88.7h1M106.1 78.0h1M103.4 74.1h1M100.0 61.5h1M101.6 68.3h1M106.4 72.9h1M104.6 71.4h1M101.8 80.7h1M98.7 74.1h1M97.3 83.2h1M109.1 72.9h1M102.1 71.4h1M98.6 83.8h1M101.2 77.7h1M107.5 83.3h1M106.1 78.8h1M105.1 69.1h1M101.2 77.0h1M104.5 79.2h1M106.2 75.9h1M100.7 90.2h1M104.2 53.0h1M102.8 77.2h1M103.7 75.9h1M100.1 84.8h1M97.9 69.4h1M106.8 77.4h1M105.3 67.4h1M102.7 58.8h1M104.7 64.0h1M103.2 88.5h1M107.2 59.8h1M101.4 78.5h1M103.4 59.3h1M101.2 82.3h1M103.2 80.8h1M96.7 75.7h1M107.9 68.7h1M102.1 74.4h1M102.3 77.7h1M101.4 70.6h1M103.5 52.6h1M102.3 81.7h1M102.0 74.8h1M102.9 72.9h1M101.5 69.5h1M101.5 72.6h1M104.3 70.2h1M99.6 79.5h1M104.1 77.0h1M105.2 66.4h1M103.7 79.8h1M101.1 72.3h1M102.5 76.6h1M103.8 72.7h1M105.4 80.3h1M101.6 81.1h1M103.3 79.4h1M100.8 90.9h1M98.9 86.3h1M98.5 79.7h1M100.0 69.8h1M105.2 71.7h1M97.2 75.5h1M101.8 75.5h1M100.4 66.2h1M104.0 63.3h1M101.2 79.7h1M105.3 75.4h1M103.2 76.0h1M102.6 56.5h1M106.6 56.8h1M101.2 77.5h1M103.0 85.2h1M100.0 85.5h1M97.0 79.9h1M103.4 82.5h1M103.7 59.2h1M107.3 84.0h1M102.5 79.9h1M100.0 88.1h1M105.0 87.6h1M102.8 70.5h1M102.8 61.9h1M100.5 88.7h1M102.8 75.6h1M102.9 61.7h1M100.8 67.0h1M98.4 80.3h1M105.8 69.6h1M107.5 91.9h1M104.8 66.7h1M105.2 83.1h1M103.0 86.8h1M103.2 76.6h1M98.4 81.0h1M103.7 67.8h1M101.7 88.6h1M102.2 76.0h1M102.6 68.2h1M102.9 75.1h1M101.2 87.3h1M102.2 73.0h1M103.4 58.8h1M103.8 64.4h1M101.9 87.8h1M103.7 73.4h1M104.9 64.8h1M105.1 77.2h1M103.6 79.1h1M105.0 80.6h1M106.6 69.5h1M100.7 75.9h1M102.6 76.5h1M102.7 76.0h1M108.9 57.3h1M107.7 59.7h1M119.1 68.3h1M108.1 84.9h1M109.1 74.3h1M123.3 83.0h1M123.5 85.2h1M124.0 83.3h1M121.7 52.8h1M116.3 67.8h1M108.9 74.2h1M111.2 81.0h1M118.3 68.5h1M110.1 64.5h1M123.4 61.1h1M117.7 57.3h1M110.2 85.5h1M116.4 83.4h1M116.1 53.4h1M121.6 58.1h1M119.5 75.8h1M110.6 74.8h1M111.1 55.0h1M109.7 64.8h1M107.4 55.6h1M116.7 64.5h1M120.4 81.8h1M107.4 69.6h1M117.6 77.3h1M123.4 71.2h1M120.8 76.1h1M120.1 59.3h1M113.3 74.3h1M117.9 63.9h1M113.2 59.1h1M111.3 68.9h1M119.6 56.6h1M108.9 66.3h1M118.4 79.2h1M108.8 66.3h1" stroke="#000" stroke-width="1" fill="none"/>
<path d="M127.0 308.1h1M129.3 268.3h1M126.7 298.2h1M128.1 270.7h1M129.8 272.6h1M126.0 304.8h1M129.1 311.5h1M123.7 277.9h1M124.8 315.2h1M130.0 277.0h1M122.9 311.8h1M127.1 269.4h1M133.7 298.4h1M128.4 283.2h1M125.8 286.3h1M124.3 315.4h1M126.3 305.9h1M123.7 267.0h1M129.6 301.7h1M123.1 291.2h1M129.7 284.1h1M128.6 252.0h1M132.1 261.4h1M125.2 315.1h1M122.6 288.5h1M128.0 266.7h1M128.9 312.1h1M128.6 280.0h1M126.7 297.8h1M126.2 306.2h1M134.3 271.7h1M125.4 302.4h1M130.8 305.1h1M126.3 273.9h1M126.3 274.0h1M128.4 305.8h1M131.1 271.0h1M129.9 261.9h1M127.4 274.1h1M126.6 287.1h1M126.7 289.3h1M124.6 280.7h1M126.2 284.5h1M126.7 289.8h1M125.7 258.6h1M124.4 303.0h1M122.7 313.7h1M129.5 299.1h1M128.1 280.0h1M128.4 283.7h1M127.0 262.2h1M128.8 285.9h1M128.8 270.0h1M130.8 266.7h1M130.7 264.0h1M125.2 279.6h1M132.1 288.9h1M129.3 304.5h1M125.7 265.9h1M126.9 290.8h1M132.9 281.7h1M127.1 281.7h1M133.0 283.5h1M121.4 308.1h1M125.9 292.2h1M128.7 269.3h1M127.0 291.6h1M129.6 262.9h1M127.7 299.0h1M122.4 292.4h1M126.7 291.9h1M125.7 310.5h1M128.1 303.3h1M131.3 250.1h1M128.1 304.7h1M124.9 290.8h1M127.3 272.4h1M124.0 296.4h1M131.3 306.3h1M132.4 279.3h1M129.6 289.9h1M124.4 303.5h1M128.2 310.9h1M128.5 297.2h1M128.8 290.6h1M125.3 291.0h1M129.3 289.8h1M129.5 291.6h1M128.7 274.0h1M127.3 291.9h1M126.9 307.1h1M130.5 265.5h1M126.6 283.0h1M129.5 285.2h1M128.0 297.2h1M129.6 281.6h1M124.6 301.5h1M124.6 302.9h1M126.6 296.2h1M128.7 292.0h1M129.1 277.2h1M127.3 304.3h1M126.0 311.2h1M123.8 300.0h1M127.0 293.5h1M125.8 305.0h1M126.6 283.7h1M126.3 291.1h1M125.4 314.1h1M126.3 252.9h1M127.9 302.2h1M133.5 283.0h1M125.1 310.7h1M125.4 299.9h1M130.1 283.0h1M127.9 274.6h1M125.9 305.0h1M125.7 276.2h1M129.3 273.5h1M123.1 295.3h1M128.5 311.1h1M131.0 268.3h1M129.4 287.7h1M131.0 290.2h1M126.4 289.0h1M127.0 312.8h1M128.0 280.4h1M125.6 264.3h1M125.1 285.4h1M124.2 314.7h1M123.9 281.0h1M131.0 270.4h1M125.6 310.0h1M121.5 307.2h1M128.0 302.0h1M130.5 276.9h1M130.4 289.4h1M121.1 308.8h1M125.7 314.6h1M128.5 271.7h1M125.3 304.0h1M126.8 290.4h1M127.9 290.7h1M127.7 282.2h1M125.8 275.8h1M128.6 268.2h1M125.6 313.0h1M127.6 274.5h1M123.5 309.4h1M125.8 294.8h1M126.8 294.4h1M126.7 290.8h1M126.1 288.6h1M126.0 275.0h1M125.9 283.4h1M125.2 302.8h1M125.4 305.2h1M123.3 309.7h1M126.7 295.8h1M127.8 270.2h1M126.1 270.1h1M127.6 283.9h1M130.9 300.7h1M129.9 283.2h1M125.7 311.8h1M130.2 285.8h1M130.2 274.2h1M130.2 274.2h1M131.6 274.9h1M125.6 310.6h1M124.6 294.5h1M129.7 307.2h1M128.3 271.8h1M130.2 271.4h1M125.7 272.3h1M127.5 286.2h1M126.2 275.8h1M125.2 298.5h1M124.0 290.4h1M127.3 236.7h1M129.3 276.4h1M129.8 304.3h1M124.3 311.8h1M127.4 308.0h1M129.2 266.2h1M129.1 273.5h1M123.9 299.0h1M126.4 312.8h1M127.9 290.3h1M126.2 291.2h1M125.4 276.1h1M129.9 286.6h1M128.0 307.0h1M127.1 249.3h1M124.3 314.4h1M122.4 287.2h1M128.8 269.9h1M130.3 266.7h1M130.0 288.8h1M127.8 282.3h1M128.0 279.2h1M125.6 281.6h1M124.5 292.3h1M125.4 264.6h1M126.2 313.9h1M123.2 310.1h1M128.4 269.5h1M131.4 272.0h1M124.7 301.7h1M126.0 287.9h1M128.2 262.0h1M126.2 292.6h1M125.5 267.0h1M130.6 293.6h1M129.9 282.9h1M127.0 292.8h1M126.2 276.5h1M124.9 310.2h1M125.3 309.7h1M128.6 279.4h1M132.9 276.5h1M126.7 305.1h1M128.3 275.9h1M129.0 279.5h1M127.0 305.9h1M127.2 246.3h1M127.5 270.2h1M125.0 293.9h1M130.4 275.8h1M123.2 280.3h1M127.5 280.9h1M128.5 274.4h1M130.2 274.7h1M123.9 293.7h1M123.4 297.7h1M127.4 278.9h1M128.0 271.6h1M131.4 276.2h1M126.9 288.7h1M130.5 265.5h1M128.3 274.8h1M129.3 271.3h1M130.3 293.3h1M125.9 309.7h1M123.4 299.4h1M128.0 293.3h1M124.5 290.0h1M124.4 308.6h1M129.8 267.9h1M122.6 302.0h1M126.4 290.3h1M126.9 276.7h1M124.2 312.9h1M126.7 270.0h1M126.0 310.7h1M133.6 278.7h1M125.4 305.1h1M124.5 307.4h1M124.6 315.4h1M127.6 278.8h1M126.6 276.0h1M131.7 258.2h1M127.0 293.7h1M124.3 306.7h1M129.3 259.9h1M127.1 275.6h1M130.0 270.0h1M124.9 286.2h1M123.2 297.3h1M125.4 312.8h1M131.2 257.5h1M122.6 314.3h1M120.4 289.1h1M127.0 286.0h1M129.4 288.2h1M130.1 262.5h1M124.1 306.9h1M124.0 299.8h1M127.4 285.1h1M124.7 306.9h1M124.6 306.5h1M126.3 309.6h1M126.1 308.3h1M124.8 312.6h1M127.8 275.7h1M125.7 313.2h1M125.8 306.7h1M122.5 296.8h1M127.7 307.8h1M125.4 285.4h1M133.3 265.5h1M128.2 269.0h1M125.2 284.8h1M131.0 278.1h1M126.4 292.7h1M126.8 269.7h1M128.3 290.2h1M124.3 313.8h1M131.2 254.0h1M128.5 293.4h1M132.6 260.4h1M127.0 279.6h1M126.7 284.9h1M123.2 306.4h1M124.6 284.7h1M123.0 291.5h1M122.7 309.6h1M129.2 294.7h1M130.7 271.2h1M129.7 251.0h1M127.0 258.7h1M126.0 277.5h1M126.9 298.8h1M126.7 295.3h1M127.5 269.9h1M128.1 246.3h1M123.0 299.9h1M122.2 300.3h1M124.5 298.0h1M123.3 287.2h1M120.9 314.4h1M125.8 301.7h1M126.5 293.3h1M123.8 293.8h1M127.5 289.0h1M126.8 301.9h1M129.5 301.0h1M125.9 308.4h1M123.7 308.5h1M125.3 289.1h1M129.3 269.5h1M125.3 280.3h1M125.1 314.0h1M124.5 278.2h1M128.0 270.5h1M126.3 302.6h1M127.8 292.8h1M127.2 275.5h1M128.7 272.5h1M123.3 309.1h1M125.8 245.8h1M128.8 298.7h1M127.5 289.2h1M127.1 280.3h1M127.1 281.3h1M129.0 278.3h1M126.6 299.1h1M123.4 300.4h1M128.5 309.8h1M128.0 268.0h1M130.9 294.8h1M130.0 293.9h1M126.1 301.4h1M129.5 281.8h1M124.9 270.4h1M128.3 264.1h1M126.0 310.7h1M128.8 307.3h1M127.8 260.4h1M132.2 287.2h1M124.9 310.4h1M130.4 272.0h1M131.5 251.7h1M126.3 296.7h1M131.6 278.6h1M127.6 302.7h1M130.7 270.0h1M126.5 278.0h1M125.7 285.5h1M130.4 301.3h1M131.4 284.5h1M131.3 275.1h1M128.8 283.7h1M128.0 299.0h1M127.5 282.6h1M124.8 312.2h1M125.2 296.5h1M123.7 310.1h1M128.7 256.4h1M127.9 287.8h1M126.4 282.2h1M126.5 286.6h1M132.1 284.5h1M129.8 275.4h1M127.5 304.0h1M128.8 311.4h1M125.7 310.1h1M128.5 296.2h1M132.2 294.2h1M126.2 296.9h1M125.4 310.9h1M131.7 273.4h1M124.7 311.2h1M132.3 275.1h1M126.5 276.9h1M127.1 283.3h1M128.0 309.1h1M127.7 278.1h1M126.9 295.3h1M132.0 276.1h1M126.7 269.6h1M128.9 280.6h1M128.9 266.6h1M129.0 261.6h1M131.7 295.0h1M125.0 281.4h1M125.4 312.3h1M124.2 292.9h1M131.4 280.0h1M128.6 284.5h1M129.1 281.6h1M128.2 278.8h1M125.5 273.2h1M123.5 305.0h1M129.9 261.3h1M126.5 301.3h1M126.6 309.2h1M128.8 271.7h1M123.2 302.8h1M127.9 297.1h1M128.9 267.6h1M132.5 273.1h1M129.4 305.5h1M129.2 284.8h1M128.4 274.2h1M125.5 280.8h1M126.1 314.8h1M126.7 296.8h1M126.0 301.7h1M126.6 293.5h1M127.9 264.0h1M126.3 297.1h1M129.0 277.5h1M124.1 294.7h1M127.2 314.9h1M125.0 314.0h1M126.8 271.9h1M125.6 312.3h1M127.4 284.0h1M129.6 272.0h1M124.8 315.2h1M126.1 307.1h1M126.2 294.5h1M130.3 277.7h1M126.5 283.2h1M125.8 287.1h1M125.4 308.3h1M129.5 261.7h1M124.8 279.4h1M123.2 302.6h1M128.1 250.4h1M126.7 315.3h1M130.6 280.8h1M127.6 281.3h1M122.3 303.7h1M132.7 283.3h1M122.3 309.0h1M127.8 293.3h1M124.7 284.4h1M124.0 308.6h1M129.7 256.5h1M124.0 308.5h1M127.3 280.4h1M127.6 250.9h1M127.4 281.6h1M132.6 270.9h1M124.6 315.0h1M126.3 274.0h1M131.2 274.8h1M121.3 310.6h1M129.1 282.0h1M127.3 314.2h1M129.9 291.8h1M127.3 305.8h1M124.2 305.2h1M130.0 255.2h1M124.7 291.8h1M123.6 309.3h1M128.9 313.6h1M131.1 287.8h1M132.4 277.7h1M126.4 274.6h1M126.6 300.9h1M129.2 278.4h1M124.4 304.8h1M127.3 313.7h1M127.9 275.5h1M125.4 304.2h1M131.2 285.0h1M132.5 286.7h1M123.8 302.6h1M124.0 282.7h1M124.7 305.4h1M128.1 302.4h1M126.1 314.6h1M128.7 265.3h1M124.4 309.7h1M124.6 307.4h1M122.7 306.9h1M130.1 260.4h1M127.9 300.5h1M126.5 292.2h1M131.9 303.1h1M129.0 286.5h1M129.5 258.9h1M122.5 305.1h1M131.2 263.1h1M122.3 276.5h1M129.3 285.1h1M129.5 285.6h1M126.0 288.0h1M123.3 281.2h1M129.2 278.9h1M127.1 312.4h1M126.0 273.7h1M129.3 294.7h1M129.5 302.3h1M130.9 293.7h1M131.1 263.7h1M122.5 293.7h1M130.6 284.3h1M126.6 247.3h1M127.9 295.5h1M126.6 295.8h1M131.7 269.1h1M126.6 306.1h1M128.2 308.6h1M129.6 280.2h1M130.0 280.1h1M130.2 282.8h1M129.0 279.9h1M126.8 267.0h1M127.6 300.7h1M127.9 272.4h1M128.5 260.0h1M127.7 294.1h1M126.7 304.2h1M127.9 286.1h1M133.1 309.3h1M134.4 273.2h1M131.2 267.3h1M123.6 303.0h1M124.7 276.8h1M126.8 281.8h1M127.8 268.3h1M126.6 301.4h1M127.7 269.9h1M130.2 280.1h1M127.3 305.1h1M126.6 299.1h1M131.1 269.8h1M128.8 306.5h1M129.0 268.1h1M124.4 314.5h1M126.7 314.8h1M131.7 290.3h1M126.9 290.6h1M124.8 312.4h1M125.4 289.3h1M124.0 291.3h1M122.9 312.3h1M128.7 285.5h1M128.8 278.2h1M124.3 294.6h1M128.8 269.6h1M128.5 281.2h1M125.3 295.8h1M130.0 268.9h1M130.1 281.0h1M127.6 298.1h1M131.2 289.9h1M129.0 265.1h1M128.9 251.0h1M126.4 285.5h1M129.2 281.0h1M130.2 245.1h1M128.9 275.8h1M126.8 301.2h1M127.0 278.5h1M129.4 291.0h1M127.3 285.3h1M129.0 279.0h1M124.8 268.7h1M127.0 297.7h1M124.8 297.9h1M124.7 304.7h1M127.5 265.9h1M126.3 267.0h1M122.2 305.3h1M129.1 296.3h1M126.5 306.8h1M124.8 307.5h1M129.0 281.8h1M127.3 287.8h1M126.2 281.4h1M127.9 288.0h1M129.0 300.7h1M131.2 281.1h1M125.6 303.4h1M131.8 280.2h1M123.2 293.9h1M129.7 260.6h1M131.6 281.9h1M130.6 289.2h1M127.4 309.4h1M123.7 253.1h1M125.9 291.4h1M126.4 271.8h1M127.0 298.8h1M130.3 288.6h1M128.8 283.8h1M126.9 273.1h1M123.5 278.0h1M132.8 291.3h1M127.1 305.0h1M121.9 288.1h1M121.1 304.2h1M128.5 268.4h1M126.4 277.8h1M128.8 278.1h1M124.4 314.0h1M128.4 300.7h1M130.0 262.8h1M128.4 286.6h1M122.1 277.6h1M130.4 304.0h1M129.1 284.4h1M133.8 284.7h1M125.7 288.9h1M125.6 314.2h1M127.6 303.8h1M129.7 290.9h1M131.1 302.1h1M126.8 313.2h1M132.4 303.9h1M127.0 299.0h1M122.2 311.8h1M125.9 312.0h1M127.1 264.6h1M126.3 310.4h1M128.2 290.5h1M128.0 272.0h1M123.6 301.2h1M129.7 281.7h1M127.1 302.5h1M124.4 310.9h1M130.6 286.5h1M130.4 280.7h1M127.8 313.4h1M125.3 311.6h1M123.4 274.6h1M124.4 295.0h1M126.2 280.4h1M125.7 306.3h1M126.3 254.4h1M122.9 301.3h1M128.6 302.2h1M127.2 284.7h1M128.8 280.8h1M131.1 291.2h1M127.4 302.1h1M128.5 293.2h1M124.1 306.4h1M126.6 313.3h1M128.3 264.5h1M126.6 284.6h1M129.9 278.5h1M125.6 294.1h1M128.6 293.4h1M125.6 310.4h1M126.8 290.6h1M125.4 315.5h1M128.1 280.3h1M130.3 276.8h1M127.8 289.3h1M125.1 314.8h1M124.4 296.2h1M127.7 282.2h1M125.6 291.4h1M124.3 308.4h1M124.0 306.8h1M127.0 294.5h1M133.2 294.7h1M130.6 256.8h1M132.4 253.5h1M126.3 289.9h1M127.6 299.4h1M130.8 272.8h1M127.8 309.2h1M125.0 267.4h1M128.9 279.8h1M130.1 240.1h1M124.0 308.6h1M123.8 282.7h1M127.3 283.9h1M126.6 308.2h1M130.4 309.9h1M128.3 274.2h1M127.0 273.7h1M130.2 309.2h1M125.8 297.8h1M127.3 288.6h1M125.5 309.9h1M128.9 292.1h1M122.6 278.1h1M123.9 286.0h1M124.4 305.8h1M129.7 282.7h1M128.5 274.9h1M128.0 289.9h1M129.2 280.7h1M130.2 271.6h1M128.9 298.4h1M130.3 266.8h1M130.6 276.2h1M121.8 308.5h1M126.1 306.3h1M129.7 264.1h1M123.8 288.3h1M127.6 315.6h1M123.7 313.2h1M129.0 269.3h1M121.6 311.0h1M129.0 304.7h1M126.0 312.1h1M132.1 280.8h1M129.7 273.5h1M131.2 293.1h1M131.2 298.0h1M125.5 307.5h1M126.6 299.3h1M126.8 271.7h1M131.6 277.6h1M124.5 297.9h1M127.2 303.0h1M129.3 282.2h1M129.7 299.6h1M126.4 297.1h1M126.3 301.2h1M126.0 311.5h1M132.0 281.6h1M128.3 312.4h1M127.9 305.6h1M133.3 295.7h1M124.7 245.5h1M127.3 303.2h1M127.3 288.5h1M130.2 271.8h1M132.3 283.0h1M129.5 290.5h1M126.0 309.6h1M126.2 314.1h1M130.1 273.3h1M126.2 277.7h1M132.4 275.6h1M127.0 287.0h1M127.7 258.9h1M127.8 269.5h1M124.6 306.8h1M127.6 269.2h1M130.8 258.7h1M124.3 315.6h1M130.7 278.1h1M124.8 309.7h1M126.9 306.9h1M131.1 269.9h1M125.2 315.3h1M127.8 284.0h1M130.5 306.0h1M127.0 297.5h1M128.6 291.9h1M128.7 279.6h1M123.4 314.1h1M127.1 285.2h1M128.8 293.1h1M130.2 286.3h1M126.5 291.7h1M130.1 264.8h1M129.9 270.0h1M131.8 274.4h1M120.9 314.0h1M131.2 267.4h1M128.2 294.8h1M126.3 289.0h1M124.8 298.7h1M126.0 313.1h1M128.3 272.6h1M131.3 279.2h1M121.7 296.6h1M127.8 287.8h1M126.0 310.1h1M125.6 303.0h1M121.1 308.3h1M128.2 271.6h1M126.8 284.0h1M125.0 304.3h1M127.5 309.1h1M129.1 260.2h1M126.6 308.8h1M126.2 286.1h1M126.9 307.1h1M131.6 271.3h1M131.1 269.5h1M131.2 283.0h1M124.6 285.2h1M127.2 262.6h1M128.5 277.4h1M122.7 314.2h1M129.1 305.6h1M124.6 276.6h1M130.4 278.9h1M131.0 274.2h1M127.8 288.9h1M121.9 254.0h1M130.3 298.2h1M125.9 297.0h1M128.4 274.0h1M129.3 278.9h1M124.6 314.5h1M127.7 296.8h1M126.7 270.2h1M128.2 306.9h1M131.7 273.3h1M127.1 249.8h1M131.5 262.1h1M129.3 299.8h1M126.0 286.0h1M132.7 274.5h1M130.8 271.3h1M127.0 280.8h1M125.9 302.6h1M124.4 279.7h1M129.0 300.1h1M127.4 315.1h1M128.1 302.8h1M129.0 256.0h1M122.4 304.5h1M128.0 274.3h1M126.9 282.0h1M130.9 279.5h1M132.1 302.7h1M124.1 313.6h1M130.1 305.5h1M127.1 302.6h1M129.2 280.7h1M129.7 294.4h1M126.8 301.5h1M126.8 299.4h1M124.0 305.3h1M127.2 278.4h1M128.9 275.5h1M129.5 263.6h1M133.0 280.9h1M126.6 269.4h1M130.1 279.1h1M127.9 288.8h1M125.8 304.8h1M125.7 280.5h1M126.0 297.3h1M126.6 298.3h1M130.3 284.6h1M126.7 285.6h1M131.9 281.7h1M128.9 268.7h1M130.9 283.0h1M126.6 285.8h1M127.3 285.4h1M124.2 291.6h1M125.5 290.3h1M126.3 282.4h1M128.6 281.4h1M128.7 280.3h1M125.8 255.4h1M124.2 305.2h1M125.2 306.9h1M128.9 307.5h1M121.6 300.4h1M124.0 297.9h1M127.8 274.1h1M123.6 293.7h1M131.8 296.1h1M125.7 312.9h1M126.6 297.7h1M132.6 278.9h1M129.6 288.4h1M124.7 291.7h1M123.6 311.9h1M128.2 291.6h1M126.5 309.6h1M125.0 310.8h1M129.2 288.7h1M126.4 306.2h1M123.6 304.1h1M126.6 301.4h1M127.5 276.9h1M125.6 309.7h1M124.3 287.4h1M129.8 309.6h1M127.9 296.9h1M120.7 306.0h1M125.9 305.3h1M131.1 276.2h1M128.6 291.3h1M125.5 293.1h1M126.3 287.6h1M130.9 268.9h1M131.6 297.5h1M123.8 306.0h1M127.7 270.5h1M125.6 315.1h1M125.3 303.1h1M128.0 293.5h1M124.5 299.7h1M126.7 284.1h1M128.2 278.3h1M128.3 283.1h1M132.2 278.3h1M129.4 259.3h1M125.2 312.8h1M133.5 245.2h1M122.1 285.7h1M127.5 293.9h1M122.5 285.1h1M125.3 302.3h1M128.4 306.1h1M129.0 287.5h1M129.8 288.5h1M130.7 286.4h1M128.8 292.2h1M126.7 288.4h1M128.1 298.5h1M126.4 298.7h1M124.9 296.5h1M125.8 261.5h1M128.7 285.7h1M124.5 293.7h1M125.7 281.0h1M128.5 281.1h1M126.2 295.6h1M130.2 269.7h1M126.2 293.4h1M127.1 275.7h1M129.1 295.1h1M127.5 290.0h1M125.9 296.7h1M134.3 262.7h1M126.8 282.7h1M128.8 262.4h1M123.3 279.7h1M128.6 287.7h1M125.2 291.4h1M126.5 307.1h1M122.4 309.0h1M126.2 277.0h1M129.0 280.8h1M128.6 286.5h1M126.4 302.2h1M123.7 311.4h1M129.5 277.0h1M123.9 311.2h1M130.4 273.7h1M128.4 301.8h1M126.5 314.3h1M127.7 239.2h1M127.3 292.8h1M121.3 299.8h1M128.6 279.6h1M127.6 244.1h1M130.6 276.2h1M130.4 283.7h1M128.3 299.1h1M127.0 285.7h1M130.6 294.3h1M126.5 284.9h1M130.1 283.2h1M133.5 280.2h1M122.1 312.4h1M130.2 293.0h1M127.4 273.5h1M127.2 280.5h1M128.2 258.1h1M126.1 293.0h1M129.0 307.5h1M131.1 296.2h1M125.8 269.3h1M127.1 284.9h1M130.1 296.9h1M126.3 281.7h1M123.3 298.6h1M126.3 264.5h1M127.7 286.2h1M127.0 288.5h1M126.9 298.4h1M123.9 279.8h1M127.5 268.7h1M127.8 294.2h1M127.3 304.1h1M125.8 313.7h1M126.8 271.1h1M129.9 286.5h1M128.4 251.9h1M129.6 272.3h1M125.4 284.0h1M130.6 288.5h1M129.4 276.0h1M124.5 314.7h1M125.0 312.0h1M123.7 315.6h1M127.9 274.8h1M129.8 282.1h1M130.1 271.8h1M126.5 301.0h1M122.2 312.2h1M131.0 267.2h1M128.8 282.7h1M130.6 253.8h1M131.3 279.8h1M128.2 271.8h1M129.6 266.3h1M127.3 281.8h1M125.2 286.0h1M128.6 300.1h1M127.0 274.1h1M128.9 282.8h1M130.2 261.6h1M129.7 299.8h1M126.9 292.5h1M125.2 305.5h1M130.8 255.2h1M125.6 301.8h1M130.7 282.2h1M126.4 295.3h1M125.3 301.2h1M129.4 298.9h1M125.1 279.3h1M127.7 273.8h1M123.5 253.7h1M128.2 271.7h1M126.6 311.8h1M125.9 308.6h1M128.6 298.3h1M126.5 304.5h1M126.3 295.7h1M129.0 269.7h1M126.3 270.2h1M121.7 298.8h1M122.5 303.7h1M125.9 314.5h1M129.9 293.2h1M126.5 285.4h1M123.7 314.2h1M126.0 306.1h1M128.1 271.9h1M124.4 305.0h1M123.6 303.2h1M133.6 286.3h1M131.3 270.5h1M126.8 298.3h1M131.4 298.8h1M127.6 310.1h1M128.7 269.1h1M128.7 288.1h1M126.4 284.5h1M130.8 300.1h1M123.9 306.9h1M123.1 314.7h1M124.7 302.8h1M126.5 298.6h1M126.7 254.5h1M128.9 308.6h1M127.1 274.8h1M131.5 267.0h1M128.2 300.5h1M120.2 304.3h1M130.3 304.2h1M129.1 263.5h1M124.3 315.4h1M126.9 307.6h1M127.0 274.4h1M129.0 287.6h1M127.2 305.1h1M121.3 307.9h1M126.4 280.8h1M127.4 311.6h1M129.7 292.2h1M135.4 282.5h1M125.7 289.8h1M127.8 307.1h1M126.5 291.7h1M128.3 267.4h1M127.3 274.9h1M126.1 303.1h1M126.9 306.6h1M129.9 297.3h1M129.6 272.4h1M126.2 286.5h1M126.1 291.2h1M128.2 282.6h1M125.7 312.8h1M124.1 294.3h1M124.6 298.8h1M129.8 304.4h1M124.5 314.5h1M124.2 312.3h1M126.0 304.3h1M124.8 312.8h1M131.3 260.0h1M127.1 314.7h1M128.8 265.4h1M129.7 274.9h1M128.8 300.4h1M127.8 268.6h1M128.0 289.2h1M124.8 294.1h1M130.0 270.6h1M128.7 272.6h1M123.8 301.5h1M126.0 299.5h1M126.9 286.6h1M124.0 305.4h1M126.4 313.9h1M126.7 307.6h1M125.2 304.0h1M129.4 268.9h1M120.9 315.1h1M129.0 269.4h1M129.0 268.1h1M127.4 292.5h1M123.7 304.4h1M129.8 273.1h1M127.0 283.4h1M125.8 315.2h1M123.2 302.1h1M127.2 307.4h1M130.2 275.4h1M120.6 307.5h1M126.0 311.0h1M125.0 309.9h1M128.6 283.4h1M126.0 282.9h1M130.3 284.7h1M128.8 255.4h1M130.0 284.0h1M126.8 278.8h1M122.8 315.1h1M127.2 269.0h1M128.9 296.1h1M126.1 290.9h1M125.4 297.2h1M128.7 290.4h1M125.2 315.5h1M126.0 310.2h1M128.3 275.2h1M126.7 274.2h1M126.9 285.5h1M124.6 290.9h1M124.9 305.5h1M126.2 299.1h1M128.5 276.9h1M127.3 304.4h1M127.0 266.1h1M122.6 305.6h1M124.1 290.4h1M124.8 291.2h1M127.7 302.0h1M123.3 287.4h1M122.7 304.9h1M127.4 282.1h1M127.8 281.1h1M123.2 305.5h1M125.2 314.7h1M127.8 269.0h1M125.2 312.6h1M125.3 284.4h1M128.7 270.2h1M127.3 276.7h1M129.2 273.3h1M126.8 260.9h1M126.8 294.6h1M129.4 279.9h1M121.6 313.8h1M126.8 273.2h1M128.2 272.3h1M129.4 299.3h1M128.6 275.0h1M126.6 315.5h1M125.0 302.4h1M124.2 298.0h1M126.9 285.8h1M127.7 294.5h1M129.0 289.7h1M127.2 309.4h1M124.1 313.6h1M126.2 314.2h1M127.2 300.4h1M125.6 286.8h1M129.8 278.7h1M130.2 251.7h1M126.2 267.1h1M128.5 272.2h1M127.8 272.2h1M121.6 274.6h1M129.1 270.5h1M124.1 283.9h1M125.3 310.1h1M123.1 312.9h1M124.1 303.7h1M128.1 272.2h1M126.0 300.0h1M125.1 311.4h1M128.6 275.1h1M124.4 311.4h1M124.9 304.8h1M125.4 314.9h1M130.6 278.6h1M128.2 272.1h1M127.7 280.9h1M128.7 276.9h1M126.7 306.2h1M125.2 286.7h1M128.7 302.8h1M127.1 276.8h1M123.2 301.1h1M130.7 301.5h1M131.6 268.7h1M124.0 300.0h1M127.5 273.0h1M126.3 303.9h1M130.3 299.4h1M133.0 273.5h1M128.7 261.8h1M130.0 282.1h1M130.7 271.6h1M129.8 272.3h1M126.4 276.4h1M125.1 314.9h1M124.7 305.6h1M128.9 283.9h1M129.5 281.0h1M124.6 302.6h1M128.0 282.4h1M126.5 289.7h1M127.5 286.3h1M131.7 265.5h1M125.7 292.9h1M128.5 303.7h1M124.1 297.6h1M125.1 289.3h1M130.7 281.6h1M129.1 274.4h1M126.9 298.8h1M127.0 272.2h1M128.9 267.1h1M124.3 283.4h1M123.2 312.8h1M130.6 268.3h1M128.0 291.4h1M128.3 256.4h1M127.9 276.8h1M131.1 298.0h1M127.0 279.6h1M129.0 284.9h1M131.1 280.3h1M132.7 279.7h1M132.3 276.0h1M125.9 284.5h1M128.5 299.6h1M130.7 276.8h1M129.2 259.9h1M127.2 297.0h1M126.8 278.1h1M129.9 294.2h1M125.1 314.7h1M125.7 286.2h1M126.9 279.8h1M126.4 290.3h1M126.2 295.1h1M128.9 310.4h1M125.8 294.7h1M125.3 287.0h1M127.4 306.2h1M126.9 299.8h1M127.4 270.8h1M125.5 269.9h1M123.2 314.1h1M128.6 272.9h1M129.2 291.5h1M128.8 307.9h1M124.5 272.0h1M126.7 274.6h1M127.6 261.2h1M125.2 315.0h1M127.2 269.3h1M128.7 293.7h1M126.9 313.8h1M130.6 278.3h1M123.8 314.6h1M130.0 300.9h1M123.4 292.6h1M126.1 276.7h1M131.5 294.1h1M127.3 274.6h1M124.7 310.4h1M126.5 294.4h1M125.4 292.5h1M132.5 297.1h1M125.7 299.0h1M129.4 295.1h1M128.0 296.5h1M125.0 313.8h1M128.7 309.1h1M128.8 280.9h1M126.1 276.7h1M131.5 273.5h1M125.3 272.5h1M126.5 311.6h1M128.0 291.9h1M128.7 283.7h1M124.2 312.4h1M127.5 268.6h1M127.9 281.3h1M127.1 272.9h1M126.0 283.9h1M130.2 275.7h1M131.2 281.5h1M124.5 298.6h1M132.7 269.1h1M126.7 304.9h1M127.0 314.6h1M124.0 280.7h1M128.3 274.2h1M125.7 293.4h1M125.2 299.5h1M126.0 284.1h1M126.8 285.5h1M127.4 280.0h1M130.6 292.1h1M128.7 264.8h1M127.5 292.1h1M129.0 291.6h1M129.7 277.3h1M127.9 311.9h1M126.2 307.7h1M124.4 298.1h1M127.6 250.9h1M130.0 292.8h1M128.6 299.9h1M129.3 271.5h1M126.3 293.1h1M121.4 303.9h1M131.6 272.8h1M129.3 273.7h1M124.2 294.2h1M123.9 290.8h1M125.1 274.2h1M124.7 310.0h1M127.8 311.7h1M126.8 268.7h1M130.2 291.9h1M124.6 314.4h1M129.2 254.8h1M125.6 303.7h1M128.1 307.8h1M125.7 292.6h1M129.8 274.0h1M129.6 287.8h1M129.1 275.2h1M129.5 287.8h1M128.8 273.0h1M126.9 265.0h1M121.7 299.0h1M126.5 298.4h1M125.6 312.9h1M130.8 309.3h1M128.6 299.2h1M122.4 303.0h1M131.4 257.7h1M124.8 308.2h1M125.7 312.5h1M127.9 286.2h1M126.3 301.0h1M126.6 302.1h1M126.3 270.4h1M128.0 290.0h1M129.2 305.2h1M123.4 289.8h1M125.1 272.3h1M126.3 310.9h1M125.3 313.4h1M129.3 277.6h1M128.4 314.7h1M127.3 282.0h1M123.8 292.0h1M124.6 256.9h1M128.7 294.9h1M122.9 288.5h1M128.5 276.1h1M130.7 261.4h1M125.5 277.3h1M129.2 294.8h1M126.9 309.1h1M131.1 280.8h1M131.6 286.5h1M127.6 273.8h1M123.5 295.4h1M130.7 266.2h1M126.2 303.2h1M124.9 296.7h1M127.1 287.6h1M129.6 287.6h1M127.6 278.8h1M129.0 292.7h1M132.4 268.6h1M127.9 287.0h1M126.7 289.0h1M128.8 263.2h1M117.8 307.0h1M131.5 296.0h1M126.3 306.8h1M130.1 299.0h1M128.7 271.4h1M125.2 284.7h1M124.7 307.2h1M130.5 282.8h1M128.6 268.2h1M124.7 315.5h1M126.0 315.4h1M125.6 295.4h1M127.6 300.9h1M127.3 276.5h1M129.5 313.4h1M123.7 314.3h1M126.9 274.8h1M126.9 306.7h1M127.4 282.5h1M128.1 238.1h1M128.8 289.2h1M126.5 277.5h1M127.7 291.1h1M133.0 266.5h1M126.2 298.6h1M123.1 307.7h1M128.0 279.2h1M122.1 313.3h1M129.6 269.1h1M123.6 312.3h1M125.2 273.5h1M123.0 279.7h1M128.6 283.0h1M128.0 268.8h1M127.0 281.7h1M127.1 314.0h1M127.6 276.8h1M132.7 302.9h1M127.0 282.1h1M128.3 276.4h1M128.7 278.5h1M129.3 277.8h1M128.2 278.3h1M128.1 270.8h1M127.8 274.2h1M129.9 258.9h1M128.5 274.1h1M127.3 293.4h1M126.6 275.2h1M127.4 273.7h1M128.9 278.7h1M127.1 294.7h1M129.6 290.7h1M132.9 269.7h1M123.1 296.4h1M129.4 281.2h1M124.9 292.5h1M127.1 277.3h1M128.8 285.9h1M124.8 314.7h1M126.8 301.7h1M125.3 313.3h1M125.6 279.1h1M127.5 278.0h1M124.9 276.1h1M125.1 302.1h1M129.0 298.7h1M128.2 293.5h1M124.0 275.8h1M129.2 254.9h1M126.3 280.6h1M129.9 283.9h1M124.0 282.4h1M123.9 293.5h1M129.2 290.6h1M126.4 311.7h1M126.8 289.9h1M129.7 301.9h1M129.2 276.4h1M128.3 270.7h1M129.9 279.3h1M129.6 304.7h1M131.2 283.8h1M125.8 289.8h1M130.5 264.0h1M129.8 274.8h1M126.3 310.4h1M126.3 279.9h1M131.9 289.0h1M126.5 270.2h1M125.5 311.9h1M130.5 291.8h1M131.4 306.8h1M120.1 300.7h1M130.2 296.3h1M130.2 274.5h1M125.8 309.9h1M130.1 269.5h1M123.5 306.0h1M125.3 299.2h1M127.8 284.5h1M129.2 261.8h1M127.6 303.3h1M129.3 268.8h1M127.8 309.6h1M125.8 312.7h1M131.2 292.6h1M126.7 306.5h1M130.9 294.0h1M127.8 296.1h1M126.7 313.6h1M126.4 292.2h1M125.8 296.6h1M128.3 278.8h1M126.0 313.8h1M131.9 257.4h1M124.1 284.1h1M133.7 262.1h1M127.7 265.2h1M125.8 300.2h1M128.8 298.0h1M129.3 282.0h1M131.4 293.4h1M126.4 292.5h1M131.7 290.7h1M127.9 262.4h1M127.6 301.9h1M123.9 248.6h1M131.5 289.8h1M126.4 292.0h1M131.9 270.3h1M129.1 278.1h1M129.1 285.1h1M127.4 298.1h1M126.0 264.5h1M127.6 284.9h1M123.0 302.2h1M127.0 280.3h1M126.5 305.1h1M124.4 306.0h1M124.8 312.9h1M128.9 308.8h1M127.4 291.1h1M127.1 298.3h1M126.3 315.3h1M126.3 283.5h1M129.5 279.6h1M126.3 296.0h1M127.4 279.1h1M124.1 315.3h1M124.2 281.1h1M128.8 271.6h1M129.6 273.3h1M126.8 273.7h1M126.0 280.1h1M122.3 305.7h1M133.0 273.3h1M128.4 269.4h1M124.1 307.0h1M125.5 271.8h1M129.8 296.0h1M128.4 242.2h1M126.5 292.2h1M125.4 297.4h1M128.0 270.1h1M126.8 263.5h1M124.8 305.6h1M132.4 275.9h1M124.7 295.4h1M129.5 273.5h1M128.8 283.5h1M126.9 300.2h1M132.3 270.8h1M131.6 260.6h1M129.6 291.9h1M128.4 296.9h1M128.5 281.7h1M125.7 315.3h1M127.0 310.5h1M126.5 306.0h1M126.0 270.5h1M125.8 272.5h1M129.9 305.6h1M127.3 303.1h1M126.1 312.1h1M126.3 307.7h1M130.4 283.2h1M130.2 296.5h1M126.1 269.3h1M129.8 276.4h1M132.1 308.0h1M129.2 298.8h1M128.3 294.3h1M130.1 281.0h1M123.7 302.7h1M124.3 287.5h1M125.9 290.2h1M126.5 268.7h1M128.4 299.9h1M129.4 299.1h1M127.4 295.7h1M129.8 286.1h1M128.9 297.9h1M126.1 270.6h1M129.5 296.4h1M128.7 312.4h1M127.1 295.2h1M128.0 308.7h1M126.6 295.6h1M128.8 264.5h1M123.1 314.9h1M124.4 271.6h1M123.8 241.8h1M127.1 311.1h1M129.8 284.0h1M128.5 291.6h1M128.5 273.5h1M124.4 280.5h1M124.4 309.2h1M125.9 309.7h1M126.6 275.5h1M127.1 272.4h1M130.7 297.3h1M129.4 280.5h1M130.6 273.0h1M125.4 274.3h1M128.3 267.9h1M119.7 244.6h1M130.6 272.7h1M124.5 311.2h1M122.1 282.5h1M123.9 259.7h1M125.0 310.8h1M128.8 273.5h1M129.6 294.4h1M123.3 315.4h1M133.9 285.8h1M128.5 273.7h1M130.4 267.0h1M124.3 312.8h1M129.1 282.1h1M126.2 290.6h1M131.6 300.5h1M125.8 307.3h1M122.5 283.3h1M129.1 265.6h1M130.8 307.1h1M125.5 304.1h1M128.3 278.4h1M130.1 242.6h1M131.5 300.6h1M126.2 302.2h1M126.0 298.7h1M129.7 272.8h1M126.6 270.9h1M127.5 291.3h1M131.5 274.5h1M126.9 310.3h1M129.1 304.7h1M125.7 314.6h1M123.0 293.0h1M128.9 297.3h1M131.9 249.7h1M126.1 300.4h1M127.8 275.7h1M129.1 308.1h1M126.3 302.0h1M122.9 293.8h1M126.9 294.4h1M128.1 313.9h1M131.1 275.6h1M125.2 275.1h1M123.7 279.2h1M131.3 269.5h1M127.3 296.1h1M127.4 268.3h1M127.3 269.7h1M129.4 270.8h1M129.1 277.2h1M126.9 273.0h1M125.8 311.2h1M130.5 309.8h1M125.3 299.4h1M130.9 285.7h1M127.1 293.3h1M127.6 253.9h1M129.4 290.0h1M128.7 311.3h1M129.3 276.8h1M125.5 278.1h1M133.2 273.7h1M129.9 255.8h1M125.5 292.6h1M126.5 279.8h1M123.0 308.1h1M129.0 288.4h1M129.4 269.0h1M124.5 315.1h1M129.8 270.7h1M126.7 288.5h1M129.3 270.2h1M129.4 296.3h1M122.7 312.2h1M129.1 283.7h1M131.0 282.5h1M127.4 308.2h1M129.5 295.8h1M127.0 302.6h1M128.1 306.9h1M128.2 272.1h1M125.2 285.3h1M126.7 270.1h1M126.1 270.2h1M126.9 312.1h1M128.4 283.8h1M126.5 274.6h1M126.5 271.6h1M125.1 308.4h1M124.2 313.5h1M124.6 309.3h1M125.5 271.3h1M125.9 272.2h1M128.5 273.8h1M127.0 270.5h1M125.7 273.1h1M128.2 284.1h1M129.1 267.7h1M128.7 273.0h1M127.4 284.9h1M123.5 300.8h1M122.2 308.5h1M127.7 289.9h1M129.6 270.7h1M125.7 299.7h1M126.3 277.2h1M128.7 276.2h1M129.6 273.5h1M129.5 282.1h1M130.7 293.3h1M124.6 292.4h1M123.1 299.1h1M129.9 278.6h1M127.7 264.1h1M125.9 312.7h1M126.5 299.4h1M126.2 271.8h1M126.8 296.1h1M127.4 270.1h1M129.6 291.8h1M129.1 249.7h1M125.1 305.1h1M126.0 308.7h1M125.3 300.6h1M131.1 273.2h1M124.5 293.7h1M128.9 290.9h1M126.5 291.5h1M124.2 309.0h1M124.2 273.7h1M128.5 270.6h1M130.5 290.7h1M134.0 282.8h1M131.1 276.9h1M129.7 288.6h1M124.1 290.0h1M124.8 305.6h1M129.9 288.1h1M125.2 308.7h1M126.0 297.4h1M127.2 275.2h1M126.2 281.7h1M124.6 315.6h1M126.9 283.8h1M126.4 258.2h1M130.5 272.2h1M123.7 308.8h1M129.3 259.2h1M126.9 273.6h1M128.6 292.2h1M128.1 261.7h1M124.8 308.7h1M128.8 302.3h1M127.8 305.0h1M130.2 292.0h1M124.8 296.4h1M122.1 303.5h1M124.9 310.6h1M123.5 309.4h1M128.1 310.6h1M126.2 313.0h1M129.3 300.3h1M126.9 282.3h1M130.7 272.7h1M127.4 284.2h1M125.0 281.2h1M125.3 285.4h1M126.0 312.1h1M121.8 300.1h1M128.3 315.2h1M126.0 313.3h1M122.5 296.4h1M129.8 257.9h1M126.4 313.7h1M124.2 314.2h1M123.3 289.4h1M128.8 283.6h1M130.9 266.6h1M124.7 312.6h1M125.7 278.7h1M128.7 269.0h1M130.1 310.9h1M128.5 285.0h1M125.5 279.4h1M129.2 269.5h1M125.7 310.4h1M128.9 287.3h1M124.0 293.6h1M127.7 305.6h1M132.9 274.0h1M126.8 301.9h1M125.3 286.4h1M120.9 282.4h1M126.7 276.3h1M131.7 271.8h1M129.4 276.8h1M127.8 278.6h1M127.8 247.1h1M125.8 281.1h1M128.1 309.0h1M130.8 304.4h1M124.3 309.0h1M125.1 284.1h1M126.6 298.9h1M128.7 278.3h1M126.9 292.4h1M125.3 306.2h1M125.6 273.3h1M131.6 274.1h1M130.4 275.2h1M128.8 282.4h1M131.1 293.4h1M132.7 260.7h1M126.0 299.9h1M128.5 288.2h1M130.1 255.9h1M125.2 310.9h1M131.5 274.2h1M127.6 276.2h1M125.0 301.4h1M128.7 306.1h1M122.1 303.9h1M128.3 280.7h1M129.9 290.3h1M125.0 275.0h1M123.8 296.3h1M128.3 280.7h1M127.3 288.6h1M126.8 289.8h1M128.8 283.0h1M126.5 279.2h1M132.8 283.6h1M125.0 269.5h1M125.7 286.0h1M125.4 313.6h1M122.3 302.7h1M128.0 286.0h1M125.3 307.6h1M127.4 281.3h1M123.4 299.4h1M127.3 276.3h1M124.4 307.6h1M125.1 311.7h1M127.5 270.7h1M127.6 288.0h1M129.0 292.8h1M126.8 292.7h1M128.3 263.8h1M127.0 287.8h1M129.9 290.5h1M125.3 298.3h1M128.5 300.4h1M125.7 301.1h1M129.0 265.6h1M130.0 264.4h1M129.0 251.3h1M129.9 265.0h1M131.9 280.0h1M126.0 309.0h1M125.7 309.9h1M124.5 309.3h1M123.0 314.1h1M125.1 314.6h1M123.2 304.2h1M128.4 271.3h1M125.9 312.6h1M131.0 282.7h1M127.9 258.6h1M123.5 312.6h1M130.9 292.4h1M127.9 291.6h1M129.6 288.7h1M127.8 292.8h1M128.1 304.3h1M131.9 239.7h1M129.6 292.4h1M132.1 277.8h1M127.3 293.0h1M130.2 274.7h1M129.7 285.5h1M127.1 310.2h1M126.1 276.7h1M132.2 265.8h1M130.7 287.3h1M122.5 307.0h1M127.8 288.0h1M129.1 281.3h1M126.7 315.3h1M127.7 270.2h1M127.9 309.8h1M125.9 307.7h1M124.4 310.7h1M124.5 314.9h1M125.1 313.3h1M125.0 293.8h1M128.1 272.5h1M125.0 309.4h1M125.3 302.7h1M128.2 274.1h1M129.0 271.6h1M126.6 285.0h1M125.8 307.0h1M129.5 287.7h1M126.7 282.1h1M126.3 306.9h1M129.1 302.1h1M126.9 314.1h1M129.1 259.0h1M128.1 293.7h1M125.2 290.9h1M128.0 277.8h1M129.5 270.4h1M127.3 269.6h1M123.2 295.5h1M131.5 272.1h1M127.4 290.0h1M127.7 254.5h1M130.8 279.6h1M127.7 286.2h1M124.1 306.4h1M129.3 283.6h1M128.7 286.0h1M120.8 302.4h1M134.7 277.4h1M128.5 279.9h1M126.0 283.7h1M126.4 304.1h1M126.7 291.2h1M123.7 293.0h1M129.6 306.5h1M126.8 290.3h1M125.1 308.8h1M126.5 314.8h1M126.5 277.0h1M132.8 304.1h1M127.7 285.1h1M127.0 279.6h1M125.3 311.5h1M126.5 287.6h1M127.5 288.0h1M132.2 283.5h1M125.0 298.6h1M129.5 312.6h1M130.4 266.2h1M129.1 273.7h1M127.8 273.7h1M127.0 295.0h1M129.2 269.4h1M128.1 288.9h1M127.3 269.1h1M123.9 289.0h1M129.4 273.5h1M125.2 298.6h1M127.2 294.5h1M124.6 291.9h1M125.6 311.9h1M129.6 295.4h1M125.8 311.5h1M131.8 284.3h1M129.1 300.9h1M127.7 285.1h1M125.5 300.3h1M128.2 303.2h1M128.1 273.8h1M125.9 284.2h1M125.8 307.1h1M127.3 268.1h1M130.0 281.6h1M125.6 298.1h1M127.0 302.6h1M129.9 276.0h1M122.4 311.7h1M126.0 305.6h1M127.0 290.9h1M128.8 296.9h1M123.6 307.6h1M129.9 300.7h1M126.6 307.8h1M127.9 277.9h1M123.9 313.8h1M123.7 303.6h1M126.1 301.5h1M129.7 277.0h1M129.6 268.8h1M126.1 302.6h1M125.2 308.5h1M126.7 275.4h1M128.5 275.7h1M127.8 305.2h1M121.7 306.9h1M126.9 259.5h1M131.8 273.6h1M127.9 313.7h1M124.6 315.4h1M129.3 281.5h1M127.5 298.5h1M128.3 301.9h1M131.7 258.1h1M128.6 270.5h1M129.3 269.2h1M127.6 302.6h1M132.6 277.7h1M128.7 309.7h1M129.3 267.4h1M125.5 312.6h1M122.9 313.3h1M129.3 293.8h1M127.7 289.5h1M127.0 298.9h1M127.5 303.1h1M126.8 303.2h1M125.1 301.1h1M120.5 295.5h1M131.4 270.4h1M127.2 280.5h1M125.3 303.0h1M127.4 289.1h1M124.3 303.2h1M128.1 268.8h1M126.9 309.9h1M126.4 297.0h1M121.1 306.7h1M127.5 304.9h1M130.3 283.6h1M126.3 312.9h1M127.3 275.2h1M130.4 292.2h1M129.2 288.0h1M129.0 274.9h1M126.6 294.6h1M130.9 284.0h1M128.5 278.1h1M124.0 299.0h1M131.3 277.8h1M127.3 275.8h1M125.7 280.6h1M129.1 292.2h1M126.4 314.7h1M124.9 299.6h1M123.5 303.2h1M131.7 276.5h1M127.5 296.7h1M127.8 308.5h1M127.2 277.1h1M127.7 311.0h1M126.1 304.7h1M122.5 300.2h1M127.2 280.1h1M128.1 290.8h1M128.2 291.3h1M128.0 296.0h1M126.1 269.6h1M126.3 309.1h1M127.4 284.9h1M124.8 315.1h1M125.6 309.7h1M128.9 307.5h1M129.8 270.4h1M124.1 312.7h1M129.7 276.8h1M122.4 311.2h1M126.2 278.1h1M128.3 272.1h1M126.2 273.8h1M128.7 298.0h1M128.3 283.4h1M129.6 307.1h1M126.6 303.2h1M131.3 279.1h1M132.3 269.2h1M122.7 311.8h1M125.4 282.5h1M130.9 276.7h1M129.1 279.6h1M125.4 279.1h1M129.5 298.0h1M128.5 300.7h1M123.3 294.4h1M127.0 299.7h1M124.4 299.2h1M130.7 242.5h1M129.7 272.4h1M125.8 307.6h1M129.2 306.8h1M127.6 281.8h1M129.6 298.7h1M130.7 292.6h1M130.7 281.5h1M124.3 271.9h1M129.0 268.7h1M127.8 269.0h1M127.4 282.7h1M126.5 290.3h1M127.9 280.8h1M131.4 271.7h1M126.6 293.0h1M127.2 301.3h1M125.6 315.0h1M128.2 250.4h1M125.9 296.1h1M125.6 315.5h1M127.9 289.0h1M127.5 266.9h1M126.4 269.1h1M126.8 293.5h1M128.1 297.2h1M126.3 280.9h1M129.7 279.6h1M127.2 274.9h1M127.2 270.5h1M128.4 273.0h1M127.6 276.8h1M127.7 301.9h1M131.9 309.3h1M123.2 263.2h1M124.0 296.3h1M129.3 298.1h1M132.4 276.0h1M126.0 280.7h1M129.7 288.2h1M128.8 282.6h1M129.3 266.6h1M130.8 262.0h1M130.9 276.4h1M128.0 286.8h1M128.2 288.2h1M124.7 300.3h1M125.1 315.0h1M125.9 315.5h1M129.7 282.9h1M129.9 301.4h1M130.4 270.0h1M126.5 312.3h1M130.4 294.0h1M125.0 284.2h1M124.5 312.4h1M127.3 273.3h1M126.1 299.3h1M128.2 295.8h1M125.2 312.2h1M125.3 290.0h1M123.3 309.2h1M128.2 302.2h1M129.9 282.4h1M130.6 274.3h1M124.9 292.9h1M125.4 313.9h1M127.3 311.4h1M125.9 311.2h1M128.2 269.5h1M129.6 273.7h1M126.4 250.2h1M130.3 293.5h1M129.1 273.2h1M123.3 288.5h1M129.5 271.5h1M127.0 302.1h1M128.8 275.8h1M124.7 314.5h1M127.4 261.5h1M126.3 279.8h1M121.2 307.5h1M124.1 299.3h1M129.7 292.8h1M131.2 271.7h1M126.2 269.0h1M124.3 294.4h1M124.3 311.6h1M125.1 315.4h1M129.0 294.0h1M126.3 285.3h1M126.8 299.8h1M128.9 281.8h1M128.6 301.7h1M127.3 280.2h1M125.0 295.2h1M124.9 303.5h1M129.7 281.4h1M125.0 302.3h1M131.9 295.8h1M128.6 294.0h1M128.5 303.3h1M128.2 283.7h1M129.0 300.9h1M126.7 290.7h1M124.7 291.0h1M120.1 302.0h1M132.3 269.9h1M126.4 277.4h1M129.3 264.0h1M126.7 279.1h1M128.4 252.2h1M129.8 267.8h1M127.4 283.4h1M127.7 290.9h1M124.4 289.0h1M124.4 311.2h1M130.8 254.4h1M129.6 273.6h1M128.5 270.9h1M129.1 295.5h1M125.2 311.6h1M129.1 272.4h1M129.3 295.7h1M129.4 300.0h1M128.4 268.1h1M127.4 277.8h1M124.5 303.4h1M126.2 305.0h1M124.7 315.0h1M126.0 299.4h1M128.5 257.3h1M127.1 313.9h1M125.9 308.7h1M125.2 295.8h1M122.9 311.7h1M126.6 314.0h1M124.8 278.3h1M128.2 288.5h1M126.9 300.7h1M121.7 304.6h1M124.3 284.3h1M124.6 253.7h1M125.0 298.0h1M126.8 262.4h1M124.7 297.7h1M125.6 296.3h1M124.1 310.3h1M127.1 267.1h1M123.1 313.4h1M129.8 274.0h1M126.2 294.3h1M126.3 312.3h1M128.7 295.9h1M124.8 295.5h1M128.1 292.7h1M128.1 267.5h1M129.6 308.8h1M129.9 272.6h1M124.8 296.8h1M125.6 295.9h1M131.1 299.4h1M130.2 269.4h1M128.3 265.4h1M128.3 285.3h1M126.7 276.7h1M128.3 283.2h1M124.8 308.7h1M127.3 264.5h1M126.4 304.5h1M127.7 269.2h1M128.1 285.6h1M129.4 283.4h1M127.1 301.0h1M124.4 279.2h1M128.8 306.2h1M128.5 308.9h1M132.4 285.5h1M124.9 314.7h1M119.4 307.6h1M131.7 296.7h1M122.0 315.0h1M125.3 300.2h1M125.3 314.4h1M129.6 285.7h1M129.8 270.9h1M128.8 284.6h1M125.3 269.9h1M123.6 304.8h1M124.2 293.6h1M126.8 281.7h1M126.0 301.8h1M130.9 289.8h1M133.0 261.8h1M129.7 262.0h1M127.4 284.8h1M130.3 278.3h1M128.6 240.9h1M129.2 270.9h1M125.2 308.0h1M126.4 295.4h1M130.7 268.4h1M127.7 281.9h1M128.1 278.5h1M126.1 308.1h1M127.1 280.5h1M130.5 246.4h1M126.4 273.8h1M125.8 310.3h1M127.2 295.4h1M124.0 312.7h1M126.2 278.0h1M126.9 296.9h1M130.1 268.8h1M127.3 291.9h1M129.5 283.1h1M129.0 273.1h1M126.3 275.8h1M127.1 271.5h1M125.3 312.0h1M127.7 264.1h1M132.1 291.8h1M127.5 250.2h1M128.5 288.6h1M126.8 301.8h1M126.6 295.7h1M127.3 289.2h1M124.4 291.5h1M130.9 273.3h1M127.3 279.1h1M124.6 294.2h1M122.1 306.7h1M124.6 307.5h1M128.5 293.4h1M126.0 298.7h1M126.8 287.7h1M129.1 269.1h1M124.4 290.8h1M126.6 291.5h1M126.6 307.4h1M125.9 286.6h1M129.3 263.1h1M122.2 309.7h1M131.6 275.1h1M121.6 310.4h1M128.2 295.6h1M125.0 299.1h1M126.2 297.8h1M123.7 314.6h1M127.8 311.0h1M126.3 298.7h1M123.7 267.2h1M125.5 296.4h1M126.9 269.0h1M129.0 279.0h1M125.7 300.2h1M133.7 295.1h1M127.7 294.3h1M126.7 314.9h1M125.0 312.0h1M125.1 292.0h1M132.3 286.6h1M125.8 272.6h1M130.1 273.3h1M126.6 313.7h1M129.8 287.4h1M127.7 290.5h1M125.4 274.0h1M124.3 315.6h1M129.5 291.9h1M125.8 309.5h1M129.8 295.3h1M124.7 282.9h1M131.0 276.0h1M127.0 257.2h1M128.8 299.0h1M122.1 303.9h1M125.7 270.3h1M129.5 273.0h1M130.7 274.1h1M126.3 265.9h1M128.7 304.4h1M125.4 288.1h1M131.3 279.4h1M124.9 309.6h1M127.6 266.7h1M125.4 239.7h1M124.6 283.4h1M128.6 275.7h1M129.3 277.9h1M127.7 290.7h1M129.4 285.2h1M129.2 285.6h1M130.0 301.9h1M128.2 298.1h1M131.8 282.4h1M130.7 296.6h1M126.1 285.4h1M126.1 313.6h1M131.4 276.3h1M127.7 303.2h1M129.8 290.9h1M130.4 284.8h1M127.6 305.7h1M129.2 273.7h1M124.9 271.1h1M128.0 280.3h1M127.4 286.0h1M127.2 300.9h1M126.2 278.4h1M127.4 272.4h1M129.1 295.9h1M125.7 300.8h1M128.7 272.6h1M130.0 297.9h1M129.6 283.7h1M125.4 314.8h1M123.1 286.0h1M126.2 297.5h1M125.2 314.9h1M126.1 295.4h1M124.5 296.2h1M125.8 311.1h1M126.9 287.0h1M124.0 286.0h1M126.4 273.4h1M126.7 273.7h1M130.0 283.8h1M133.7 259.0h1M131.7 260.8h1M128.3 266.6h1M127.5 295.2h1M125.2 269.6h1M129.1 303.6h1M128.0 288.3h1M126.6 308.8h1M128.6 308.6h1M128.0 289.8h1M129.9 281.7h1M127.1 282.9h1M129.4 312.8h1M131.5 276.8h1M126.1 304.1h1M128.6 288.9h1M128.3 274.3h1M130.5 269.5h1M125.1 310.0h1M129.9 306.4h1M128.9 281.2h1M124.7 295.7h1M125.3 285.6h1M125.2 311.6h1M124.7 307.2h1M126.3 283.9h1M130.4 258.6h1M121.0 308.3h1M123.0 313.6h1M125.9 295.6h1M124.2 315.4h1M130.9 249.3h1M125.1 290.3h1M131.1 282.0h1M126.4 280.8h1M125.7 291.8h1M136.5 299.2h1M141.5 272.8h1M137.4 277.4h1M153.9 251.3h1M134.2 288.8h1M136.5 284.5h1M130.5 310.3h1M136.2 301.3h1M133.8 296.6h1M138.4 291.5h1M135.0 303.8h1M136.8 299.2h1M142.5 293.1h1M133.7 291.7h1M141.4 236.6h1M131.9 309.2h1M136.5 287.1h1M144.6 239.5h1M132.8 312.3h1M138.9 265.5h1M135.1 286.7h1M133.8 284.5h1M132.7 301.8h1M148.5 306.1h1M137.5 280.0h1M137.0 295.6h1M132.2 311.6h1M132.5 292.8h1M139.2 278.2h1M144.5 304.0h1M154.7 256.2h1M140.4 265.8h1M133.7 283.1h1M141.6 276.5h1M137.5 307.2h1M147.7 246.1h1M132.9 301.1h1M133.5 267.3h1M133.5 270.9h1M131.1 304.4h1M137.5 257.0h1M134.9 259.4h1M137.6 293.1h1M141.7 276.6h1M137.7 298.1h1M134.5 272.8h1M134.4 287.8h1M137.4 278.8h1M134.7 293.5h1M140.0 283.3h1M132.8 301.6h1M141.3 282.7h1M132.5 292.9h1M151.5 257.4h1M132.5 308.4h1M137.8 296.8h1M135.7 311.5h1M135.2 276.0h1M143.0 260.2h1M152.7 264.9h1M135.2 314.3h1M135.1 285.1h1M133.0 311.2h1M134.7 269.4h1M137.9 295.9h1M132.4 293.6h1M135.6 287.2h1M136.5 275.7h1M132.4 298.4h1M131.8 311.0h1M131.6 301.8h1M135.7 295.3h1M135.1 288.9h1M133.5 294.7h1M139.0 287.0h1M138.7 306.7h1M147.2 269.5h1M139.8 246.6h1M135.0 291.0h1M134.6 309.3h1M135.4 290.3h1M139.7 267.0h1M141.9 289.7h1M138.6 243.5h1M136.7 294.5h1M139.2 258.8h1M138.7 292.9h1M137.3 255.6h1M134.8 250.5h1M145.3 287.5h1M136.0 279.5h1M137.6 264.4h1M132.6 296.3h1M140.1 307.8h1M137.1 307.8h1M134.5 273.4h1M136.7 275.3h1M132.7 311.5h1M134.4 258.4h1M134.1 302.7h1M138.9 265.5h1M132.6 308.4h1M137.2 266.6h1M141.3 283.1h1M134.7 281.5h1M146.2 296.2h1M139.3 259.0h1M142.2 301.9h1M143.7 265.0h1M158.5 250.4h1M135.7 287.3h1M141.7 300.8h1M137.8 281.6h1M134.6 312.8h1M133.2 286.5h1M136.5 315.3h1M135.5 258.2h1M134.0 278.5h1M131.9 306.7h1M143.6 258.3h1M134.0 301.0h1M130.2 314.3h1M146.2 266.8h1M135.4 261.5h1M138.6 268.2h1M134.1 290.4h1M136.8 299.1h1M134.4 241.5h1M140.5 287.0h1M134.6 298.4h1M135.2 305.8h1M133.9 286.9h1M142.4 246.9h1M133.4 284.9h1M138.2 253.7h1M148.6 286.3h1M151.1 265.1h1M139.0 251.7h1M138.6 294.7h1M148.9 293.9h1M133.8 258.8h1M134.3 274.7h1M136.4 268.4h1M132.1 298.1h1M149.0 256.1h1M133.7 307.1h1M134.1 287.8h1M142.1 268.3h1M139.1 247.9h1M131.2 302.6h1M130.4 313.7h1M133.8 237.7h1M133.9 289.1h1M138.3 308.0h1M133.6 271.8h1M133.1 283.6h1M132.5 296.7h1M139.5 268.6h1M135.4 273.8h1M134.0 237.9h1M133.7 262.6h1M133.3 297.7h1M133.7 304.5h1M132.1 297.1h1M136.3 247.5h1M136.3 287.3h1M137.6 309.6h1M138.8 252.4h1M139.8 298.3h1M136.6 314.2h1M160.6 295.5h1M152.4 266.8h1M137.6 282.8h1M135.0 274.4h1M132.6 291.2h1M131.6 310.6h1M135.7 315.0h1M136.7 260.3h1M146.0 312.2h1M144.5 286.8h1M133.1 313.8h1M140.8 264.3h1M132.6 303.4h1M134.0 287.7h1M139.3 285.8h1M136.1 278.0h1M136.9 240.1h1M141.1 283.7h1M146.8 275.7h1M136.4 263.5h1M136.0 254.7h1M134.2 244.4h1M137.8 262.9h1M133.3 284.8h1M137.9 272.7h1M136.8 302.7h1M133.8 298.2h1M140.5 283.3h1M133.5 253.5h1M132.1 300.8h1M142.4 304.9h1M149.8 297.2h1M145.7 265.1h1M137.7 306.4h1M134.7 294.8h1M158.6 286.9h1M133.5 293.6h1M135.5 286.1h1M137.7 279.4h1M151.4 266.0h1M136.5 279.4h1M136.3 289.4h1M135.0 264.7h1M144.6 291.5h1M136.2 276.5h1M138.5 287.3h1M135.5 298.8h1M133.0 284.0h1M131.3 309.9h1M135.9 256.3h1M144.9 258.0h1M135.7 270.7h1M135.4 289.1h1M140.0 287.7h1M143.9 307.5h1M138.0 255.9h1M136.5 288.9h1M135.1 297.9h1M132.1 299.3h1M134.7 263.9h1M138.2 264.6h1M149.0 262.3h1M143.4 280.0h1M136.2 279.3h1M141.7 277.5h1M136.6 266.5h1M147.7 306.2h1M143.2 297.4h1M141.8 307.5h1M141.4 249.0h1M133.8 256.2h1M142.0 292.1h1M133.3 296.5h1M131.3 305.1h1M133.4 295.7h1M134.2 265.2h1M134.8 260.7h1M134.3 280.3h1M144.1 265.6h1M134.6 265.6h1M146.3 276.8h1M137.2 248.2h1M145.3 286.4h1M145.9 307.7h1M151.5 297.1h1M135.7 255.0h1M135.8 253.1h1M144.6 302.7h1M134.6 290.6h1M139.7 285.3h1M134.6 265.5h1M133.2 295.8h1M135.7 256.1h1M145.3 281.3h1M135.1 249.1h1M157.8 312.1h1M137.4 278.4h1M134.3 298.9h1M139.6 266.7h1M134.6 290.9h1M130.9 309.4h1M138.5 260.8h1M133.8 282.1h1M141.2 263.8h1M134.1 266.0h1M136.9 298.9h1M136.2 263.7h1M133.2 286.7h1M134.3 245.4h1M134.2 287.7h1M137.2 283.8h1M134.3 248.0h1M134.3 280.2h1M134.6 313.1h1M134.4 300.8h1M147.5 252.4h1M135.0 258.7h1M138.1 262.1h1M134.1 262.9h1M148.0 278.5h1M134.2 272.1h1M134.1 266.4h1M147.3 286.1h1M137.9 280.2h1M141.7 310.1h1M146.7 264.3h1M133.6 277.8h1M138.6 298.1h1M138.6 297.4h1M134.9 264.7h1M139.8 253.0h1M137.2 312.8h1M148.8 272.4h1M142.7 282.5h1M139.1 285.3h1M142.7 250.8h1M137.5 267.0h1M134.4 279.8h1M141.5 252.1h1M139.1 260.9h1M133.0 285.6h1M134.6 262.8h1M137.3 298.2h1M143.5 244.8h1M134.8 291.1h1M159.9 278.1h1M135.6 258.5h1M131.3 313.8h1M135.5 293.4h1M133.9 286.0h1M130.5 315.6h1M136.2 262.8h1M136.2 240.1h1M141.4 307.4h1M132.2 299.1h1M140.2 234.5h1M134.0 258.6h1M135.0 311.6h1M140.1 288.3h1M135.9 289.2h1M140.1 291.6h1M138.7 276.4h1M136.7 284.1h1M134.3 274.9h1M133.9 285.0h1M132.9 310.4h1M132.1 293.8h1M135.7 255.6h1M138.8 289.2h1M143.3 293.7h1M135.6 270.5h1M136.6 260.9h1M149.6 287.0h1M140.2 302.5h1M140.4 265.6h1M134.4 260.1h1M135.8 285.3h1M136.9 259.0h1M141.5 306.3h1M149.8 263.5h1M136.8 289.2h1M145.5 267.2h1M133.9 261.4h1M133.6 307.7h1M133.4 293.1h1M135.0 263.3h1M135.9 289.5h1M135.8 282.5h1M142.3 282.0h1M135.5 288.8h1M134.4 266.5h1M131.6 306.3h1M141.4 286.7h1M135.8 248.1h1M135.2 256.3h1M146.4 269.9h1M138.0 266.5h1M139.3 277.6h1M133.1 290.8h1M134.3 273.6h1M140.4 281.8h1M132.6 303.0h1M137.7 256.4h1M136.1 302.5h1M139.8 267.1h1M133.6 257.3h1M137.5 272.3h1M148.7 273.7h1M133.4 253.0h1M140.8 282.3h1M152.1 268.4h1M134.2 269.4h1M134.4 290.6h1M135.4 269.5h1M134.8 257.1h1M141.4 281.5h1M153.2 251.3h1M137.4 280.7h1M142.6 281.6h1M134.8 277.3h1M133.4 285.9h1M130.8 314.5h1M154.1 265.8h1M140.5 287.5h1M137.7 279.3h1M138.4 252.0h1M132.6 291.8h1M136.8 299.3h1M133.8 262.5h1M134.1 313.4h1M145.6 298.6h1M163.2 264.0h1M140.9 273.8h1M137.8 270.7h1M133.4 303.9h1M136.0 282.3h1M139.5 303.3h1M131.9 303.1h1M135.2 282.6h1M143.6 262.2h1M136.3 261.0h1M131.6 306.9h1M136.9 270.4h1M148.4 275.1h1M133.7 305.1h1M136.1 285.8h1M135.1 298.2h1M145.4 277.7h1M134.5 260.9h1M143.0 259.9h1M141.0 253.0h1M135.1 233.9h1M139.7 272.4h1M133.7 300.8h1M132.5 294.6h1M131.6 315.1h1M133.5 302.4h1M132.5 291.9h1M136.1 304.0h1M138.5 263.5h1M153.6 284.2h1M134.5 310.6h1M130.4 314.0h1M137.4 264.3h1M134.8 267.0h1M152.3 297.6h1M133.1 287.5h1M136.3 285.3h1M134.3 280.9h1M135.0 287.9h1M134.8 287.2h1M133.0 289.2h1M137.7 280.7h1M136.7 307.0h1M136.6 277.1h1M137.8 299.0h1M137.0 298.2h1M134.4 293.9h1M140.4 295.9h1M133.7 298.5h1M140.5 288.8h1M149.2 294.3h1M140.8 255.3h1M131.9 296.1h1M137.3 287.1h1M133.7 310.0h1M144.1 308.7h1M146.3 285.0h1M141.8 273.4h1M136.8 266.4h1M136.0 265.4h1M137.0 282.0h1M134.7 274.9h1M135.4 268.8h1M136.2 284.9h1M137.2 279.4h1M136.9 285.1h1M143.0 283.0h1M135.9 307.9h1M137.9 285.7h1M144.3 279.9h1M133.4 303.7h1M134.5 278.3h1M144.9 310.8h1M133.8 303.1h1M139.1 295.6h1M131.6 307.7h1M134.4 306.8h1M132.5 309.3h1M135.3 295.7h1M142.3 281.5h1M133.2 303.9h1M136.6 294.5h1M133.7 306.9h1M136.2 271.3h1M154.2 278.2h1M137.8 265.2h1M146.7 285.1h1M139.3 275.9h1M133.2 289.4h1M143.7 256.4h1M140.4 279.0h1M135.4 301.4h1M136.4 278.8h1M148.5 289.2h1M134.6 253.6h1M134.7 312.0h1M138.0 251.7h1M135.2 305.0h1M134.8 254.7h1M137.8 278.0h1M139.6 296.9h1M133.6 258.2h1M134.4 266.2h1M142.2 298.3h1M131.0 307.3h1M140.1 287.9h1M135.1 261.8h1M134.9 279.5h1M141.4 272.0h1M143.5 284.0h1M152.9 281.5h1M143.7 289.2h1M141.0 312.9h1M144.1 237.9h1M134.3 277.8h1M146.1 300.0h1M137.1 257.6h1M139.5 304.8h1M136.7 314.1h1M131.0 305.6h1M148.8 273.3h1M140.9 289.3h1M133.6 264.0h1M140.5 272.3h1M134.7 253.6h1M135.1 300.1h1M142.9 274.4h1M133.8 269.7h1M134.8 290.6h1M136.8 275.3h1M133.7 250.6h1M133.5 275.5h1M137.0 280.3h1M136.0 283.2h1M154.8 290.9h1M146.5 260.3h1M146.5 292.4h1M132.8 299.7h1M138.7 249.9h1M137.5 259.4h1M133.7 254.6h1M140.5 254.9h1M145.7 263.3h1M136.4 302.9h1M133.7 285.9h1M144.0 298.0h1M130.8 309.7h1M136.5 282.9h1M142.3 290.6h1M135.9 280.1h1M134.7 246.2h1M139.3 291.2h1M132.3 292.4h1M135.1 282.5h1M136.9 287.3h1M137.0 272.7h1M136.5 283.1h1M143.0 300.0h1M134.0 263.9h1M138.3 260.1h1M137.4 302.1h1M132.6 298.3h1M133.3 284.4h1M137.5 293.2h1M132.4 292.4h1M140.0 255.4h1M140.4 293.0h1M134.6 281.0h1M136.2 263.7h1M135.6 302.6h1M139.3 300.3h1M146.4 260.4h1M137.8 282.4h1M131.6 308.6h1M141.3 273.2h1M132.3 306.6h1M142.7 282.2h1M131.5 303.7h1M137.7 268.6h1M137.4 308.0h1M134.0 257.1h1M137.4 278.9h1M144.2 281.7h1M144.6 286.2h1M141.0 278.2h1M133.8 297.8h1M133.2 287.9h1M135.7 307.1h1M140.8 285.5h1M145.7 269.3h1M132.9 310.6h1M142.1 261.3h1M133.4 314.4h1M135.9 254.2h1M140.1 285.4h1M134.9 279.8h1M138.1 240.6h1M133.0 314.7h1M134.5 280.9h1M133.8 303.9h1M138.2 269.7h1M144.7 295.4h1M148.0 284.0h1M141.1 250.4h1M138.0 300.7h1M139.0 296.6h1M131.3 315.1h1M130.8 310.5h1M142.3 276.0h1M134.7 279.7h1M146.6 310.4h1M135.7 263.4h1M135.5 279.7h1M133.6 307.2h1M136.5 302.7h1M134.8 271.5h1M135.0 285.9h1M141.2 253.9h1M136.4 278.6h1M149.6 264.7h1M132.5 313.6h1M137.3 263.3h1M137.7 267.8h1M134.9 272.0h1M139.1 260.2h1M145.2 284.8h1M136.3 282.6h1M134.5 282.9h1M135.5 294.4h1M137.8 294.0h1M137.8 292.2h1M132.6 288.5h1M139.4 304.8h1M136.5 282.5h1M140.2 269.4h1M133.4 308.9h1M137.6 283.2h1M135.6 307.9h1M132.8 285.6h1M133.0 303.2h1M134.0 255.6h1M143.2 267.3h1M137.7 288.5h1M134.2 274.6h1M135.0 263.7h1M138.0 306.9h1M146.9 258.7h1M134.2 273.7h1M134.4 249.1h1M143.8 270.8h1M140.4 259.2h1M135.2 280.7h1M136.1 256.1h1M132.3 307.4h1M137.8 268.0h1M138.0 297.1h1M134.8 284.0h1M142.1 276.0h1M137.3 256.3h1M134.1 269.6h1M132.7 288.0h1M133.3 282.7h1M136.9 254.2h1M141.2 288.7h1M134.4 268.3h1M134.6 282.6h1M132.9 291.1h1M137.0 306.7h1M137.6 257.6h1M142.4 308.6h1M135.7 294.9h1M140.5 283.0h1M136.0 261.4h1M135.3 295.5h1M136.2 294.2h1M134.0 296.6h1M133.9 282.2h1M132.6 291.9h1M132.3 312.1h1M136.7 286.9h1M149.3 268.2h1M136.7 305.1h1M150.6 310.4h1M134.9 246.4h1M135.0 271.3h1M135.0 287.4h1M143.7 264.6h1M136.9 271.7h1M140.3 257.9h1M134.8 268.2h1M137.3 260.9h1M138.1 312.0h1M137.5 302.3h1M133.0 282.2h1M131.6 306.4h1M147.0 286.4h1M130.6 315.1h1M155.4 277.9h1M134.9 257.0h1M143.8 254.6h1M134.7 281.2h1M142.8 266.6h1M158.5 271.2h1M136.6 283.8h1M136.5 314.5h1M137.7 251.5h1M135.0 278.1h1M135.1 279.9h1M133.6 275.4h1M134.7 281.6h1M134.2 300.5h1M134.1 306.1h1M137.9 265.9h1M134.7 295.5h1M141.2 276.3h1M137.2 294.7h1M135.1 285.3h1M133.9 302.7h1M136.2 255.6h1M133.9 286.7h1M138.8 289.1h1M138.8 294.4h1M150.6 273.4h1M136.3 280.0h1M146.0 274.6h1M135.5 282.3h1M134.7 264.1h1M148.1 255.4h1M137.4 299.6h1M132.8 297.7h1M160.7 306.9h1M134.4 262.3h1M138.8 294.4h1M135.5 265.7h1M139.3 313.9h1M133.7 242.6h1M133.9 281.2h1M143.6 264.9h1M137.0 297.2h1M136.1 257.6h1M137.1 265.0h1M136.9 299.2h1M133.1 310.8h1M138.0 272.2h1M139.8 295.4h1M133.4 314.2h1M135.0 267.6h1M134.8 289.2h1M145.6 301.8h1M136.9 257.2h1M134.5 296.7h1M135.9 287.3h1M146.2 303.8h1M136.1 298.4h1M135.4 295.0h1M134.9 302.9h1M130.2 313.7h1M135.2 296.0h1M142.4 244.0h1M139.0 256.6h1M130.6 312.7h1M134.9 276.6h1M133.9 308.9h1M139.8 289.4h1M139.4 254.8h1M136.6 282.4h1M158.4 280.2h1M140.7 274.9h1M136.8 288.5h1M149.7 257.3h1M136.6 306.0h1M131.4 308.5h1M146.2 261.6h1M139.7 285.2h1M134.7 288.9h1M135.0 282.1h1M133.9 265.7h1M138.5 301.1h1M137.0 291.7h1M137.3 255.7h1M137.4 285.2h1M132.5 298.7h1M133.8 276.3h1M141.9 289.0h1M133.4 298.7h1M134.0 271.1h1M136.3 265.4h1M141.1 284.6h1M135.3 279.5h1M131.7 300.1h1M140.3 245.4h1M141.5 278.8h1M132.6 311.1h1M144.6 268.1h1M136.8 292.8h1M139.5 286.4h1M134.2 261.3h1M132.3 315.1h1M133.6 248.1h1M136.3 258.6h1M134.5 288.9h1M131.3 305.1h1M142.0 263.7h1M137.0 278.2h1M134.1 271.0h1M143.8 293.3h1M136.4 304.0h1M154.6 300.4h1M133.8 258.3h1M134.6 274.7h1M136.5 283.6h1M134.5 280.4h1M140.6 315.2h1M134.5 311.1h1M132.0 311.3h1M140.3 289.9h1M138.1 294.6h1M131.3 304.2h1M134.1 242.4h1M132.4 293.4h1M135.9 257.9h1M140.5 260.4h1M131.2 309.6h1M147.1 269.6h1M147.4 275.2h1M133.5 257.8h1M144.2 288.6h1M133.1 303.4h1M140.3 282.6h1M138.6 302.1h1M137.5 268.5h1M135.2 268.9h1M148.9 282.9h1M131.8 307.2h1M139.6 257.8h1M135.0 268.4h1M132.2 308.8h1M142.8 312.1h1M141.7 276.7h1M133.9 252.9h1M133.9 295.6h1M134.8 285.2h1M133.4 270.9h1M134.0 312.8h1M139.6 301.5h1M137.3 282.2h1M135.9 273.4h1M134.6 305.3h1M145.9 287.8h1M133.4 300.5h1M136.3 278.9h1M149.0 257.4h1M136.9 265.8h1M136.6 286.3h1M135.4 292.9h1M136.9 276.9h1M135.3 269.7h1M148.5 297.0h1M135.7 300.6h1M131.6 308.7h1M140.0 281.6h1M133.9 273.1h1M136.4 268.7h1M131.7 306.3h1M142.0 263.8h1M132.5 290.7h1M141.7 270.9h1M133.4 273.5h1M135.7 299.4h1M154.1 294.2h1M136.5 278.0h1M135.0 286.9h1M136.3 286.1h1M136.6 291.9h1M136.5 282.1h1M135.7 258.6h1M140.8 263.1h1M133.7 276.4h1M148.5 298.8h1M137.1 285.2h1M135.2 313.0h1M141.2 278.7h1M136.2 276.8h1M138.9 310.2h1M137.4 287.1h1M150.9 302.6h1M134.0 264.9h1M137.8 290.4h1M135.6 276.4h1M139.8 254.8h1M149.0 254.9h1M136.4 313.5h1M134.6 290.6h1M138.9 297.1h1M168.8 271.7h1M148.3 268.3h1M145.2 282.4h1M159.3 277.2h1M147.0 240.5h1M157.8 270.5h1M147.7 306.1h1M145.8 261.2h1M145.4 304.5h1M149.4 291.8h1M146.2 284.6h1M152.0 270.8h1M158.5 299.1h1M149.0 298.4h1M157.8 267.1h1M147.1 293.9h1M173.9 268.7h1M161.3 297.2h1M155.7 299.2h1M146.8 258.6h1M174.3 289.7h1M145.5 274.0h1M158.7 303.9h1M145.9 260.2h1M158.0 299.5h1M161.3 254.7h1M175.1 260.4h1M144.9 273.3h1M151.7 294.1h1M172.9 288.9h1M153.9 277.9h1M145.9 286.8h1M149.4 292.4h1M152.9 237.2h1M145.1 262.6h1M172.7 294.2h1M149.7 273.8h1M150.8 281.0h1M150.4 301.7h1M161.6 310.0h1M151.7 259.7h1M152.2 272.0h1M150.1 267.8h1M147.3 262.4h1M165.2 276.0h1M145.5 302.2h1M155.0 299.1h1M150.0 284.5h1M150.9 293.2h1M151.2 262.6h1M165.5 289.7h1M152.6 291.0h1M153.7 286.4h1M147.3 268.2h1M148.7 265.1h1M148.6 283.0h1M144.9 285.8h1M154.8 246.5h1M146.3 272.4h1M153.1 262.2h1M155.5 282.5h1M154.9 256.5h1M156.5 264.6h1M146.8 305.9h1M158.6 264.5h1M169.7 282.5h1M155.6 293.4h1M170.9 268.4h1M173.1 263.7h1M169.5 278.8h1M146.1 260.8h1M144.7 280.7h1M162.3 279.4h1M160.1 291.4h1M152.9 289.5h1M162.1 281.2h1M167.9 290.7h1M150.9 277.3h1M148.0 264.1h1M152.1 276.1h1M144.8 290.8h1M144.6 272.4h1M147.1 296.8h1M154.3 263.2h1M146.8 281.6h1M154.6 280.9h1M156.6 263.8h1M149.2 272.7h1M145.7 308.1h1M145.7 261.9h1M146.4 287.5h1M172.8 293.3h1M146.6 284.0h1M148.0 251.9h1M154.1 285.9h1M154.4 279.2h1M159.2 265.6h1M155.3 306.6h1M148.3 265.7h1M148.9 263.5h1M149.3 244.2h1M147.6 269.1h1M152.3 302.5h1M146.7 293.2h1M174.1 302.6h1M151.3 270.4h1M146.3 263.2h1M148.6 302.1h1M165.3 271.8h1M145.4 282.4h1M174.4 294.8h1M153.5 273.7h1M147.5 292.3h1M145.0 281.7h1M148.2 269.3h1M146.8 297.0h1M157.6 272.8h1M156.9 290.8h1M146.9 272.6h1M153.6 270.7h1M146.1 311.5h1M146.0 268.4h1M147.6 294.2h1M158.6 273.9h1M159.7 290.2h1M146.7 277.7h1M153.8 288.6h1M150.9 283.2h1M151.9 264.2h1M165.8 272.8h1M152.8 285.1h1M147.5 273.5h1M169.2 278.6h1M156.9 290.0h1M146.6 264.2h1M147.2 310.1h1M153.5 291.5h1M145.6 292.0h1M153.0 290.9h1M157.6 293.2h1M163.5 296.9h1M150.7 273.3h1M144.6 261.6h1M145.2 272.3h1M148.1 291.2h1M156.1 286.3h1M145.8 265.4h1M149.7 287.3h1M147.3 302.6h1M152.5 272.5h1M164.9 261.4h1M155.5 269.7h1M161.1 306.8h1M151.3 296.6h1M149.7 263.2h1M159.9 279.3h1M146.0 268.5h1M155.1 265.7h1M144.9 265.2h1M145.2 303.4h1M160.5 299.4h1M148.2 278.4h1M150.2 271.4h1M148.1 299.6h1M153.1 275.8h1M153.0 270.1h1M154.2 303.1h1M173.7 287.5h1M148.8 266.5h1M159.9 266.6h1M150.4 274.4h1M157.9 280.9h1M162.9 310.5h1M150.6 276.0h1M169.0 262.8h1M146.7 277.1h1M156.7 299.6h1M157.5 287.6h1M149.0 285.8h1M146.9 265.8h1M145.8 274.6h1M145.1 273.7h1M148.3 281.0h1M157.5 262.3h1M148.2 277.7h1M148.7 277.2h1M153.2 285.3h1M169.8 282.5h1M149.8 279.5h1M159.1 269.7h1M152.6 249.3h1M163.2 262.4h1M146.8 289.6h1M150.2 285.0h1M159.2 277.0h1M149.4 241.9h1M157.2 288.2h1M147.2 287.6h1M175.2 295.2h1M153.2 270.9h1M145.1 277.4h1M144.6 289.0h1M155.6 301.8h1M148.8 266.2h1M148.1 270.6h1M151.0 266.0h1M145.1 248.6h1M145.3 290.7h1M148.6 287.2h1M147.7 249.6h1M144.7 258.0h1M144.6 295.5h1M144.6 261.5h1M150.1 274.6h1M153.5 270.3h1M147.5 285.2h1M154.1 270.1h1M149.8 297.1h1M153.9 258.9h1M144.6 256.0h1M160.4 253.0h1M153.4 282.0h1M122.1 290.7h1M113.8 290.5h1M123.0 291.9h1M121.0 287.0h1M117.4 301.0h1M121.3 291.4h1M118.5 290.2h1M115.7 297.1h1M119.6 311.9h1M119.6 307.3h1M123.1 293.4h1M122.4 306.0h1M119.8 293.1h1M118.6 301.3h1M121.9 298.2h1M118.6 286.8h1M113.2 314.9h1M118.2 303.4h1M123.7 290.2h1M122.6 291.8h1M117.8 310.8h1M119.1 311.2h1M119.9 297.7h1M117.6 312.7h1M116.4 312.3h1M120.7 296.9h1M120.1 312.9h1M121.7 297.9h1M119.1 300.4h1M123.1 291.1h1M121.5 311.2h1M122.3 305.4h1M121.1 295.3h1M121.9 289.1h1M115.4 307.1h1M113.7 291.5h1M122.6 297.3h1M121.0 290.8h1M120.5 304.2h1M122.9 298.8h1M115.2 286.6h1M122.0 291.2h1M116.5 315.5h1M121.2 313.5h1M119.0 308.8h1" stroke="#000" stroke-width="1" fill="none"/>
<path d="M411.4 117.7h1M416.0 102.5h1M414.8 80.8h1M412.7 57.2h1M415.3 118.2h1M417.0 108.9h1M407.9 87.7h1M412.7 74.4h1M412.0 68.8h1M407.7 92.8h1M411.8 98.4h1M416.3 99.5h1M415.6 96.1h1M409.1 92.5h1M412.0 79.7h1M400.9 92.0h1M412.8 99.6h1M410.2 98.5h1M414.2 100.5h1M410.9 101.1h1M411.7 78.4h1M411.5 90.0h1M409.8 117.3h1M412.8 75.7h1M408.5 74.1h1M414.4 65.2h1M405.2 99.1h1M412.0 95.3h1M410.2 103.4h1M415.2 114.9h1M417.4 103.4h1M417.6 97.1h1M413.2 70.0h1M414.2 98.6h1M410.4 55.5h1M412.5 101.9h1M417.4 102.8h1M414.8 70.7h1M411.1 73.1h1M413.3 112.1h1M411.4 98.8h1M418.2 109.2h1M417.9 85.5h1M419.1 90.8h1M415.7 95.0h1M412.6 81.3h1M406.9 77.2h1M411.1 81.7h1M410.0 101.5h1M411.9 106.7h1M416.4 94.7h1M414.9 113.4h1M415.3 119.0h1M414.6 123.2h1M412.7 88.2h1M416.2 105.1h1M412.4 92.9h1M412.9 62.6h1M414.1 108.6h1M416.3 116.7h1M415.4 69.2h1M412.1 104.9h1M410.7 100.5h1M412.8 77.2h1M409.0 78.9h1M418.7 106.7h1M412.7 114.5h1M409.8 74.5h1M410.2 71.6h1M415.3 86.8h1M415.3 113.2h1M410.2 109.8h1M415.0 75.5h1M412.4 112.4h1M414.6 84.4h1M413.7 101.6h1M414.8 81.5h1M414.4 95.5h1M406.3 104.0h1M415.4 94.9h1M408.6 81.4h1M412.3 91.8h1M409.5 103.6h1M408.5 86.2h1M414.4 82.6h1M418.1 93.8h1M415.1 69.5h1M411.1 91.4h1M414.2 99.9h1M415.5 79.6h1M410.4 108.2h1M411.2 100.8h1M414.9 98.9h1M410.7 55.7h1M412.7 61.2h1M412.4 89.1h1M407.7 96.2h1M410.5 95.2h1M414.9 97.0h1M414.3 80.1h1M411.2 61.8h1M409.3 87.0h1M416.6 101.6h1M414.4 71.5h1M417.9 98.3h1M415.5 72.7h1M412.4 119.4h1M414.0 105.6h1M416.1 99.3h1M414.3 95.4h1M414.3 87.7h1M412.4 71.3h1M410.2 62.0h1M413.7 88.3h1M413.5 99.7h1M406.2 74.1h1M410.5 83.3h1M413.3 122.6h1M410.2 101.9h1M412.6 107.3h1M412.2 111.0h1M418.5 104.4h1M418.0 102.2h1M415.5 100.6h1M413.9 82.6h1M413.7 93.2h1M407.7 115.2h1M412.8 83.5h1M416.2 113.8h1M417.6 113.8h1M415.3 93.4h1M411.6 84.3h1M417.1 97.8h1M410.8 66.5h1M410.7 96.2h1M407.6 98.1h1M412.3 57.3h1M419.1 90.7h1M407.7 66.2h1M412.8 62.8h1M417.3 103.4h1M413.0 81.7h1M414.2 117.3h1M412.4 73.4h1M415.3 80.8h1M406.5 66.8h1M413.7 98.5h1M412.6 97.0h1M417.0 86.7h1M414.6 116.4h1M411.5 58.0h1M408.8 67.4h1M412.3 111.5h1M414.1 99.5h1M414.6 73.9h1M415.1 85.5h1M414.9 102.4h1M413.6 91.3h1M414.9 93.4h1M412.4 99.1h1M415.7 99.3h1M403.4 83.3h1M412.6 113.0h1M413.3 97.3h1M410.2 115.1h1M412.7 102.2h1M415.6 111.9h1M413.7 69.8h1M413.9 80.5h1M414.1 110.4h1M406.7 72.3h1M410.5 83.3h1M413.6 94.0h1M411.1 63.6h1M411.3 73.9h1M413.5 70.9h1M411.0 100.5h1M415.0 111.3h1M408.7 92.0h1M414.1 119.3h1M412.0 74.2h1M414.7 82.4h1M411.7 86.4h1M409.1 105.5h1M412.9 95.9h1M415.7 106.4h1M409.5 113.9h1M415.2 106.8h1M415.1 100.7h1M408.5 79.3h1M417.9 76.0h1M413.1 101.8h1M413.5 97.6h1M416.0 79.3h1M417.4 98.6h1M412.9 108.5h1M409.4 108.5h1M413.3 86.3h1M408.9 95.5h1M414.1 119.0h1M412.2 103.7h1M411.8 105.9h1M413.5 119.8h1M411.8 62.5h1M410.2 80.8h1M413.6 72.8h1M412.8 55.1h1M409.3 74.7h1M411.5 93.3h1M412.9 80.2h1M414.6 109.2h1M412.7 100.0h1M415.7 80.5h1M409.4 77.5h1M406.9 107.5h1M414.1 115.8h1M418.2 103.8h1M411.0 117.0h1M417.3 113.4h1M411.0 61.4h1M412.8 88.8h1M413.8 105.9h1M412.8 70.6h1M408.0 96.4h1M417.8 103.0h1M407.6 103.3h1M415.5 114.8h1M414.3 91.7h1M411.8 85.8h1M414.3 86.1h1M414.3 57.6h1M406.6 76.8h1M409.3 93.5h1M407.0 110.7h1M418.3 95.5h1M415.0 84.9h1M419.2 92.7h1M413.1 81.7h1M410.6 82.4h1M406.0 103.3h1M406.8 93.1h1M415.6 88.5h1M405.9 83.2h1M414.1 119.6h1M411.4 66.2h1M414.3 77.7h1M410.8 75.6h1M412.1 73.2h1M410.5 115.5h1M411.8 83.1h1M410.0 68.2h1M410.0 89.6h1M408.8 94.7h1M414.0 84.4h1M415.3 93.3h1M412.0 101.2h1M414.5 96.4h1M414.0 107.2h1M412.6 114.2h1M415.3 85.4h1M415.4 113.1h1M412.5 104.4h1M411.1 79.9h1M413.8 94.3h1M413.2 75.4h1M412.8 111.5h1M413.4 101.4h1M407.4 82.1h1M410.1 113.6h1M413.6 97.5h1M408.7 86.3h1M413.9 95.7h1M409.7 104.4h1M415.1 79.5h1M416.9 76.8h1M414.7 105.8h1M411.3 113.3h1M413.5 106.6h1M416.6 96.4h1M416.9 99.5h1M414.5 118.6h1M416.2 83.8h1M413.6 89.9h1M412.8 110.1h1M411.0 56.8h1M407.2 108.7h1M411.9 109.8h1M410.8 87.6h1M416.9 96.5h1M410.3 109.0h1M407.0 78.1h1M419.8 112.7h1M407.3 89.5h1M414.8 112.2h1M413.5 94.0h1M409.1 56.6h1M412.2 72.6h1M412.8 78.4h1M411.6 117.6h1M412.6 56.4h1M406.9 106.6h1M411.0 71.3h1M412.8 99.3h1M410.5 80.8h1M411.1 107.1h1M413.0 110.4h1M408.6 66.6h1M415.1 112.0h1M411.8 84.0h1M415.8 79.3h1M415.4 118.8h1M408.7 94.7h1M416.4 61.5h1M416.7 69.8h1M407.7 85.7h1M404.9 86.4h1M409.4 79.1h1M410.0 117.4h1M411.5 100.0h1M415.0 66.1h1M412.3 99.1h1M413.7 102.9h1M415.6 74.8h1M416.5 89.5h1M419.9 84.9h1M412.2 79.3h1M413.4 90.8h1M415.2 85.2h1M412.8 61.0h1M413.3 83.7h1M412.0 116.4h1M410.0 72.4h1M416.0 113.0h1M410.9 65.6h1M414.8 106.8h1M411.3 61.9h1M416.7 79.5h1M409.0 85.4h1M414.0 124.3h1M413.3 71.8h1M416.7 72.8h1M413.9 92.2h1M407.3 99.3h1M413.1 72.6h1M413.9 112.7h1M407.8 108.9h1M407.6 94.3h1M415.4 90.4h1M411.6 107.7h1M413.0 77.1h1M413.4 105.4h1M414.0 82.2h1M413.3 107.6h1M414.5 72.7h1M406.5 90.8h1M414.4 114.5h1M414.5 103.6h1M416.7 116.9h1M402.0 79.6h1M411.5 99.4h1M414.4 70.1h1M418.3 91.5h1M399.3 101.4h1M405.9 101.1h1M416.5 102.0h1M412.9 94.1h1M413.4 120.2h1M415.2 88.2h1M409.3 105.3h1M412.8 98.9h1M411.6 75.8h1M415.5 106.2h1M414.3 91.2h1M410.2 101.5h1M410.0 84.7h1M411.3 89.0h1M414.3 94.2h1M407.8 85.7h1M414.6 59.2h1M415.8 120.1h1M414.7 71.3h1M406.2 91.0h1M412.2 96.0h1M409.5 80.0h1M414.9 89.8h1M405.7 80.3h1M413.0 99.5h1M410.7 110.7h1M416.0 72.5h1M413.5 70.0h1M407.5 77.9h1M414.4 77.7h1M413.7 88.5h1M407.9 84.0h1M410.0 103.9h1M413.5 95.5h1M410.9 60.5h1M417.0 92.7h1M410.2 110.1h1M412.6 78.7h1M413.5 103.4h1M416.5 101.8h1M415.3 92.2h1M411.2 75.8h1M418.5 92.7h1M415.5 90.3h1M411.8 114.6h1M415.7 94.0h1M412.3 97.4h1M409.3 87.6h1M415.3 77.7h1M413.1 91.4h1M405.9 74.9h1M410.2 103.3h1M414.8 118.6h1M415.2 105.2h1M418.4 113.6h1M408.3 89.3h1M414.4 120.8h1M412.7 65.1h1M410.8 93.8h1M410.9 70.6h1M412.2 78.5h1M418.2 91.7h1M413.3 115.8h1M417.1 67.4h1M414.7 97.0h1M409.1 60.4h1M411.3 102.6h1M421.0 87.8h1M412.2 114.5h1M420.3 78.6h1M411.7 107.9h1M410.6 92.0h1M413.2 96.3h1M411.7 87.5h1M414.3 101.2h1M412.4 72.6h1M413.7 76.3h1M413.5 102.7h1M407.4 104.3h1M414.3 82.5h1M404.7 91.2h1M413.5 86.9h1M408.3 91.2h1M411.0 111.1h1M414.3 62.6h1M415.6 86.5h1M410.5 74.3h1M412.2 85.2h1M408.4 72.2h1M414.1 76.6h1M408.9 77.9h1M417.4 98.0h1M411.8 111.5h1M414.9 103.5h1M405.8 106.4h1M415.0 109.3h1M410.9 115.3h1M411.1 64.7h1M409.8 66.2h1M414.2 61.1h1M416.7 85.3h1M412.5 104.6h1M408.1 109.8h1M413.7 57.4h1M415.0 104.0h1M414.1 88.4h1M414.9 110.6h1M412.9 116.5h1M414.3 107.6h1M413.2 86.5h1M410.2 91.1h1M412.1 89.8h1M405.6 88.1h1M417.2 98.0h1M411.1 61.2h1M412.6 64.5h1M408.0 106.2h1M412.4 83.6h1M413.6 80.2h1M415.4 84.0h1M412.5 68.4h1M414.2 87.2h1M414.8 98.0h1M409.1 76.0h1M409.2 108.2h1M409.5 93.8h1M406.2 95.7h1M408.1 99.1h1M416.3 92.6h1M414.3 73.9h1M416.8 93.9h1M414.2 108.6h1M413.8 74.9h1M413.7 56.7h1M413.3 81.2h1M412.3 109.2h1M412.7 50.4h1M408.6 68.7h1M413.2 101.2h1M413.1 86.6h1M408.8 72.4h1M416.1 90.9h1M409.9 77.2h1M418.4 106.8h1M412.4 118.9h1M406.2 95.4h1M406.6 98.8h1M414.3 109.5h1M413.0 55.5h1M418.3 84.1h1M413.3 108.3h1M416.1 105.0h1M414.9 61.9h1M416.5 104.6h1M413.4 105.0h1M410.7 84.9h1M409.6 84.7h1M415.0 88.7h1M416.9 100.6h1M413.2 91.3h1M407.8 67.2h1M412.7 100.3h1M410.9 66.9h1M410.1 106.2h1M413.0 87.9h1M414.0 93.5h1M417.6 97.9h1M411.6 106.8h1M414.2 72.4h1M412.0 98.0h1M408.9 86.0h1M414.1 115.3h1M415.7 84.9h1M413.5 62.7h1M415.4 99.0h1M412.9 82.1h1M420.7 93.6h1M412.3 87.5h1M407.4 91.1h1M415.2 98.7h1M411.8 104.7h1M407.0 87.9h1M412.0 81.0h1M413.0 69.8h1M410.7 90.3h1M407.3 78.8h1M409.9 91.7h1M410.9 96.8h1M412.5 89.5h1M414.2 86.3h1M409.2 99.5h1M409.9 112.0h1M414.3 83.9h1M411.0 95.2h1M410.4 87.8h1M417.2 96.1h1M416.4 100.8h1M416.4 85.9h1M406.5 106.7h1M406.6 95.1h1M413.1 101.9h1M412.9 61.4h1M413.8 58.8h1M411.7 106.0h1M408.6 108.2h1M418.3 91.8h1M408.2 90.6h1M409.3 99.7h1M414.6 100.5h1M414.4 92.9h1M409.2 90.7h1M406.7 74.8h1M412.8 78.3h1M408.8 109.9h1M417.4 83.6h1M415.2 80.5h1M414.6 101.4h1M412.3 52.7h1M410.7 115.5h1M412.2 106.2h1M413.9 100.5h1M410.8 101.5h1M412.0 121.6h1M412.1 111.8h1M414.5 115.8h1M409.4 99.2h1M409.5 83.1h1M411.5 59.0h1M414.5 93.5h1M415.1 97.4h1M413.8 81.9h1M416.2 116.2h1M413.7 79.4h1M415.7 76.3h1M414.9 103.3h1M412.1 109.0h1M413.6 57.7h1M414.4 103.7h1M415.0 63.7h1M412.5 77.3h1M414.2 115.4h1M413.3 117.9h1M414.4 110.1h1M414.9 115.7h1M413.0 117.8h1M417.8 70.6h1M415.4 85.0h1M410.9 72.2h1M407.5 109.4h1M417.7 71.5h1M414.8 89.7h1M410.7 85.6h1M413.7 95.7h1M415.3 93.6h1M407.9 70.4h1M413.3 89.8h1M419.3 80.7h1M409.2 100.4h1M403.8 104.7h1M414.5 102.7h1M412.1 103.9h1M414.8 114.1h1M411.3 91.1h1M407.5 84.6h1M416.3 91.0h1M414.0 122.0h1M410.4 81.2h1M410.8 109.1h1M413.3 53.3h1M411.1 82.6h1M408.5 86.1h1M412.0 108.4h1M412.2 73.9h1M413.6 97.2h1M415.2 78.8h1M411.8 109.2h1M414.2 87.2h1M418.7 84.8h1M407.9 84.5h1M412.7 70.4h1M416.7 102.2h1M410.9 112.2h1M415.5 78.5h1M414.8 74.4h1M415.0 87.5h1M402.7 74.6h1M411.0 70.9h1M414.1 111.4h1M414.9 106.3h1M411.6 108.0h1M412.5 109.3h1M416.8 109.9h1M406.1 65.8h1M414.1 102.0h1M411.1 113.8h1M418.5 101.3h1M411.5 99.9h1M416.1 72.1h1M411.3 89.7h1M413.4 98.0h1M411.8 65.6h1M415.6 105.6h1M409.7 95.0h1M414.0 66.5h1M412.7 114.8h1M412.3 101.9h1M414.9 105.5h1M418.7 82.3h1M417.6 97.8h1M407.8 96.4h1M413.2 68.6h1M416.1 100.8h1M406.8 103.7h1M415.0 69.6h1M412.2 99.6h1M410.4 111.3h1M415.2 63.1h1M417.3 115.5h1M415.4 96.2h1M405.8 98.6h1M416.1 102.2h1M409.4 76.6h1M412.4 61.8h1M409.8 79.8h1M416.6 102.9h1M418.5 90.8h1M413.3 113.3h1M413.3 109.2h1M405.7 95.6h1M410.1 85.5h1M413.7 88.9h1M413.7 86.2h1M413.0 83.6h1M403.8 96.6h1M407.7 75.7h1M410.6 89.3h1M407.4 104.8h1M413.8 84.4h1M412.3 89.5h1M408.2 66.3h1M414.7 108.5h1M412.5 105.1h1M414.5 64.8h1M405.5 89.5h1M415.3 102.2h1M415.3 118.6h1M404.9 73.3h1M409.6 72.8h1M410.3 86.2h1M410.6 98.6h1M415.7 59.8h1M418.9 90.5h1M415.2 113.4h1M413.8 83.1h1M406.8 78.7h1M414.1 115.8h1M407.2 89.2h1M408.3 83.7h1M408.7 108.8h1M411.8 117.6h1M409.3 84.7h1M410.2 103.4h1M412.2 123.2h1M415.0 97.3h1M416.8 87.7h1M414.4 92.8h1M415.5 90.0h1M411.3 81.2h1M414.3 114.6h1M406.6 95.6h1M413.9 81.0h1M418.4 87.2h1M410.4 75.0h1M415.6 111.7h1M414.3 97.9h1M417.6 115.1h1M416.2 92.9h1M409.3 88.0h1M409.9 97.5h1M416.2 83.6h1M412.5 76.1h1M412.1 68.8h1M412.4 110.3h1M408.4 70.8h1M415.7 88.6h1M415.3 81.2h1M412.5 83.0h1M401.5 76.6h1M411.6 52.1h1M415.4 85.9h1M412.1 104.2h1M414.4 71.3h1M416.5 59.6h1M412.6 77.0h1M416.6 100.8h1M414.3 107.7h1M406.7 105.7h1M413.1 85.7h1M413.7 91.8h1M407.7 104.3h1M408.5 98.6h1M408.4 108.4h1M410.2 94.6h1M416.1 87.4h1M414.2 60.8h1M414.3 76.9h1M415.2 106.2h1M414.6 100.7h1M414.4 73.7h1M416.8 95.9h1M411.1 95.9h1M414.0 88.4h1M420.0 106.8h1M417.3 87.9h1M411.8 96.1h1M413.3 76.2h1M416.4 91.9h1M413.4 122.1h1M401.1 93.6h1M411.5 106.5h1M412.7 88.7h1M413.9 83.9h1M412.5 107.8h1M417.5 91.3h1M421.1 104.5h1M418.3 83.8h1M408.7 106.7h1M408.0 81.5h1M409.7 96.2h1M412.9 117.1h1M412.6 59.3h1M413.0 118.6h1M406.9 79.6h1M412.3 90.2h1M415.4 116.7h1M405.4 102.0h1M409.0 99.9h1M415.2 92.9h1M409.5 99.0h1M416.8 85.3h1M412.9 72.9h1M412.7 92.1h1M407.7 85.0h1M412.3 112.6h1M410.2 60.7h1M414.1 92.1h1M413.0 97.0h1M415.6 101.4h1M414.1 112.2h1M403.9 96.2h1M416.1 102.3h1M412.3 112.3h1M414.5 76.1h1M413.3 101.3h1M408.6 80.6h1M408.5 97.9h1M417.2 68.9h1M416.5 92.8h1M408.3 109.9h1M416.8 99.6h1M415.6 108.5h1M403.1 88.5h1M414.9 107.0h1M409.6 86.3h1M415.6 85.6h1M411.6 81.5h1M410.2 87.1h1M409.1 97.9h1M411.0 73.1h1M413.4 110.6h1M413.1 83.1h1M414.6 55.5h1M412.2 106.5h1M411.5 64.4h1M408.1 77.3h1M411.9 103.2h1M414.7 84.7h1M418.6 89.6h1M408.1 103.0h1M415.0 76.4h1M407.9 91.1h1M409.8 103.9h1M410.9 92.1h1M409.4 106.7h1M413.7 77.1h1M416.4 107.5h1M413.0 78.8h1M411.6 72.7h1M409.0 80.9h1M415.9 103.1h1M412.6 116.6h1M414.3 95.8h1M410.8 88.7h1M412.2 85.9h1M405.8 67.4h1M414.3 92.7h1M415.5 109.2h1M411.2 52.5h1M413.5 115.2h1M411.1 64.9h1M407.5 95.4h1M412.5 63.9h1M415.8 109.7h1M413.1 85.0h1M412.4 85.9h1M410.7 106.5h1M413.8 83.8h1M411.8 101.7h1M414.1 90.5h1M407.3 77.8h1M413.2 103.3h1M409.5 94.1h1M413.4 90.5h1M413.0 95.5h1M412.2 80.3h1M408.7 82.6h1M407.1 92.4h1M413.8 91.8h1M412.8 92.7h1M408.9 97.3h1M407.4 69.5h1M418.1 76.4h1M414.1 77.1h1M413.7 117.9h1M413.6 93.2h1M417.4 116.2h1M414.0 101.7h1M412.8 108.9h1M417.8 104.0h1M407.4 82.8h1M413.3 87.0h1M412.6 56.1h1M415.1 105.8h1M414.3 98.0h1M412.1 97.5h1M418.0 102.3h1M409.7 94.8h1M413.8 104.6h1M415.1 93.4h1M408.5 69.1h1M413.2 80.8h1M408.7 110.7h1M406.1 99.1h1M413.5 94.3h1M411.6 63.2h1M414.1 65.8h1M414.8 102.3h1M413.1 81.4h1M408.1 62.5h1M408.8 98.2h1M418.0 87.8h1M405.6 80.5h1M409.0 92.1h1M414.2 111.8h1M410.4 91.1h1M414.9 94.0h1M413.8 89.3h1M413.9 66.9h1M412.9 70.0h1M412.1 93.5h1M413.6 112.4h1M414.0 121.1h1M405.5 95.8h1M414.5 69.0h1M414.2 98.9h1M410.7 61.9h1M410.6 101.9h1M411.4 73.7h1M405.1 97.0h1M411.6 117.8h1M414.3 75.9h1M415.0 104.8h1M414.0 109.8h1M414.0 69.6h1M410.7 88.2h1M413.8 85.4h1M416.4 103.7h1M411.0 71.3h1M414.0 79.3h1M414.1 124.0h1M408.4 62.5h1M414.6 114.9h1M403.1 98.7h1M405.6 79.9h1M413.2 66.6h1M408.0 80.2h1M417.8 85.8h1M414.5 91.6h1M416.3 104.6h1M414.1 65.6h1M417.6 109.1h1M409.4 62.5h1M412.6 93.8h1M415.4 105.7h1M412.4 93.3h1M412.3 85.2h1M409.4 107.8h1M411.9 122.4h1M407.0 89.1h1M404.9 86.9h1M411.2 76.2h1M411.5 86.4h1M407.7 85.4h1M416.7 93.6h1M413.9 82.0h1M407.1 72.1h1M414.1 109.5h1M405.7 103.5h1M414.7 68.5h1M411.9 80.9h1M413.3 91.1h1M417.8 84.8h1M413.7 63.5h1M414.3 102.4h1M413.7 108.3h1M411.7 102.9h1M414.1 109.3h1M415.0 93.1h1M412.7 72.1h1M414.4 95.9h1M420.3 86.5h1M416.9 90.4h1M411.6 83.6h1M414.5 93.3h1M409.3 90.4h1M406.7 102.8h1M409.3 88.8h1M411.0 104.3h1M410.8 113.7h1M410.6 108.8h1M411.6 104.2h1M410.3 89.0h1M411.2 62.0h1M416.0 64.9h1M411.1 108.6h1M411.3 108.2h1M412.6 96.9h1M416.1 106.0h1M412.8 81.5h1M412.7 106.4h1M416.4 107.7h1M413.7 110.4h1M411.5 98.4h1M415.0 76.7h1M416.6 92.4h1M409.2 63.8h1M412.6 73.2h1M417.5 98.3h1M408.4 74.9h1M412.4 89.3h1M415.9 70.9h1M413.7 109.7h1M406.8 98.0h1M409.3 97.3h1M406.5 83.0h1M413.8 92.3h1M414.9 99.9h1M409.8 105.7h1M418.5 96.4h1M410.0 92.5h1M410.5 89.5h1M416.7 85.6h1M421.3 93.3h1M411.1 97.3h1M415.7 112.4h1M410.0 103.2h1M409.8 73.3h1M417.4 78.2h1M409.5 112.9h1M412.6 66.6h1M413.4 82.2h1M413.7 113.3h1M414.3 79.3h1M413.4 56.7h1M415.4 83.4h1M413.8 88.9h1M417.2 79.9h1M413.6 93.4h1M411.0 63.4h1M416.7 72.6h1M412.7 59.0h1M413.3 109.5h1M408.5 106.8h1M413.9 112.2h1M410.6 82.0h1M414.9 100.4h1M418.4 74.1h1M417.1 83.2h1M406.4 82.2h1M414.8 109.4h1M417.1 88.6h1M409.7 116.3h1M417.0 112.0h1M413.8 94.5h1M415.1 114.2h1M409.9 87.0h1M414.2 112.8h1M412.7 102.5h1M417.1 113.2h1M412.9 73.0h1M413.7 113.1h1M411.3 96.1h1M408.4 80.9h1M416.7 75.8h1M413.4 60.1h1M414.2 120.8h1M414.3 97.2h1M411.8 108.5h1M414.5 117.1h1M405.9 97.0h1M415.9 89.6h1M415.6 110.5h1M413.6 91.1h1M415.2 93.5h1M410.1 105.3h1M410.1 92.6h1M405.6 73.0h1M407.1 106.5h1M402.7 90.7h1M413.3 105.5h1M413.3 80.4h1M410.1 109.3h1M406.2 86.0h1M414.9 74.5h1M415.9 105.7h1M412.6 63.4h1M411.7 107.1h1M404.5 85.3h1M419.4 86.1h1M409.9 100.1h1M413.8 98.2h1M412.0 88.7h1M415.2 92.3h1M412.8 72.5h1M413.7 121.4h1M417.2 75.7h1M406.3 93.4h1M406.7 92.1h1M414.4 87.2h1M418.1 88.4h1M412.6 89.3h1M413.1 81.5h1M416.5 64.7h1M408.7 68.7h1M409.8 75.5h1M414.1 98.3h1M416.9 109.4h1M410.2 69.2h1M417.4 75.2h1M411.1 57.4h1M414.8 90.3h1M415.8 101.1h1M411.3 78.8h1M414.2 102.9h1M418.2 93.0h1M415.3 70.6h1M412.4 64.3h1M417.9 88.0h1M414.5 114.2h1M412.1 104.4h1M407.2 68.8h1M407.4 89.2h1M410.4 84.4h1M414.3 117.9h1M412.7 114.0h1M413.4 89.7h1M413.3 68.5h1M415.9 89.1h1M414.6 105.1h1M416.4 74.2h1M417.5 106.8h1M417.4 84.5h1M413.0 88.3h1M407.6 73.2h1M416.9 110.8h1M414.4 82.6h1M416.3 93.5h1M411.4 79.2h1M406.2 91.9h1M415.8 119.7h1M416.6 95.5h1M411.2 58.1h1M413.5 81.5h1M414.4 79.0h1M413.8 107.5h1M415.7 68.0h1M407.3 87.4h1M410.7 93.5h1M419.2 93.6h1M412.8 75.9h1M413.9 106.6h1M414.8 74.3h1M417.1 117.1h1M407.7 86.7h1M413.4 116.2h1M412.8 72.4h1M412.3 65.2h1M411.5 81.0h1M420.0 101.6h1M414.6 96.7h1M414.2 69.5h1M414.0 66.8h1M407.8 79.0h1M419.1 86.7h1M409.2 83.6h1M409.1 112.7h1M410.1 56.9h1M411.4 98.1h1M407.2 87.2h1M415.5 101.1h1M416.3 118.2h1M417.2 110.5h1M413.0 74.3h1M415.4 73.8h1M415.0 116.2h1M413.6 84.3h1M414.4 90.8h1M410.4 113.5h1M416.1 107.6h1M413.9 102.1h1M408.9 110.8h1M413.4 113.9h1M413.4 113.2h1M407.6 104.4h1M413.2 81.8h1M414.3 87.1h1M413.9 107.1h1M414.9 95.2h1M413.5 108.1h1M410.9 91.1h1M411.1 96.2h1M407.5 108.1h1M415.0 64.5h1M414.5 82.4h1M411.6 72.7h1M413.9 88.4h1M408.5 97.1h1M412.9 83.7h1M415.1 96.3h1M413.9 71.8h1M413.0 115.6h1M403.2 81.2h1M410.8 96.6h1M414.2 75.8h1M411.8 87.9h1M410.1 73.0h1M415.8 111.0h1M414.5 100.6h1M414.4 102.3h1M412.2 58.3h1M409.7 108.3h1M413.8 67.6h1M413.0 98.8h1M416.3 94.3h1M412.6 101.3h1M411.9 97.6h1M414.2 107.2h1M416.3 97.2h1M410.6 92.9h1M405.5 99.9h1M412.6 102.6h1M405.6 83.6h1M413.6 104.5h1M413.5 96.5h1M415.8 106.8h1M416.6 89.5h1M413.9 107.8h1M419.7 85.2h1M414.0 62.1h1M411.4 75.2h1M413.2 66.8h1M414.9 101.1h1M414.4 75.1h1M415.4 78.0h1M417.0 86.3h1M415.5 87.6h1M415.0 118.8h1M409.3 68.9h1M409.7 87.7h1M415.9 120.1h1M417.7 68.8h1M408.7 106.7h1M412.9 105.8h1M415.1 115.7h1M418.3 86.0h1M410.8 84.5h1M406.1 93.2h1M406.5 87.5h1M415.6 98.3h1M414.4 91.6h1M404.0 101.3h1M412.5 69.3h1M417.9 94.7h1M420.5 93.7h1M412.6 54.8h1M415.0 112.1h1M413.4 73.6h1M415.9 117.7h1M413.5 62.3h1M414.6 106.5h1M413.6 77.2h1M412.8 85.6h1M413.8 116.5h1M410.7 86.2h1M414.4 75.9h1M409.1 101.4h1M409.8 110.7h1M401.1 85.5h1M418.8 76.0h1M414.2 83.5h1M408.0 111.1h1M415.5 94.5h1M411.7 81.3h1M405.2 96.7h1M415.4 79.1h1M408.4 85.1h1M408.6 62.3h1M415.0 117.3h1M417.6 85.4h1M413.1 99.4h1M409.4 86.5h1M412.9 66.4h1M412.9 117.0h1M417.0 78.5h1M413.1 82.1h1M416.7 119.0h1M410.5 89.9h1M413.7 105.1h1M414.8 95.2h1M413.0 119.6h1M413.8 62.8h1M416.6 100.2h1M411.8 94.7h1M410.5 76.5h1M407.8 61.7h1M412.2 107.6h1M415.1 80.2h1M412.6 111.9h1M408.1 89.4h1M412.7 102.4h1M411.9 68.4h1M412.0 85.8h1M413.0 88.5h1M413.2 67.7h1M409.5 66.2h1M414.3 70.9h1M410.1 106.5h1M415.0 87.5h1M414.2 102.4h1M416.2 78.7h1M413.7 107.7h1M407.9 82.4h1M415.2 104.5h1M413.7 104.0h1M411.3 105.9h1M414.1 108.7h1M403.9 95.0h1M413.7 80.5h1M413.4 68.2h1M413.5 94.1h1M407.6 110.9h1M416.6 105.7h1M413.7 90.4h1M411.0 75.6h1M415.4 82.4h1M407.3 72.4h1M415.0 85.9h1M418.6 86.9h1M413.2 103.2h1M415.7 87.6h1M410.1 91.4h1M414.2 75.7h1M407.4 85.3h1M415.5 117.4h1M416.7 97.9h1M414.2 103.1h1M415.8 97.9h1M413.7 63.7h1M416.8 73.6h1M413.2 93.5h1M413.7 73.9h1M408.1 79.9h1M412.3 115.7h1M413.6 102.2h1M409.2 66.2h1M407.5 71.1h1M413.3 73.4h1M416.1 109.2h1M415.8 94.0h1M413.7 91.0h1M413.4 95.5h1M418.9 94.9h1M408.9 80.7h1M417.0 107.2h1M412.5 106.2h1M412.1 97.1h1M408.2 103.0h1M415.7 96.6h1M416.9 107.7h1M411.6 77.2h1M408.5 73.8h1M410.4 101.2h1M415.2 97.1h1M415.0 82.6h1M409.8 73.6h1M415.5 73.2h1M417.7 96.6h1M407.0 101.4h1M411.6 118.0h1M415.5 93.9h1M416.5 96.7h1M408.8 99.8h1M411.6 67.5h1M409.6 63.7h1M417.8 113.7h1M408.4 56.9h1M405.1 73.3h1M412.3 93.4h1M412.1 106.3h1M414.5 97.9h1M419.5 100.3h1M411.5 76.5h1M416.7 104.3h1M414.4 119.6h1M413.7 58.4h1M408.0 90.4h1M412.3 99.4h1M415.8 108.0h1M415.6 97.3h1M420.1 99.2h1M416.5 99.5h1M412.3 106.1h1M406.9 100.4h1M414.0 98.1h1M408.7 80.7h1M414.8 96.9h1M410.2 98.9h1M411.0 82.9h1M407.2 110.5h1M416.2 114.5h1M414.2 111.8h1M410.6 51.5h1M410.0 58.1h1M414.0 113.5h1M407.2 106.3h1M415.5 85.0h1M408.3 103.5h1M413.2 82.2h1M411.8 101.7h1M412.2 73.8h1M407.2 96.0h1M410.2 82.6h1M419.3 95.2h1M409.2 102.9h1M412.3 60.5h1M415.7 100.5h1M415.4 87.0h1M415.7 81.2h1M408.9 57.7h1M412.5 100.6h1M412.5 64.3h1M414.7 88.1h1M411.5 117.8h1M408.2 101.4h1M412.8 72.3h1M415.3 113.7h1M412.1 112.8h1M410.6 100.6h1M413.0 92.4h1M415.6 88.4h1M407.6 89.8h1M413.7 68.7h1M413.4 101.7h1M413.2 92.4h1M414.8 61.7h1M408.2 104.9h1M416.2 82.1h1M406.2 77.7h1M414.6 84.7h1M415.2 99.5h1M409.6 101.6h1M409.1 80.2h1M412.8 62.2h1M409.7 102.7h1M413.6 88.6h1M412.9 81.0h1M413.8 67.2h1M411.8 67.5h1M409.5 84.0h1M410.5 94.1h1M414.7 90.2h1M416.5 95.6h1M416.0 78.2h1M408.6 84.0h1M410.1 102.4h1M412.0 89.9h1M412.7 111.5h1M417.2 91.1h1M416.3 103.9h1M415.1 67.6h1M410.4 89.0h1M413.5 90.7h1M414.3 93.6h1M415.4 81.3h1M405.3 89.5h1M417.1 113.9h1M415.7 102.2h1M414.9 81.6h1M414.8 105.9h1M409.0 72.2h1M417.8 109.4h1M410.3 70.4h1M412.8 62.3h1M403.1 88.0h1M413.2 118.9h1M416.3 63.5h1M409.0 70.7h1M414.4 83.9h1M411.1 61.3h1M414.2 108.0h1M413.9 92.1h1M414.0 116.8h1M413.1 70.0h1M413.5 68.6h1M408.6 104.7h1M409.5 71.4h1M407.7 82.1h1M412.9 103.1h1M420.6 88.9h1M415.9 118.3h1M416.8 83.6h1M404.7 92.4h1M411.8 101.3h1M415.5 85.2h1M416.0 118.2h1M410.9 114.2h1M413.7 65.3h1M406.2 92.6h1M414.6 117.0h1M408.9 72.5h1M403.8 79.2h1M408.5 81.1h1M410.0 56.1h1M414.0 95.3h1M413.9 103.3h1M410.2 77.3h1M412.6 117.0h1M416.2 98.9h1M405.6 96.1h1M412.6 85.6h1M417.7 86.3h1M412.8 94.3h1M412.9 113.2h1M411.8 103.6h1M412.8 94.6h1M409.6 67.8h1M416.4 84.1h1M413.2 107.1h1M410.3 80.1h1M409.2 82.3h1M415.5 106.6h1M414.8 102.6h1M413.8 66.1h1M409.8 76.2h1M412.6 118.4h1M412.5 106.9h1M416.3 79.5h1M413.0 112.7h1M413.0 88.0h1M410.4 64.9h1M413.2 72.5h1M412.9 81.5h1M407.0 101.0h1M406.0 101.9h1M409.5 90.1h1M407.5 84.8h1M416.1 101.0h1M410.7 78.7h1M420.1 99.7h1M417.2 76.4h1M411.5 91.7h1M409.2 106.9h1M414.5 100.0h1M411.6 81.0h1M408.8 72.7h1M406.9 69.8h1M417.4 103.0h1M415.5 84.1h1M407.9 85.8h1M409.0 81.3h1M414.3 103.6h1M418.1 75.7h1M410.9 115.2h1M404.5 103.5h1M417.4 118.5h1M413.7 81.4h1M412.6 94.5h1M414.9 112.2h1M415.9 97.3h1M413.1 77.6h1M407.1 86.3h1M406.7 90.5h1M411.0 91.6h1M408.7 92.0h1M415.5 91.6h1M415.7 96.8h1M411.4 102.2h1M413.8 94.6h1M406.6 79.8h1M413.6 74.5h1M409.6 64.5h1M415.9 116.0h1M410.1 79.5h1M414.3 102.8h1M412.9 101.6h1M409.3 92.6h1M409.6 76.0h1M414.3 103.2h1M413.9 115.0h1M413.9 88.7h1M408.3 66.0h1M410.9 71.3h1M410.3 96.1h1M415.7 80.2h1M406.8 101.4h1M416.9 94.5h1M415.2 102.1h1M408.8 79.4h1M406.6 72.5h1M411.6 70.1h1M410.0 87.9h1M412.8 66.6h1M411.6 61.5h1M411.1 64.2h1M415.2 117.6h1M411.1 53.4h1M417.4 99.9h1M414.7 115.0h1M415.0 60.5h1M416.3 97.6h1M415.4 99.8h1M412.8 65.9h1M410.2 69.9h1M411.3 107.8h1M414.7 91.8h1M415.6 96.9h1M408.9 110.8h1M406.0 91.1h1M419.2 93.2h1M411.8 67.1h1M408.0 92.4h1M413.3 93.1h1M406.7 96.2h1M410.4 93.9h1M408.2 79.4h1M417.4 100.9h1M415.4 88.6h1M413.0 90.7h1M416.6 63.6h1M416.1 100.5h1M414.7 108.9h1M414.4 104.6h1M416.3 107.3h1M409.6 92.7h1M413.6 80.1h1M407.0 88.5h1M416.5 89.6h1M414.4 75.7h1M413.8 102.9h1M411.7 73.1h1M413.6 107.9h1M410.6 105.1h1M414.0 97.4h1M409.9 75.0h1M413.5 92.4h1M411.6 88.0h1M416.4 106.9h1M416.7 112.2h1M416.8 103.0h1M413.2 93.9h1M402.5 90.5h1M404.2 62.8h1M414.0 99.1h1M404.5 108.7h1M410.1 103.4h1M411.2 106.9h1M409.5 71.8h1M400.0 96.7h1M412.7 77.9h1M410.9 93.5h1M413.0 112.5h1M412.4 97.4h1M409.7 70.6h1M409.9 66.1h1M408.2 96.7h1M411.1 67.6h1M409.9 62.7h1M411.3 63.7h1M405.1 90.1h1M410.4 73.2h1M417.9 87.5h1M413.1 66.1h1M417.4 81.6h1M419.5 114.5h1M421.1 93.1h1M414.2 117.1h1M409.9 113.3h1M414.8 99.1h1M411.0 86.1h1M415.0 95.0h1M415.9 96.2h1M414.8 105.5h1M411.4 118.9h1M412.5 66.0h1M415.9 83.3h1M411.4 95.8h1M415.2 88.6h1M413.9 55.7h1M414.2 91.5h1M403.9 83.9h1M405.2 101.5h1M406.5 88.2h1M417.6 94.3h1M414.4 61.1h1M411.2 89.2h1M415.0 106.2h1M413.4 107.6h1M415.9 90.2h1M414.2 66.5h1M410.4 71.7h1M409.4 69.7h1M408.4 107.7h1M417.7 92.7h1M409.9 101.1h1M412.9 77.8h1M414.0 72.7h1M407.8 67.6h1M410.9 70.6h1M416.0 95.5h1M405.7 80.3h1M408.9 98.1h1M413.9 123.2h1M410.5 88.2h1M413.8 73.5h1M415.4 115.5h1M418.1 89.3h1M410.7 88.3h1M409.7 97.0h1M411.0 100.8h1M415.8 97.2h1M409.9 99.7h1M411.1 72.7h1M413.5 111.4h1M415.4 84.5h1M414.9 109.7h1M409.6 103.6h1M418.8 114.5h1M411.5 101.1h1M409.3 83.5h1M414.2 91.9h1M415.9 100.2h1M405.9 84.4h1M414.7 121.7h1M414.1 99.3h1M411.7 101.3h1M409.2 90.6h1M411.0 97.8h1M417.3 89.9h1M407.2 111.9h1M415.0 83.2h1M414.2 107.3h1M412.5 98.8h1M414.2 80.0h1M411.9 91.0h1M418.0 78.6h1M413.6 106.1h1M413.9 111.3h1M410.9 72.2h1M413.1 54.5h1M416.3 87.7h1M413.1 111.6h1M411.7 113.7h1M412.1 95.7h1M412.4 72.9h1M408.2 91.6h1M409.4 100.3h1M413.5 65.4h1M412.0 97.9h1M413.1 105.2h1M409.3 102.8h1M413.5 104.5h1M415.6 110.2h1M412.7 103.3h1M410.8 64.1h1M413.5 87.6h1M412.3 90.0h1M413.3 58.0h1M408.7 85.8h1M413.7 114.2h1M416.1 88.6h1M417.5 106.9h1M409.0 92.2h1M406.6 105.2h1M408.4 70.9h1M413.5 63.0h1M414.0 80.2h1M410.8 87.0h1M408.0 95.8h1M411.7 93.5h1M410.0 90.7h1M408.4 104.0h1M409.9 68.2h1M415.5 117.7h1M413.8 114.8h1M414.2 88.1h1M415.8 65.9h1M412.4 81.0h1M412.5 81.0h1M413.7 107.4h1M412.9 105.2h1M412.1 100.4h1M415.8 95.1h1M415.3 100.9h1M412.4 102.3h1M414.1 90.3h1M415.1 95.1h1M412.3 51.4h1M414.5 90.9h1M407.8 89.6h1M409.5 88.2h1M414.6 105.8h1M418.1 109.8h1M410.1 68.3h1M407.6 73.4h1M414.9 82.5h1M415.0 89.8h1M413.2 65.8h1M412.7 62.1h1M416.9 98.2h1M411.6 102.8h1M414.7 90.2h1M410.6 89.0h1M411.5 110.7h1M415.6 91.2h1M412.2 94.2h1M410.0 107.4h1M409.9 113.5h1M411.0 97.2h1M412.3 76.9h1M415.5 77.1h1M416.0 83.9h1M414.8 116.0h1M414.2 114.5h1M413.3 84.4h1M412.6 92.6h1M416.5 96.7h1M410.5 105.2h1M412.0 115.5h1M414.1 105.4h1M415.4 94.1h1M412.9 92.4h1M412.6 83.8h1M411.8 109.1h1M412.2 92.7h1M410.5 89.6h1M414.8 79.1h1M411.0 87.0h1M415.6 112.2h1M414.1 82.5h1M403.8 64.3h1M412.9 81.8h1M415.4 104.3h1M410.8 111.0h1M414.3 85.3h1M414.6 73.7h1M413.8 101.1h1M415.3 102.7h1M411.0 100.6h1M412.4 57.3h1M406.5 96.3h1M414.2 69.7h1M412.4 119.5h1M413.7 99.5h1M413.6 92.6h1M414.8 114.8h1M416.2 91.7h1M416.3 81.7h1M412.5 57.7h1M413.2 109.5h1M408.6 99.2h1M414.8 72.5h1M415.5 69.2h1M414.6 89.7h1M414.1 103.0h1M414.0 103.9h1M414.1 78.3h1M410.5 87.8h1M416.3 115.9h1M412.0 80.6h1M414.6 112.8h1M409.3 103.2h1M413.2 102.4h1M408.4 88.2h1M402.1 76.1h1M416.1 84.6h1M412.1 92.9h1M411.2 99.4h1M409.8 86.5h1M412.0 117.1h1M412.3 96.3h1M411.7 87.7h1M414.1 114.1h1M415.7 114.5h1M411.3 118.9h1M414.8 77.2h1M407.9 76.0h1M417.6 90.9h1M412.3 100.9h1M413.0 93.6h1M414.1 115.0h1M415.7 108.3h1M417.5 92.8h1M412.6 59.0h1M413.2 70.2h1M414.7 80.4h1M410.6 91.0h1M413.0 59.0h1M413.6 104.9h1M411.8 75.3h1M399.5 87.1h1M407.9 99.5h1M413.9 106.8h1M417.2 107.2h1M414.0 117.8h1M412.4 73.2h1M415.3 107.9h1M414.9 92.9h1M411.9 103.0h1M409.9 91.8h1M415.5 83.9h1M416.8 112.7h1M414.9 87.3h1M411.4 108.8h1M413.7 113.6h1M415.2 81.0h1M415.6 108.6h1M410.4 73.6h1M415.4 85.0h1M410.4 54.9h1M414.8 87.1h1M412.4 73.8h1M415.8 95.9h1M412.5 67.5h1M417.0 74.7h1M413.2 57.4h1M418.0 80.2h1M410.7 84.1h1M413.2 101.0h1M407.9 98.3h1M414.2 107.8h1M412.8 80.1h1M400.6 94.7h1M413.5 120.1h1M416.6 75.0h1M414.9 79.5h1M416.2 104.4h1M409.3 74.9h1M416.8 74.3h1M412.9 114.2h1M413.4 83.6h1M409.8 60.4h1M410.4 77.4h1M415.7 86.2h1M413.2 122.6h1M415.9 108.9h1M405.4 95.3h1M407.7 99.5h1M415.2 64.9h1M410.4 74.7h1M413.7 82.4h1M414.5 72.0h1M405.7 99.4h1M412.0 115.5h1M408.9 103.1h1M413.3 69.9h1M416.7 74.2h1M414.4 106.9h1M414.5 85.1h1M418.5 90.8h1M414.6 92.2h1M415.2 88.1h1M416.8 84.4h1M413.7 84.9h1M413.1 103.9h1M414.7 108.0h1M412.6 100.7h1M412.6 83.7h1M415.2 74.6h1M415.3 108.4h1M417.3 93.9h1M413.6 101.2h1M411.2 102.8h1M413.6 62.5h1M413.3 70.8h1M414.9 103.3h1M419.5 89.5h1M413.7 90.0h1M414.0 103.3h1M416.4 67.4h1M414.2 106.5h1M411.0 78.3h1M410.7 84.2h1M409.6 98.1h1M410.1 109.8h1M416.0 98.6h1M414.4 88.0h1M412.8 118.4h1M414.6 90.8h1M414.3 99.6h1M408.2 72.0h1M411.6 91.5h1M412.3 101.8h1M414.2 100.8h1M411.6 116.2h1M416.5 101.1h1M407.3 82.6h1M410.9 86.6h1M414.5 107.2h1M414.9 99.6h1M415.5 102.7h1M413.9 84.0h1M414.7 111.6h1M409.8 112.3h1M409.2 109.4h1M416.2 88.5h1M413.1 97.2h1M415.8 78.2h1M413.2 77.7h1M410.8 85.5h1M414.9 103.6h1M415.9 71.1h1M413.8 89.0h1M420.4 74.7h1M411.6 117.8h1M412.7 109.1h1M414.4 88.3h1M416.0 92.0h1M412.9 93.3h1M414.4 99.1h1M415.6 92.7h1M414.5 120.7h1M417.2 87.9h1M413.5 122.9h1M406.0 86.4h1M409.4 81.3h1M415.8 68.5h1M415.7 84.0h1M406.5 75.5h1M415.9 101.6h1M413.9 82.9h1M412.8 84.0h1M413.9 99.2h1M414.7 115.1h1M416.5 103.7h1M413.7 83.6h1M415.7 107.2h1M416.0 71.4h1M415.9 67.5h1M415.0 71.4h1M421.2 84.3h1M416.7 96.2h1M407.4 73.0h1M409.4 99.7h1M416.4 116.8h1M413.1 88.0h1M413.3 67.8h1M414.2 65.1h1M413.2 84.9h1M412.9 94.6h1M416.0 96.6h1M413.7 110.9h1M413.6 67.0h1M401.7 84.4h1M415.9 85.4h1M422.4 88.7h1M413.9 61.1h1M410.5 95.0h1M413.1 86.5h1M411.9 108.2h1M410.9 97.8h1M417.4 74.8h1M415.0 77.4h1M413.0 70.8h1M417.0 105.3h1M408.9 101.4h1M408.3 104.5h1M413.6 60.5h1M410.9 66.2h1M414.7 98.8h1M416.0 64.3h1M412.6 62.3h1M412.4 60.5h1M415.7 74.1h1M413.6 79.9h1M414.0 109.4h1M416.3 94.6h1M412.3 85.6h1M414.3 80.9h1M410.8 71.4h1M417.8 85.7h1M413.2 88.4h1M414.8 87.8h1M414.2 102.0h1M413.8 119.2h1M414.1 65.0h1M405.5 94.2h1M409.5 91.9h1M412.2 85.9h1M405.8 80.5h1M413.9 122.9h1M411.4 102.9h1M413.5 96.6h1M412.3 56.5h1M415.4 95.7h1M417.9 91.3h1M414.3 108.0h1M410.8 55.1h1M416.7 113.8h1M414.2 108.1h1M416.2 109.6h1M414.0 83.0h1M413.8 102.5h1M413.3 83.8h1M412.2 60.0h1M419.7 104.3h1M407.6 89.0h1M412.4 96.7h1M407.2 101.3h1M413.1 113.7h1M404.9 84.6h1M414.0 79.1h1M414.3 115.6h1M413.1 92.0h1M416.0 100.0h1M417.8 95.1h1M411.9 66.7h1M413.0 66.2h1M411.5 101.3h1M412.2 112.5h1M419.3 77.9h1M415.3 107.7h1M412.8 73.1h1M410.2 67.6h1M414.3 81.3h1M411.9 81.9h1M410.2 77.4h1M409.6 90.9h1M407.6 72.1h1M408.2 93.5h1M414.9 124.4h1M408.8 75.5h1M412.7 88.4h1M407.6 71.7h1M412.1 55.9h1M415.4 93.9h1M411.5 87.8h1M414.3 110.1h1M415.7 105.0h1M414.0 78.1h1M411.4 95.1h1M409.8 82.7h1M409.6 78.9h1M414.0 102.0h1M410.8 73.3h1M412.7 66.7h1M413.6 84.4h1M409.3 111.8h1M413.2 68.8h1M415.6 70.1h1M415.2 82.5h1M413.8 100.2h1M415.9 112.6h1M415.5 71.6h1M413.1 82.5h1M412.1 79.6h1M413.3 84.7h1M414.6 111.0h1M407.9 73.4h1M411.9 90.1h1M419.5 82.9h1M412.4 99.7h1M414.4 94.5h1M411.9 63.1h1M412.8 105.9h1M416.1 72.1h1M416.2 103.6h1M413.3 59.0h1M415.1 78.4h1M414.4 81.2h1M412.7 72.5h1M411.2 90.7h1M413.8 61.3h1M414.9 109.7h1M415.0 97.0h1M413.0 76.8h1M412.2 90.4h1M416.9 85.9h1M409.9 94.0h1M408.7 81.0h1M414.6 86.9h1M411.0 115.9h1M414.6 90.5h1M413.9 72.0h1M405.3 78.5h1M412.8 89.3h1M411.5 64.1h1M412.4 60.0h1M407.5 81.1h1M412.9 112.8h1M411.9 61.1h1M413.5 99.6h1M410.3 78.8h1M415.3 70.3h1M411.8 104.9h1M414.5 78.6h1M413.8 74.1h1M413.6 109.8h1M411.7 69.6h1M415.1 118.7h1M410.0 99.5h1M415.5 93.1h1M416.6 76.5h1M414.5 101.5h1M417.2 104.0h1M412.6 105.4h1M410.8 100.0h1M408.0 78.3h1M413.2 72.8h1M405.6 97.1h1M407.3 73.7h1M416.7 111.5h1M409.9 98.1h1M414.0 82.5h1M409.8 105.0h1M416.0 78.5h1M413.3 64.5h1M410.1 63.0h1M418.3 83.2h1M413.7 75.4h1M415.9 70.3h1M413.2 59.5h1M410.7 95.4h1M410.3 91.1h1M405.5 98.5h1M416.7 72.4h1M409.3 77.3h1M415.1 114.3h1M413.5 84.1h1M414.6 113.8h1M410.4 100.9h1M413.5 87.8h1M410.4 116.0h1M415.6 101.8h1M415.0 112.6h1M417.7 90.9h1M416.2 64.0h1M414.6 108.2h1M411.7 98.3h1M408.5 69.0h1M415.2 72.1h1M412.7 81.1h1M416.7 100.2h1M417.8 107.7h1M409.6 66.9h1M411.8 117.0h1M416.4 110.4h1M410.4 87.9h1M413.0 97.7h1M417.9 111.4h1M413.7 113.8h1M413.3 95.3h1M408.8 97.0h1M410.0 89.1h1M412.0 65.0h1M415.4 72.2h1M409.9 87.8h1M411.6 73.0h1M408.9 104.5h1M411.2 106.0h1M413.1 75.5h1M407.0 93.2h1M414.9 104.8h1M412.2 95.4h1M417.5 87.4h1M410.6 97.8h1M409.2 72.0h1M412.0 115.5h1M416.4 93.8h1M412.6 93.4h1M411.7 72.2h1M406.4 83.0h1M409.3 68.3h1M413.1 78.1h1M412.6 102.6h1M418.8 84.1h1M411.7 111.6h1M411.7 108.1h1M413.3 104.8h1M412.9 100.1h1M409.9 111.2h1M411.4 104.7h1M409.9 74.2h1M413.7 63.2h1M413.2 68.8h1M409.0 74.5h1M413.5 111.4h1M412.8 104.5h1M414.2 90.0h1M416.0 118.9h1M412.0 102.5h1M415.4 118.2h1M412.5 95.6h1M414.0 92.2h1M411.7 60.2h1M413.8 109.6h1M407.6 83.5h1M414.9 70.0h1M410.6 80.2h1M412.0 84.8h1M414.8 63.4h1M415.9 89.8h1M413.1 93.6h1M414.6 99.5h1M415.0 67.4h1M416.2 113.4h1M415.6 119.8h1M416.9 114.1h1M412.1 61.2h1M408.6 67.1h1M407.6 88.1h1M412.2 79.1h1M416.7 106.0h1M409.2 63.6h1M413.5 94.0h1M417.3 100.7h1M412.4 82.4h1M411.0 83.4h1M411.0 97.8h1M409.7 89.6h1M414.5 87.4h1M406.5 85.6h1M412.5 87.0h1M411.5 81.3h1M412.9 106.6h1M414.2 89.3h1M414.4 80.8h1M411.2 84.4h1M417.6 91.8h1M409.9 85.7h1M409.4 76.9h1M416.5 94.5h1M411.8 109.4h1M414.8 87.1h1M414.4 68.3h1M413.0 63.0h1M412.5 94.9h1M414.2 92.5h1M404.7 66.4h1M416.8 67.5h1M410.4 62.7h1M410.4 109.0h1M417.7 91.3h1M415.8 105.1h1M410.2 104.5h1M414.8 109.2h1M418.3 70.7h1M414.2 86.4h1M412.8 117.7h1M413.1 74.1h1M413.4 83.6h1M411.5 111.0h1M409.9 110.5h1M417.6 83.9h1M418.2 81.9h1M413.1 74.0h1M409.7 102.0h1M413.2 99.3h1M416.4 79.6h1M409.9 85.5h1M415.9 68.1h1M416.5 101.3h1M414.9 74.5h1M413.2 84.4h1M413.0 84.4h1M416.4 102.6h1M411.5 89.2h1M414.6 94.8h1M416.2 91.0h1M415.7 96.3h1M416.9 114.6h1M412.0 90.5h1M414.6 76.4h1M415.4 57.6h1M410.5 86.6h1M408.8 92.3h1M414.0 120.5h1M415.7 73.1h1M411.2 74.9h1M413.7 85.9h1M410.4 61.1h1M412.1 58.6h1M408.9 96.9h1M411.0 88.8h1M404.2 88.1h1M415.0 116.4h1M408.3 106.4h1M415.3 115.9h1M412.1 61.0h1M416.3 105.8h1M412.9 104.8h1M414.2 80.2h1M417.5 82.2h1M412.3 78.3h1M408.9 106.5h1M406.2 75.1h1M414.3 97.5h1M413.6 83.1h1M416.1 104.1h1M416.1 78.5h1M407.5 114.5h1M411.5 111.9h1M413.2 78.5h1M416.2 78.8h1M408.2 69.6h1M414.8 114.5h1M412.2 87.0h1M412.8 81.1h1M412.6 109.9h1M416.4 101.7h1M412.5 92.9h1M416.1 95.2h1M419.2 88.3h1M414.7 94.5h1M414.1 114.1h1M412.8 64.4h1M406.0 81.9h1M412.0 51.5h1M411.5 99.3h1M412.9 92.9h1M409.0 99.6h1M414.5 89.2h1M417.0 94.5h1M415.2 99.5h1M416.4 112.3h1M413.5 74.7h1M407.0 103.3h1M415.9 87.3h1M416.0 85.8h1M413.5 118.4h1M416.3 104.6h1M414.8 62.2h1M411.5 81.7h1M409.6 114.6h1M413.1 114.8h1M407.4 73.7h1M412.3 91.9h1M409.3 111.1h1M409.5 68.2h1M414.1 102.9h1M413.9 101.9h1M413.3 119.4h1M416.0 93.9h1M411.2 95.6h1M414.6 112.5h1M414.7 99.3h1M415.7 100.5h1M412.0 108.0h1M417.0 78.5h1M414.9 77.1h1M415.2 76.9h1M409.0 93.4h1M410.2 102.5h1M411.2 104.0h1M413.7 116.7h1M410.8 91.7h1M412.2 83.5h1M415.7 66.9h1M413.7 62.2h1M412.5 76.3h1M415.2 97.7h1M410.4 106.0h1M409.2 79.2h1M412.5 84.5h1M416.3 83.0h1M415.3 108.2h1M415.1 81.3h1M420.1 98.0h1M413.0 108.2h1M412.0 111.6h1M414.8 96.6h1M414.0 83.2h1M411.5 110.3h1M404.2 100.2h1M416.6 88.8h1M414.4 110.0h1M414.4 121.9h1M410.1 67.2h1M412.4 59.5h1M412.0 105.2h1M414.3 83.7h1M416.0 78.5h1M413.9 109.4h1M411.6 83.6h1M415.6 92.7h1M417.2 107.6h1M414.9 64.6h1M417.6 83.3h1M415.7 64.7h1M409.0 82.9h1M413.4 79.1h1M414.7 78.9h1M407.7 103.6h1M407.8 109.8h1M411.8 84.0h1M412.5 87.1h1M408.0 71.2h1M411.2 102.1h1M413.1 77.6h1M413.2 73.7h1M414.8 103.4h1M415.5 90.9h1M412.7 92.9h1M413.5 122.0h1M416.8 90.4h1M415.9 82.8h1M414.4 68.7h1M417.3 105.6h1M413.4 78.8h1M414.3 89.7h1M416.2 99.2h1M410.4 100.5h1M415.2 88.2h1M406.9 67.6h1M407.9 91.9h1M415.9 84.7h1M415.6 105.6h1M415.8 115.3h1M419.1 98.0h1M411.3 79.9h1M415.6 88.0h1M418.3 103.2h1M416.5 79.7h1M416.2 77.1h1M412.7 86.1h1M413.4 112.2h1M413.8 104.1h1M416.5 96.5h1M417.0 109.5h1M418.8 96.6h1M409.5 92.8h1M412.4 104.6h1M410.3 94.0h1M416.8 91.5h1M412.2 102.6h1M413.6 88.6h1M411.9 102.5h1M414.4 89.5h1M416.6 98.3h1M413.8 101.8h1M412.8 77.2h1M413.1 73.8h1M415.0 114.4h1M414.8 120.4h1M410.4 79.1h1M412.6 104.7h1M414.8 116.3h1M413.4 66.7h1M413.2 90.6h1M406.9 78.4h1M414.0 83.4h1M414.5 91.7h1M413.8 69.2h1M408.5 99.3h1M415.3 78.2h1M407.3 73.9h1M410.9 96.2h1M414.2 79.8h1M413.4 62.4h1M417.6 115.7h1M415.1 87.1h1M410.5 83.8h1M415.9 85.5h1M415.0 66.9h1M408.4 81.8h1M411.6 73.1h1M409.1 104.1h1M412.9 91.7h1M411.4 63.2h1M415.4 87.8h1M411.4 105.6h1M411.6 101.8h1M412.9 73.3h1M417.2 88.9h1M411.1 90.0h1M411.3 94.9h1M410.3 97.6h1M414.6 111.9h1M414.8 109.6h1M408.1 63.3h1M413.9 109.4h1M407.1 93.4h1M408.8 80.3h1M404.6 84.2h1M411.5 82.0h1M410.4 80.3h1M413.9 83.8h1M413.8 72.3h1M415.8 82.4h1M409.9 84.1h1M414.1 104.7h1M416.9 91.2h1M410.6 96.4h1M415.3 88.0h1M415.9 97.3h1M402.8 96.3h1M413.7 104.4h1M414.7 79.7h1M409.8 102.2h1M414.2 120.2h1M413.7 85.6h1M412.7 105.3h1M412.6 93.7h1M414.7 53.2h1M409.9 104.4h1M409.2 91.6h1M415.1 109.9h1M416.6 83.7h1M411.0 107.3h1M414.7 95.1h1M415.3 108.7h1M414.8 108.6h1M411.9 83.0h1M412.9 72.2h1M413.1 87.3h1M418.5 80.4h1M412.6 100.0h1M411.6 71.4h1M410.4 70.2h1M413.0 61.9h1M414.6 60.6h1M409.2 92.4h1M412.5 101.7h1M411.4 83.5h1M410.7 106.2h1M410.6 105.5h1M412.4 78.2h1M413.7 96.6h1M414.0 78.6h1M412.2 111.2h1M415.3 91.1h1M412.4 107.5h1M414.7 105.0h1M411.0 106.8h1M408.6 83.2h1M414.4 107.2h1M415.2 99.6h1M411.0 83.6h1M414.5 102.3h1M413.1 107.3h1M412.4 102.9h1M413.9 92.2h1M417.6 91.4h1M410.5 84.1h1M411.8 92.2h1M405.1 94.2h1M410.9 89.9h1M413.9 117.2h1M415.2 102.7h1M408.7 94.3h1M414.7 99.0h1M415.3 120.4h1M411.2 64.7h1M412.1 64.3h1M419.2 90.8h1M412.0 72.6h1M410.6 85.7h1M414.8 87.8h1M412.9 57.9h1M409.5 117.0h1M414.2 107.9h1M414.4 92.1h1M412.1 98.2h1M417.6 89.0h1M413.2 66.5h1M413.2 93.3h1M414.9 102.1h1M412.9 73.8h1M410.8 71.3h1M411.8 101.0h1M408.4 102.3h1M411.8 68.8h1M412.8 67.9h1M407.0 108.7h1M412.1 87.4h1M416.2 83.2h1M414.5 79.2h1M410.6 109.2h1M416.3 73.3h1M415.4 58.0h1M408.0 93.6h1M410.4 58.5h1M418.9 86.6h1M416.3 113.9h1M415.5 115.5h1M414.2 99.6h1M417.8 87.2h1M411.2 94.9h1M416.4 101.3h1M406.6 73.2h1M416.7 84.5h1M414.4 72.0h1M414.4 119.0h1M412.4 117.1h1M417.1 81.1h1M411.8 86.8h1M411.6 69.5h1M414.8 105.4h1M409.9 104.4h1M413.5 63.5h1M406.6 96.5h1M414.6 62.4h1M409.7 102.4h1M419.3 95.6h1M408.4 72.9h1M417.0 108.8h1M414.5 72.5h1M414.3 66.6h1M414.7 117.4h1M412.0 93.7h1M408.6 69.8h1M409.0 75.0h1M410.1 81.1h1M417.8 95.9h1M412.9 82.2h1M415.6 114.1h1M418.5 82.3h1M410.2 104.4h1M414.4 120.7h1M407.9 72.8h1M415.6 111.9h1M412.1 111.9h1M411.3 97.5h1M412.3 61.5h1M411.4 63.6h1M412.4 102.6h1M415.8 97.4h1M413.4 61.9h1M417.7 87.1h1M410.2 61.9h1M411.6 75.3h1M412.9 88.5h1M414.7 94.6h1M413.4 73.1h1M415.5 91.2h1M415.0 60.9h1M413.4 120.5h1M408.0 99.7h1M414.0 73.0h1M414.2 79.8h1M417.3 80.7h1M414.0 120.4h1M410.3 90.6h1M413.4 99.9h1M412.5 100.3h1M409.6 83.3h1M413.5 60.6h1M412.6 70.3h1M416.0 74.4h1M413.7 90.9h1M414.2 79.0h1M404.8 78.3h1M414.6 55.5h1M413.1 110.0h1M408.9 106.8h1M413.7 107.4h1M408.5 81.6h1M415.1 92.6h1M412.6 95.0h1M413.0 67.0h1M415.8 106.2h1M413.7 97.0h1M411.3 101.7h1M409.1 80.3h1M415.4 84.9h1M414.9 119.1h1M410.9 96.1h1M418.0 94.4h1M412.8 101.1h1M411.3 66.4h1M415.8 77.7h1M413.4 109.4h1M407.8 98.3h1M414.9 104.9h1M419.0 89.4h1M407.4 90.5h1M410.2 83.0h1M415.5 82.9h1M410.2 61.8h1M414.6 106.1h1M414.2 78.9h1M408.6 76.3h1M414.3 73.9h1M414.0 116.0h1M416.5 85.2h1M414.4 90.6h1M405.1 103.5h1M420.4 99.5h1M414.5 92.8h1M410.8 77.2h1M414.4 99.0h1M413.2 73.4h1M412.0 74.4h1M414.2 71.3h1M411.6 63.9h1M409.5 75.6h1M410.2 107.7h1M414.6 91.4h1M420.0 74.5h1M413.5 89.3h1M414.2 83.5h1M415.8 80.9h1M406.8 86.9h1M414.9 86.2h1M414.3 63.8h1M413.0 111.1h1M412.0 97.6h1M413.5 99.3h1M413.0 115.4h1M415.5 98.9h1M412.9 74.9h1M414.4 82.4h1M414.5 92.0h1M405.7 88.6h1M409.6 89.6h1M412.3 83.2h1M407.9 98.4h1M410.1 115.0h1M402.5 91.2h1M413.1 95.2h1M412.0 63.9h1M415.2 98.6h1M412.9 57.4h1M415.3 90.0h1M415.7 108.0h1M413.5 100.1h1M414.2 97.3h1M415.2 119.0h1M411.7 112.6h1M412.4 61.0h1M416.9 92.1h1M416.0 115.0h1M403.5 97.0h1M413.9 79.4h1M415.8 78.4h1M409.6 78.9h1M415.3 97.5h1M412.8 76.1h1M412.6 82.5h1M414.0 66.4h1M411.1 75.5h1M414.6 117.2h1M411.4 96.9h1M410.7 104.9h1M414.2 95.1h1M409.9 70.9h1M415.0 103.9h1M408.5 81.9h1M414.0 93.2h1M414.5 100.4h1M415.9 110.6h1M416.2 87.1h1M409.6 91.9h1M408.5 108.5h1M418.3 72.0h1M420.0 82.1h1M414.2 94.3h1M417.1 113.1h1M409.4 104.5h1M406.5 87.0h1M413.7 94.7h1M412.0 75.4h1M418.0 96.6h1M414.2 66.8h1M413.6 72.0h1M410.1 98.7h1M415.6 73.5h1M421.2 91.3h1M415.1 102.5h1M412.7 82.2h1M417.0 96.0h1M414.3 76.0h1M414.5 84.2h1M411.1 62.8h1M416.3 116.1h1M415.5 101.9h1M416.5 110.3h1M412.4 97.9h1M407.9 81.3h1M407.9 100.3h1M414.9 76.1h1M414.0 89.2h1M414.7 110.9h1M413.5 92.6h1M406.8 78.2h1M413.0 51.3h1M414.4 102.5h1M416.7 61.6h1M415.4 85.4h1M415.7 89.0h1M416.4 107.5h1M412.7 88.6h1M414.8 87.1h1M411.2 76.7h1M411.5 67.5h1M412.5 92.4h1M412.7 98.5h1M417.9 94.1h1M406.2 82.6h1M413.3 92.4h1M410.5 98.5h1M410.0 99.8h1M412.0 104.7h1M410.7 110.7h1M408.4 107.9h1M406.3 101.7h1M407.0 67.1h1M409.8 89.8h1M417.5 93.3h1M411.3 73.7h1M412.8 103.9h1M413.3 104.3h1M404.9 106.0h1M411.2 105.5h1M413.8 91.9h1M413.7 120.1h1M415.7 73.8h1M407.4 63.6h1M410.5 117.2h1M413.5 106.4h1M413.2 115.0h1M414.0 76.7h1M409.7 90.0h1M409.1 112.0h1M415.3 107.5h1M412.5 114.0h1M411.7 101.2h1M413.9 120.3h1M410.7 90.3h1M409.5 112.4h1M410.9 112.6h1M415.4 89.1h1M414.8 77.7h1M411.0 84.5h1M414.5 70.5h1M411.0 104.5h1M410.7 71.5h1M410.6 63.6h1M412.1 87.4h1M416.4 113.9h1M413.8 78.2h1M412.8 71.3h1M413.7 54.1h1M412.6 104.1h1M414.2 95.2h1M412.2 99.0h1M413.6 86.8h1M413.8 99.1h1M413.3 85.6h1M408.4 108.5h1M412.8 57.0h1M409.8 69.4h1M409.9 65.7h1M414.7 75.7h1M411.8 86.7h1M411.7 76.3h1M413.3 71.8h1M412.6 81.2h1M416.6 95.5h1M414.4 108.8h1M413.6 106.1h1M401.6 82.6h1M412.9 77.3h1M415.8 100.9h1M414.6 73.6h1M415.8 95.1h1M409.4 95.3h1M417.9 103.6h1M409.5 106.9h1M414.2 75.2h1M413.1 88.8h1M415.3 114.3h1M417.0 105.7h1M412.3 87.6h1M414.0 98.8h1M415.3 112.7h1M411.8 106.4h1M409.4 89.7h1M414.8 100.2h1M416.9 86.3h1M408.8 111.5h1M413.1 114.4h1M411.8 91.2h1M412.5 64.7h1M413.9 74.6h1M410.8 76.6h1M414.7 75.9h1M407.6 61.6h1M410.0 105.4h1M408.6 56.8h1M411.4 94.5h1M413.9 120.3h1M413.8 80.1h1M412.9 117.7h1M413.2 85.4h1M412.7 117.6h1M411.6 79.1h1M404.7 86.1h1M406.6 84.4h1M412.8 108.1h1M412.6 124.1h1M414.5 78.2h1M415.6 107.4h1M413.2 121.7h1M415.6 98.1h1M415.0 103.9h1M416.7 84.9h1M409.2 85.7h1M411.8 89.4h1M405.8 61.0h1M413.6 60.9h1M413.8 61.6h1M408.9 53.6h1M413.7 59.0h1M402.6 59.7h1M422.0 52.3h1M409.6 60.5h1M410.1 56.3h1M413.2 67.6h1M413.9 60.6h1M412.7 63.3h1M405.2 63.6h1M408.4 55.8h1M416.0 54.3h1M407.5 55.3h1M424.9 53.9h1M404.1 64.3h1M414.6 57.1h1M410.6 66.2h1M412.9 70.0h1M408.7 61.7h1M413.7 57.6h1M413.1 58.5h1M403.9 62.0h1M417.5 56.3h1M406.8 65.9h1M414.5 59.4h1M411.7 64.8h1M414.1 59.9h1M408.2 56.2h1M412.8 59.4h1M415.4 62.5h1M408.6 61.5h1M411.3 58.3h1M402.1 58.1h1M409.2 59.5h1M408.7 66.5h1M402.8 50.5h1M406.0 50.8h1M415.8 59.7h1M411.2 61.7h1M407.4 59.7h1M412.0 68.3h1M409.2 59.6h1M409.9 59.8h1M405.6 63.3h1M403.8 55.6h1M409.9 63.9h1M412.0 63.3h1M412.9 61.4h1M409.1 57.6h1M410.8 58.6h1M411.7 56.2h1M411.2 61.6h1M408.0 60.0h1M414.2 51.0h1M406.0 55.7h1M417.4 58.1h1M407.7 57.4h1M405.2 63.3h1M404.3 50.0h1M415.0 63.1h1M416.0 63.1h1M409.3 68.3h1M412.6 59.4h1M409.8 63.6h1M410.7 61.4h1M409.9 55.8h1M416.5 60.8h1M409.2 57.7h1M406.3 55.0h1M413.0 53.8h1M415.9 59.3h1M410.5 64.9h1M409.6 63.7h1M411.4 58.0h1M409.4 55.0h1M406.6 50.1h1M418.9 67.5h1M412.6 63.5h1M410.9 61.7h1M408.5 59.8h1M415.4 65.4h1M403.3 64.3h1M408.1 52.2h1M408.5 60.1h1M408.7 60.5h1M408.2 56.9h1M412.5 61.0h1M409.6 61.4h1M404.3 65.8h1M419.0 62.7h1M404.9 64.4h1M406.1 62.6h1M414.2 58.7h1M410.5 57.6h1M414.2 69.7h1M410.1 64.2h1M411.1 59.1h1M409.3 57.7h1M408.8 65.1h1M410.3 55.7h1M415.5 56.0h1M403.9 53.9h1M411.4 61.6h1M406.4 55.4h1M409.0 61.2h1M410.7 57.4h1M416.2 63.0h1M404.9 99.0h1M401.4 108.0h1M400.8 77.2h1M403.7 85.3h1M401.9 87.3h1M403.7 97.7h1M404.8 108.9h1M405.7 92.0h1M404.2 83.3h1M390.1 95.3h1M392.6 121.7h1M405.8 100.0h1M403.5 86.1h1M401.2 98.7h1M396.5 97.9h1M400.3 110.3h1M404.8 88.1h1M404.1 79.9h1M402.8 79.2h1M396.2 95.9h1M397.0 80.2h1M400.3 80.5h1M402.7 98.6h1M404.3 96.6h1M404.0 120.6h1M405.4 111.9h1M393.7 106.2h1M403.9 88.0h1M405.6 123.7h1M404.0 78.0h1M405.0 111.3h1M397.5 92.9h1M404.0 85.4h1M404.4 111.1h1M402.0 94.8h1M402.8 111.1h1M402.1 91.1h1M402.6 103.6h1M404.0 101.3h1M403.1 87.5h1M393.7 121.4h1M398.2 91.0h1M405.1 122.1h1M402.1 97.3h1M400.8 104.2h1M400.1 115.0h1M405.1 94.2h1M402.7 104.4h1M400.5 118.4h1M398.3 79.2h1M400.1 95.3h1M398.6 72.3h1M402.8 111.1h1M402.9 88.1h1M403.9 119.9h1M390.9 114.9h1M404.9 91.5h1M403.4 117.1h1M400.1 108.9h1M405.2 88.1h1M400.4 90.7h1M399.0 102.0h1M400.9 91.2h1M396.1 107.6h1M395.5 75.4h1M404.6 123.8h1M389.7 67.3h1M403.8 119.1h1M395.0 106.6h1M403.1 100.3h1M403.2 80.6h1M405.7 113.5h1M401.7 85.6h1M402.4 76.8h1M404.7 88.3h1M401.2 117.3h1M393.9 84.4h1M396.7 118.8h1M403.5 74.7h1M387.9 78.6h1M405.3 117.0h1M398.4 121.4h1M397.1 78.4h1M404.0 72.6h1M401.3 89.7h1M403.4 124.0h1M405.0 81.6h1M395.2 98.9h1M391.5 125.2h1M405.3 106.4h1M404.0 99.7h1M402.6 83.6h1M402.1 111.6h1M399.4 62.4h1M404.9 99.7h1M401.8 108.1h1M396.6 94.9h1M388.6 120.4h1M405.6 114.8h1M395.6 97.7h1M400.4 58.2h1M405.6 119.7h1M405.2 81.3h1M398.5 81.4h1M394.7 87.6h1M405.6 80.1h1M405.6 121.8h1M396.6 78.4h1M402.7 75.1h1M399.8 116.9h1M397.6 105.3h1M399.3 108.3h1M399.8 119.9h1M399.0 108.1h1M397.2 99.1h1M400.9 100.7h1M402.1 80.2h1M405.7 93.7h1M405.1 114.2h1M405.3 101.1h1M404.1 120.4h1M404.4 110.6h1M396.1 94.8h1M396.7 85.1h1M401.1 107.9h1M405.2 115.2h1M397.1 70.1h1M402.9 112.4h1M398.5 75.1h1M395.6 114.7h1M392.6 88.8h1M402.0 87.1h1M405.6 112.3h1M399.4 85.2h1M404.9 92.3h1M403.7 91.1h1M399.6 69.7h1M401.1 87.8h1M400.5 72.3h1M405.1 86.0h1M405.1 118.8h1M404.8 86.7h1M402.6 89.8h1M405.1 72.9h1M403.5 98.1h1M394.6 103.0h1M398.5 78.4h1M405.7 100.0h1M405.4 85.1h1M398.4 120.2h1M403.0 120.4h1M405.5 115.0h1M396.1 120.2h1M403.1 98.7h1M401.9 109.9h1M402.3 117.4h1M400.2 106.0h1M405.1 76.1h1M402.6 114.6h1M401.2 114.5h1M390.5 93.6h1M404.1 120.4h1" stroke="#000" stroke-width="1" fill="none"/>
<path d="M383.1 52.6h1.15M358.0 109.9h1.15M345.6 88.2h1.15M378.4 97.9h1.15M331.9 94.5h1.15M317.6 114.7h1.15M348.6 123.7h1.15M353.6 118.8h1.15M372.7 54.4h1.15M367.7 110.8h1.15M342.4 76.6h1.15M344.4 65.1h1.15M363.8 64.2h1.15M327.9 109.0h1.15M371.5 126.9h1.15M385.0 90.8h1.15M373.1 104.8h1.15M379.7 65.1h1.15M334.8 98.0h1.15M328.0 118.7h1.15M322.0 112.2h1.15M346.6 96.3h1.15M327.3 124.9h1.15M378.9 98.1h1.15M351.9 96.5h1.15M371.0 95.7h1.15M348.2 98.8h1.15M331.6 113.3h1.15M364.1 114.3h1.15M386.3 124.3h1.15M327.6 91.4h1.15M369.9 106.3h1.15M365.4 60.5h1.15M338.4 127.7h1.15M352.4 114.8h1.15M343.2 82.8h1.15M339.3 63.3h1.15M349.1 85.6h1.15M314.0 119.8h1.15M367.8 69.0h1.15M372.3 125.1h1.15M350.7 59.1h1.15M337.4 93.6h1.15M340.0 126.7h1.15M361.9 114.0h1.15M337.2 121.8h1.15M326.6 116.1h1.15M376.7 93.0h1.15M383.8 107.4h1.15M326.9 103.4h1.15M353.8 81.7h1.15M320.8 126.7h1.15M376.1 77.2h1.15M348.3 83.6h1.15M382.7 101.3h1.15M347.3 124.8h1.15M317.1 124.6h1.15M381.1 118.7h1.15M326.1 110.2h1.15M339.3 56.4h1.15M335.5 117.8h1.15M357.2 89.4h1.15M338.8 97.7h1.15M312.7 126.5h1.15M376.7 86.8h1.15M325.9 106.4h1.15M375.9 120.0h1.15M385.6 91.4h1.15M348.9 128.9h1.15M380.1 75.1h1.15M357.7 82.2h1.15M342.7 76.7h1.15M325.3 105.4h1.15M380.6 72.1h1.15M366.1 91.6h1.15M321.3 112.3h1.15M345.6 79.0h1.15M373.7 98.3h1.15M320.5 116.4h1.15M386.0 105.3h1.15M344.6 102.1h1.15M337.3 66.7h1.15M386.5 53.9h1.15M338.9 94.6h1.15M353.9 71.3h1.15M343.2 88.0h1.15M337.5 84.2h1.15M344.0 57.4h1.15M368.8 110.2h1.15M336.1 81.4h1.15M324.8 120.8h1.15M331.6 121.9h1.15M324.6 113.4h1.15M351.8 126.3h1.15M350.5 93.9h1.15M346.5 104.0h1.15M346.0 64.6h1.15M365.0 102.9h1.15M331.6 77.1h1.15M386.3 89.1h1.15M339.2 119.6h1.15M373.3 116.9h1.15M366.6 61.7h1.15M377.3 66.6h1.15M354.0 71.9h1.15M315.0 116.6h1.15M331.7 97.3h1.15M319.1 116.9h1.15M373.0 105.8h1.15M368.0 63.1h1.15M357.1 100.6h1.15M378.0 124.7h1.15M314.0 123.8h1.15M385.7 96.0h1.15M311.5 119.0h1.15M349.2 126.9h1.15M369.5 82.4h1.15M348.6 75.9h1.15M324.7 124.9h1.15M346.1 70.4h1.15M358.1 75.1h1.15M369.2 68.4h1.15M357.1 75.3h1.15M338.8 98.7h1.15M353.1 92.5h1.15M342.3 89.2h1.15M338.3 108.1h1.15M377.0 61.0h1.15M346.8 90.9h1.15M337.6 98.1h1.15M335.0 96.4h1.15M347.5 90.5h1.15M363.8 94.0h1.15M385.7 101.7h1.15M356.8 58.5h1.15M356.2 99.7h1.15M335.3 123.3h1.15M382.8 120.4h1.15M353.1 91.8h1.15M347.9 123.0h1.15M349.7 53.0h1.15M357.7 117.9h1.15M354.2 115.7h1.15M385.1 126.0h1.15M368.1 79.9h1.15M348.2 59.2h1.15M382.1 73.2h1.15M339.4 103.2h1.15M386.4 89.8h1.15M375.9 52.8h1.15M351.9 105.9h1.15M346.2 81.1h1.15M380.5 117.5h1.15M386.1 106.9h1.15M312.2 114.7h1.15M353.2 95.8h1.15M384.9 80.4h1.15M377.9 107.3h1.15M360.7 103.5h1.15M323.4 106.5h1.15M343.6 83.6h1.15M347.8 121.6h1.15M346.7 101.9h1.15M366.3 86.8h1.15M326.4 116.8h1.15M340.2 84.0h1.15M369.0 80.8h1.15M345.1 74.0h1.15M377.4 123.8h1.15M356.7 63.3h1.15M327.2 114.1h1.15M367.2 66.3h1.15M327.8 93.2h1.15M357.1 78.5h1.15M369.3 78.1h1.15M371.5 66.3h1.15M340.1 97.4h1.15M355.5 114.6h1.15M386.0 70.4h1.15M331.2 123.1h1.15M335.0 103.4h1.15M340.5 101.3h1.15M354.2 73.0h1.15M336.4 124.4h1.15M335.8 93.2h1.15M349.6 64.6h1.15M366.4 97.2h1.15M320.9 120.3h1.15M369.8 89.9h1.15M361.4 94.2h1.15M307.0 126.2h1.15M359.6 90.5h1.15M347.1 78.6h1.15M355.6 84.6h1.15M355.9 118.3h1.15M386.6 121.8h1.15M318.5 113.0h1.15M329.0 111.9h1.15M327.7 114.1h1.15M338.4 64.2h1.15M365.3 85.4h1.15M352.9 104.3h1.15M307.7 115.9h1.15M347.6 70.7h1.15M355.9 80.4h1.15M367.6 126.0h1.15M345.8 56.4h1.15M363.4 69.0h1.15M318.0 123.9h1.15M342.0 70.2h1.15M337.2 73.1h1.15M344.2 68.0h1.15M335.9 104.4h1.15M332.3 100.3h1.15M381.3 90.7h1.15M384.6 98.4h1.15M375.6 55.8h1.15M336.6 60.3h1.15M376.3 68.3h1.15M370.0 125.0h1.15M380.3 96.0h1.15M340.5 65.8h1.15M352.1 82.6h1.15M331.9 100.8h1.15M357.4 67.2h1.15M327.8 121.2h1.15M325.7 103.6h1.15M349.0 85.6h1.15M378.4 109.6h1.15M366.7 77.9h1.15M360.9 89.5h1.15M357.1 77.5h1.15M332.0 124.9h1.15M370.2 77.7h1.15M344.6 101.4h1.15M371.7 66.4h1.15M378.0 68.2h1.15M377.0 112.7h1.15M344.6 72.4h1.15M360.9 123.2h1.15M371.5 57.9h1.15M378.4 55.8h1.15M385.0 98.2h1.15M347.3 82.6h1.15M367.3 76.0h1.15M353.1 104.9h1.15M352.4 79.1h1.15M329.8 110.5h1.15M381.3 64.6h1.15M366.0 86.0h1.15M351.4 111.3h1.15M384.2 111.4h1.15M386.3 56.1h1.15M376.2 115.0h1.15M370.0 82.4h1.15M337.1 124.5h1.15M358.1 52.6h1.15M378.9 105.6h1.15M347.2 96.6h1.15M317.6 119.1h1.15M337.9 83.1h1.15M386.6 76.6h1.15M370.0 53.9h1.15M352.0 101.3h1.15M369.7 93.8h1.15M333.4 99.7h1.15M368.7 90.6h1.15M380.7 57.5h1.15M356.9 90.9h1.15M379.7 115.0h1.15M340.9 111.2h1.15M375.1 120.9h1.15M384.2 66.9h1.15M337.6 89.8h1.15M379.3 62.1h1.15M385.2 81.0h1.15M370.0 96.6h1.15M339.6 68.7h1.15M369.5 113.7h1.15M315.4 119.8h1.15" stroke="#111" stroke-width="1.15" fill="none" stroke-opacity="0.92"/>
<path d="M330.4 232.6L339.5 232.6Q340.3 233.1 340.0 235.6L332.4 309.6Q331.0 316.1 327.5 316.6L325.2 316.6Q321.7 316.1 322.2 311.6L329.3 236.6Q329.4 233.4 330.4 232.6z" fill="#000"/>
<path d="M322.7 309.0h1M328.9 238.8h1M322.5 289.6h1M325.8 272.8h1M324.5 290.0h1M328.7 236.4h1M328.9 237.4h1M328.1 247.9h1M320.3 315.3h1M326.6 258.5h1M324.7 282.7h1M322.1 315.7h1M324.0 292.3h1M327.4 250.7h1M325.7 268.7h1M328.6 241.8h1M326.2 257.0h1M326.9 258.5h1M329.2 234.7h1M322.8 303.9h1M322.9 308.4h1M325.1 276.6h1M324.3 286.5h1M324.9 283.1h1M323.7 288.6h1M321.1 316.6h1M325.2 281.6h1M328.4 245.0h1M323.8 291.3h1M323.3 291.1h1M323.1 304.9h1M324.1 290.2h1M326.2 260.3h1M328.9 236.5h1M324.8 270.7h1M324.9 285.9h1M323.5 294.8h1M324.0 289.5h1M324.7 283.3h1M323.3 283.9h1M327.1 252.7h1M326.2 266.1h1M325.1 268.2h1M327.0 236.6h1M322.3 313.1h1M328.8 240.1h1M321.3 314.6h1M322.9 299.7h1M327.6 251.8h1M325.5 263.6h1M327.6 253.9h1M324.6 285.1h1M329.3 235.7h1M325.2 268.8h1M323.8 296.4h1M326.0 271.4h1M323.9 285.8h1M325.0 269.1h1M323.2 285.8h1M323.1 305.7h1M323.6 289.8h1M322.9 308.5h1M321.3 303.8h1M325.8 275.3h1M325.2 268.1h1M324.2 291.8h1M323.2 290.4h1M327.0 259.8h1M322.9 285.5h1M325.9 265.8h1M322.1 315.4h1M326.4 252.7h1M326.1 268.4h1M322.8 304.6h1M324.7 272.9h1M326.5 255.1h1M326.9 252.1h1M322.6 294.1h1M324.3 289.1h1M326.7 259.8h1M326.1 259.2h1M324.8 276.9h1M322.9 306.1h1M324.5 288.5h1M328.5 237.9h1M324.7 285.8h1M322.3 312.2h1M324.9 268.1h1M323.1 306.3h1M322.6 308.7h1M327.5 251.8h1M326.3 262.8h1M327.2 251.7h1M325.4 274.4h1M323.7 290.4h1M323.9 297.9h1M328.7 238.5h1M321.9 311.1h1M327.2 238.9h1M322.6 310.4h1M325.9 273.1h1M329.1 238.9h1M328.6 234.2h1M328.4 244.3h1M328.2 234.3h1M322.1 312.5h1M323.9 282.4h1M327.6 253.2h1M328.6 240.3h1M324.0 279.8h1M326.1 265.9h1M327.4 246.9h1M327.4 257.4h1M324.0 296.6h1M328.4 236.1h1M323.0 301.0h1M322.0 309.9h1M322.0 306.5h1M328.2 243.3h1M323.2 300.4h1M323.8 291.6h1M328.7 238.0h1M328.2 245.3h1M326.5 265.7h1M325.1 269.7h1M324.4 289.2h1M324.1 285.3h1M323.7 283.7h1M326.3 253.1h1M321.6 315.4h1M322.0 308.3h1M327.3 255.4h1M322.0 308.9h1M323.3 300.4h1M326.3 260.3h1M322.1 303.7h1M323.6 287.8h1M324.6 282.9h1M326.4 262.2h1M328.5 235.2h1M321.5 309.8h1M321.3 308.9h1M325.4 279.2h1M324.8 286.3h1M323.0 299.4h1M329.4 233.5h1M327.6 251.6h1M328.2 239.3h1M321.6 314.8h1M325.3 272.5h1M326.7 265.3h1M323.7 299.3h1M325.9 274.2h1M325.5 278.4h1M321.5 313.7h1M324.3 284.9h1M326.6 266.1h1M325.8 267.4h1M323.4 285.8h1M326.4 267.6h1M325.8 276.5h1M323.2 288.4h1M326.3 267.4h1M324.1 293.7h1M322.1 316.2h1M321.5 312.5h1M328.4 240.7h1M322.9 296.0h1M326.0 266.3h1M325.4 278.7h1M327.1 238.3h1M322.0 314.3h1M322.1 304.1h1M322.7 310.9h1M328.6 243.2h1M326.1 263.5h1M324.5 273.1h1M325.2 272.4h1M322.2 303.6h1M324.2 285.2h1M321.6 306.7h1M328.9 235.4h1M327.4 253.7h1M327.8 245.6h1M322.7 308.0h1M323.2 305.0h1M324.6 289.3h1M327.5 249.4h1M322.5 294.9h1M324.4 285.1h1M324.0 294.9h1M326.0 270.0h1M324.1 290.0h1M322.1 314.3h1M322.2 315.5h1M322.6 309.5h1M327.5 237.0h1M323.2 293.9h1M326.7 247.0h1M326.8 255.8h1M324.5 277.9h1M323.3 303.9h1M321.6 307.4h1M326.0 265.1h1M322.4 308.3h1M325.3 273.4h1M329.0 233.1h1M323.3 301.1h1M325.9 273.0h1M326.9 255.3h1M328.2 244.9h1M325.3 278.5h1M323.6 290.1h1M322.1 316.0h1M322.8 305.5h1M323.7 291.8h1M324.7 283.7h1M328.1 245.8h1M323.6 294.1h1M326.2 254.3h1M325.2 273.6h1M322.7 310.8h1M324.6 289.2h1M326.9 255.3h1M323.9 293.0h1M326.7 263.4h1M323.3 300.9h1M325.8 263.4h1M323.6 289.3h1M325.7 266.5h1M328.2 239.0h1M329.0 234.1h1M327.7 252.7h1M321.9 309.9h1M325.3 275.1h1M322.1 299.8h1M325.9 273.0h1M323.7 298.5h1M322.6 307.5h1M321.1 315.5h1M322.8 289.0h1M325.9 266.9h1M326.1 269.0h1M325.9 255.1h1M322.0 312.0h1M323.3 303.8h1M323.9 297.1h1M327.6 254.8h1M329.3 236.2h1M324.9 279.4h1M327.3 250.7h1M324.4 289.6h1M328.5 238.6h1M326.2 265.5h1M324.1 292.1h1M326.3 268.7h1M324.6 285.1h1M326.5 259.3h1M326.2 270.2h1M322.7 309.0h1M322.4 307.6h1M323.7 298.8h1M325.5 264.3h1M323.9 294.7h1M324.1 280.1h1M328.0 247.8h1M322.4 313.3h1M327.1 255.9h1M325.0 277.0h1M322.3 312.4h1M324.0 289.9h1M321.1 312.0h1M321.2 311.1h1M325.7 270.7h1M325.0 271.1h1M324.6 284.9h1M323.4 300.9h1M327.1 255.1h1M324.7 281.5h1M328.0 236.6h1M327.4 248.4h1M328.4 239.1h1M327.5 255.2h1M327.1 250.4h1M323.1 303.0h1M326.3 261.3h1M327.8 241.9h1M328.0 244.9h1M322.9 309.2h1M326.4 264.3h1M322.3 301.1h1M327.3 258.0h1M326.6 257.6h1M322.3 301.0h1M327.4 252.9h1M320.9 310.3h1M324.2 284.3h1M328.4 241.3h1M324.2 289.0h1M324.4 282.5h1M325.9 265.1h1M323.8 289.4h1M328.3 241.5h1M324.9 282.8h1M321.0 315.3h1M329.4 234.5h1M323.9 292.8h1M324.4 275.2h1M321.8 307.7h1M326.9 253.1h1M328.6 235.2h1M328.2 234.2h1M325.9 269.0h1M327.3 247.2h1M323.3 280.2h1M326.1 266.4h1M326.2 259.7h1M322.4 299.5h1M328.7 240.8h1M328.2 233.2h1M327.8 253.1h1M327.4 250.8h1M326.5 260.4h1M326.7 258.8h1M328.4 238.3h1M326.4 257.9h1M323.9 292.8h1M329.2 233.9h1M327.3 252.2h1M327.3 258.1h1M323.6 294.7h1M327.1 259.3h1M325.7 269.6h1M327.5 255.5h1M326.8 262.0h1M322.0 310.4h1M321.4 313.4h1M323.6 294.1h1M326.7 264.8h1M327.9 250.7h1M327.0 259.8h1M327.8 252.6h1M326.4 260.2h1M329.3 234.4h1M324.3 286.4h1M325.8 275.3h1M323.6 296.5h1M328.1 239.6h1M326.2 260.9h1M324.9 272.1h1M328.0 247.6h1M324.1 289.7h1M320.8 315.8h1M327.3 258.8h1M326.7 258.0h1M328.6 233.4h1M327.9 241.3h1M323.2 297.6h1M323.1 295.1h1M323.7 298.5h1M325.1 272.5h1M322.2 312.3h1M322.8 307.0h1M327.6 249.9h1M326.0 262.0h1M324.7 267.9h1M325.4 268.1h1M325.4 278.0h1M325.4 279.4h1M329.3 233.1h1M323.8 289.7h1M326.4 258.2h1M324.7 276.9h1M328.5 243.8h1M321.2 309.1h1M328.8 239.8h1M326.8 258.9h1M328.8 238.6h1M325.0 269.9h1M322.2 306.5h1M329.1 234.7h1M323.7 293.6h1M328.6 241.2h1M326.2 267.0h1M328.7 238.2h1M325.2 277.7h1M324.2 289.1h1M321.6 301.2h1M328.1 243.3h1M325.5 265.3h1M327.1 257.8h1M325.7 268.0h1M326.3 269.5h1M326.5 249.1h1M323.2 294.0h1M322.3 314.3h1M327.0 258.7h1M326.4 268.2h1M322.3 306.8h1M323.6 295.3h1M323.8 288.9h1M322.9 294.5h1M327.6 244.2h1M322.6 291.0h1M327.7 253.5h1M323.6 290.8h1M326.1 270.9h1M322.5 311.7h1M322.3 297.3h1M328.6 238.2h1M327.9 238.2h1M322.4 314.0h1M328.1 247.1h1M324.2 280.3h1M328.8 241.3h1M325.9 257.3h1M324.4 287.4h1M327.9 238.1h1M326.1 262.0h1M327.7 251.4h1M325.5 272.4h1M325.2 282.2h1M326.3 248.4h1M327.9 245.0h1M327.8 242.3h1M328.4 242.5h1M323.2 295.2h1M325.3 275.3h1M325.7 275.4h1M328.6 240.6h1M329.2 235.7h1M323.9 297.0h1M322.5 306.2h1M324.5 284.5h1M326.3 256.5h1M327.0 262.2h1M328.9 239.0h1M326.6 249.1h1M321.9 314.6h1M322.7 306.7h1M326.1 272.6h1M324.8 285.2h1M322.0 315.2h1M322.5 309.6h1M324.7 284.7h1M325.2 283.1h1M323.8 294.1h1M327.2 258.2h1M325.8 271.5h1M322.9 307.9h1M324.6 283.3h1M322.4 303.0h1M327.0 251.1h1M322.8 304.0h1M326.3 260.7h1M328.5 242.6h1M323.2 305.6h1M324.4 291.2h1M328.1 242.2h1M325.9 259.4h1M323.1 299.4h1M326.7 264.0h1M323.7 285.0h1M325.3 275.3h1M324.7 282.7h1M326.5 258.6h1M326.2 267.0h1M327.6 255.1h1M322.4 304.7h1M327.9 248.7h1M322.1 311.8h1M326.1 259.7h1M326.7 257.1h1M323.1 291.5h1M324.1 284.4h1M326.4 253.0h1M321.7 316.1h1M322.6 301.6h1M322.1 310.1h1M322.4 304.3h1M323.3 291.4h1M322.3 313.2h1M322.2 316.6h1M322.5 310.2h1M322.2 311.2h1M324.3 290.7h1M325.8 276.7h1M322.9 300.8h1M325.3 276.9h1M324.0 293.9h1M328.8 242.0h1M326.7 263.8h1M327.0 248.1h1M324.4 291.4h1M323.1 302.6h1M327.1 247.6h1M322.9 304.4h1M323.5 294.3h1M324.7 283.4h1M322.5 302.7h1M328.7 242.6h1M322.8 308.8h1M328.1 248.1h1M324.7 286.9h1M325.6 276.9h1M327.6 243.1h1M322.1 312.2h1M326.9 255.1h1M327.8 252.0h1M325.6 269.6h1M329.4 233.9h1M326.1 267.2h1M321.8 306.6h1M327.9 239.7h1M325.9 262.0h1M327.3 249.1h1M325.5 275.0h1M326.0 271.3h1M321.5 312.4h1M326.2 264.0h1M324.4 284.1h1M322.3 305.5h1M323.2 284.0h1M326.0 266.7h1M323.6 299.5h1M324.2 281.4h1M325.6 277.8h1M324.1 293.4h1M322.8 309.5h1M326.8 255.0h1M325.8 264.2h1M322.7 308.7h1M323.8 290.1h1M324.6 281.4h1M323.9 291.2h1M327.6 247.1h1M323.9 292.7h1M322.8 300.6h1M325.6 271.9h1M325.6 262.3h1M321.5 316.7h1M324.6 289.3h1M323.5 288.2h1M326.5 261.3h1M322.9 305.7h1M322.9 308.0h1M328.9 239.6h1M328.4 246.1h1M323.5 296.1h1M325.0 272.3h1M328.5 239.5h1M325.9 270.1h1M329.4 233.7h1M323.3 300.4h1M325.2 282.7h1M322.5 308.4h1M323.6 294.6h1M324.3 284.6h1M326.4 268.6h1M329.1 235.3h1M323.3 299.2h1M327.9 240.8h1M324.4 288.1h1M325.2 278.8h1M326.7 263.1h1M326.7 257.1h1M322.4 298.4h1M328.3 241.2h1M328.3 238.0h1M328.4 241.3h1M324.3 292.2h1M326.3 270.0h1M326.4 264.2h1M325.5 264.2h1M321.9 309.0h1M328.2 240.1h1M322.6 305.8h1M324.7 281.5h1M322.6 293.8h1M328.3 236.1h1M324.0 293.1h1M325.0 280.4h1M325.9 274.7h1M327.5 250.7h1M324.3 289.2h1M324.2 284.2h1M326.2 262.9h1M324.6 286.5h1M326.6 253.5h1M322.1 307.8h1M324.1 293.6h1M324.3 284.9h1M327.2 246.8h1M327.2 258.4h1M322.6 298.8h1M323.1 298.7h1M327.2 250.0h1M325.9 257.8h1M325.1 277.3h1M328.5 244.1h1M322.5 296.2h1M324.4 271.1h1M322.7 309.3h1M322.9 307.7h1M325.9 273.3h1M325.1 281.0h1M326.3 263.4h1M323.9 295.3h1M326.6 256.9h1M328.5 242.4h1M322.8 308.5h1M326.9 261.5h1M324.1 277.8h1M328.3 236.7h1M322.6 308.9h1M326.8 257.7h1M325.3 278.1h1M324.1 292.8h1M320.2 314.7h1M326.1 252.8h1M327.4 256.3h1M324.4 292.0h1M326.3 261.6h1M327.4 244.0h1M324.8 282.0h1M323.9 293.5h1M323.3 287.0h1M328.3 242.5h1M322.1 297.7h1M326.0 265.3h1M326.9 244.6h1M324.6 283.3h1M327.8 250.8h1M325.9 255.8h1M327.0 258.5h1M323.9 292.2h1M326.9 253.1h1M321.2 316.9h1M323.3 294.4h1M323.4 282.7h1M328.6 239.3h1M329.3 236.2h1M325.6 273.3h1M323.9 297.3h1M328.6 240.5h1M324.9 281.1h1M328.3 238.5h1M324.3 271.7h1M325.6 274.9h1M325.8 272.4h1M327.8 237.8h1M324.8 279.8h1M324.3 267.5h1M322.7 307.4h1M327.5 255.1h1M323.4 300.7h1M327.8 247.1h1M327.9 240.6h1M324.5 279.4h1M326.7 265.0h1M322.1 302.7h1M328.6 240.9h1M327.9 247.9h1M321.8 316.1h1M328.2 242.3h1M325.7 274.1h1M324.6 277.9h1M321.5 310.0h1M321.1 314.9h1M329.0 233.8h1M324.2 285.5h1M322.7 308.1h1M321.4 316.0h1M328.0 238.9h1M327.8 246.1h1M327.9 240.7h1M324.6 282.9h1M320.8 313.2h1M325.1 275.2h1M322.1 310.6h1M322.8 301.0h1M325.3 274.2h1M325.6 268.9h1M325.0 281.4h1M324.0 291.1h1M324.2 291.6h1M324.9 281.3h1M326.5 261.7h1M324.7 281.4h1M323.6 280.0h1M323.1 303.9h1M322.8 305.6h1M324.8 284.7h1M328.5 244.1h1M326.9 245.5h1M322.8 305.3h1M324.5 278.4h1M324.2 290.7h1M325.8 267.4h1M326.7 256.3h1M335.1 287.2h1M339.0 248.8h1M334.8 291.4h1M339.3 236.2h1M333.6 296.4h1M338.5 256.3h1M334.5 291.4h1M337.5 261.6h1M338.8 245.0h1M337.2 266.1h1M339.5 241.0h1M332.6 308.4h1M340.2 233.4h1M339.0 245.1h1M337.7 266.6h1M335.5 282.2h1M338.1 252.8h1M338.2 252.8h1M339.9 236.8h1M336.9 271.4h1M338.7 249.4h1M335.2 278.9h1M335.6 278.6h1M337.5 254.6h1M337.2 259.5h1M332.1 311.1h1M338.2 248.9h1M334.2 293.2h1M334.0 293.9h1M332.5 308.6h1M335.3 278.9h1M334.3 297.6h1M335.4 281.2h1M335.0 284.9h1M337.2 264.3h1M335.3 283.8h1M335.0 284.2h1M333.8 294.6h1M336.4 280.6h1M336.4 272.7h1M334.6 291.8h1M333.2 303.0h1M335.3 280.9h1M336.8 270.7h1M332.4 314.0h1M334.6 291.6h1M338.8 252.5h1M335.1 281.1h1M335.6 281.4h1M335.9 270.9h1M332.6 312.4h1M338.4 248.8h1M339.6 243.6h1M331.9 314.6h1M334.9 288.5h1M332.7 304.5h1M334.0 305.9h1M332.6 316.6h1M334.8 285.6h1M336.4 272.3h1M334.8 284.7h1M336.0 275.7h1M333.2 305.1h1M336.1 272.3h1M335.7 281.5h1M339.7 235.7h1M337.0 269.2h1M336.5 274.3h1M339.6 235.2h1M337.4 259.0h1M338.9 239.9h1M335.2 278.9h1M334.2 294.7h1M337.3 259.7h1M336.0 278.8h1M336.4 271.5h1M334.9 288.2h1M334.7 292.2h1M332.5 311.6h1M335.2 291.8h1M340.2 233.6h1M333.9 295.0h1M338.6 252.2h1M335.3 280.0h1M335.9 276.9h1M337.7 262.3h1M334.2 299.2h1M338.8 245.9h1M335.8 285.6h1M333.4 311.3h1M336.0 283.3h1M333.6 297.6h1M335.7 276.9h1M335.4 283.3h1M332.3 314.9h1M339.7 237.8h1M335.7 274.4h1M337.1 259.2h1M334.2 297.3h1M334.8 288.2h1M333.2 307.7h1M336.5 269.3h1M338.6 246.8h1M338.2 256.4h1M336.8 263.7h1M337.4 256.9h1M338.3 246.5h1M334.1 292.6h1M337.2 257.9h1M337.5 268.0h1M333.7 297.6h1M333.5 304.4h1M333.9 291.8h1M332.3 308.7h1M338.9 249.4h1M339.1 259.8h1M332.6 309.9h1M331.9 316.8h1M334.7 287.7h1M332.5 311.1h1M339.0 240.1h1M335.0 285.1h1M335.7 285.4h1M335.4 289.7h1M337.5 264.9h1M338.3 246.1h1M335.5 275.3h1M338.1 253.3h1M338.7 242.0h1M333.5 313.7h1M336.9 261.7h1M335.7 281.7h1M332.4 309.7h1M338.8 252.5h1M336.6 268.8h1M336.4 268.5h1M333.2 303.2h1M336.9 271.9h1M334.7 288.9h1M337.1 265.7h1M337.5 264.5h1M337.5 257.6h1M333.8 307.3h1M336.9 265.2h1M339.2 245.5h1M334.5 290.3h1M340.7 239.8h1M339.0 246.7h1M332.5 308.6h1M335.6 291.8h1M336.4 282.2h1M336.7 265.2h1M336.7 264.3h1M336.4 283.2h1M332.7 306.2h1M337.7 263.4h1M337.2 263.5h1M339.9 234.0h1M333.7 306.5h1M334.9 282.2h1M339.7 242.8h1M332.8 312.7h1M334.6 287.0h1M340.0 235.8h1M334.6 289.3h1M334.3 301.0h1M337.8 259.0h1M338.8 253.5h1M335.6 277.2h1M334.7 287.0h1M335.3 293.8h1M339.9 239.0h1M340.2 236.9h1M337.6 257.5h1M339.3 252.8h1M339.8 234.6h1M336.1 275.1h1M339.8 236.5h1M336.6 266.1h1M338.5 253.9h1M335.2 280.3h1M333.6 296.2h1M337.2 261.6h1M335.3 283.5h1M337.3 269.2h1M335.9 286.3h1M339.2 247.6h1M333.3 304.5h1M334.7 300.8h1M333.3 302.2h1M333.0 302.4h1M333.1 302.5h1M333.5 306.0h1M339.8 238.7h1M336.2 268.5h1M338.5 255.8h1M337.5 271.8h1M333.6 304.4h1M337.8 264.5h1M340.0 233.4h1M339.5 234.7h1M337.5 264.5h1M333.7 298.8h1M339.0 245.1h1M338.1 251.4h1M332.3 313.5h1M339.5 241.0h1M337.4 260.4h1M333.4 300.9h1M337.6 253.9h1M333.8 296.3h1M333.6 298.8h1M337.7 252.8h1M339.6 236.0h1M334.9 283.3h1M332.0 312.9h1M333.2 301.6h1M339.3 239.5h1M338.6 252.7h1M336.4 272.9h1M337.5 258.7h1M333.5 303.0h1M332.2 313.5h1M335.6 276.4h1M332.2 310.1h1M337.4 257.6h1M335.2 283.2h1M334.6 291.3h1M336.1 276.0h1M337.6 254.6h1M332.2 310.7h1M333.6 308.9h1M334.6 286.5h1M340.8 237.6h1M338.0 254.8h1M339.0 246.4h1M335.5 280.0h1M332.5 314.8h1M339.5 248.2h1M333.5 303.1h1M338.5 254.4h1M333.4 305.5h1M332.9 308.2h1M338.6 245.9h1M334.5 291.2h1M333.7 303.3h1M336.4 273.2h1M335.6 277.5h1M337.0 265.7h1M340.0 253.3h1M339.8 253.4h1M336.3 274.0h1M337.3 258.6h1M337.5 253.7h1M334.2 291.9h1M336.7 282.9h1M339.4 243.7h1M334.4 286.9h1M339.2 248.1h1M332.4 311.9h1M337.0 284.7h1M349.4 249.1h1M340.2 266.7h1M338.5 280.6h1M338.7 298.7h1M337.1 311.0h1M339.0 255.0h1M343.4 305.8h1M342.6 260.3h1M332.6 315.4h1M335.1 315.3h1M348.8 305.7h1M340.7 237.8h1M339.3 258.9h1M338.2 281.4h1M341.6 280.6h1M337.4 268.6h1M344.4 263.3h1M343.8 251.3h1M345.9 247.2h1M334.1 300.5h1M339.5 245.3h1M335.8 306.2h1M340.1 252.7h1M340.0 290.4h1M342.7 289.0h1M345.5 283.7h1M340.5 282.3h1M341.1 252.1h1M337.5 293.8h1M343.0 288.8h1M336.5 304.2h1M340.6 246.6h1M346.9 250.6h1M336.9 307.1h1M334.4 300.3h1M348.8 237.0h1M336.7 293.0h1M341.2 249.9h1M346.2 240.6h1M338.4 281.0h1M338.6 304.9h1M343.1 300.1h1M345.6 238.3h1M340.2 248.3h1M343.7 279.9h1M358.3 314.0h1M349.2 256.5h1M371.1 259.6h1M339.2 298.9h1M335.1 297.4h1M341.3 236.3h1M342.4 260.1h1M336.1 298.9h1M337.8 312.4h1M338.5 285.8h1M341.5 245.9h1M342.0 270.1h1M345.8 234.6h1M336.5 280.3h1M335.4 302.4h1M342.5 247.9h1M337.3 267.7h1M333.9 308.2h1M336.5 276.7h1M333.3 309.1h1M347.4 285.5h1M335.7 304.5h1M345.2 313.5h1M344.2 248.2h1M341.1 303.8h1M339.6 310.0h1M339.6 266.5h1M342.7 247.5h1M342.5 273.6h1M339.4 290.5h1M339.5 276.8h1M336.4 304.8h1M345.2 287.7h1M341.2 266.9h1M333.1 311.7h1M338.1 292.7h1M337.0 276.2h1M337.5 269.2h1M340.2 238.8h1M340.4 267.9h1M342.0 267.8h1M337.4 292.7h1M374.1 251.6h1M341.9 246.6h1M338.5 283.1h1M338.8 262.2h1M340.9 236.3h1M342.3 250.7h1M340.4 235.9h1M339.7 287.7h1M343.7 275.9h1M338.4 297.0h1M335.7 300.0h1M334.3 300.3h1M340.3 266.1h1M339.6 260.6h1M337.6 278.5h1M336.6 280.5h1M338.4 272.4h1M350.9 240.3h1M336.4 285.4h1M334.5 300.9h1M335.3 311.9h1M338.6 280.8h1M346.2 265.1h1M338.0 262.1h1M340.6 297.9h1M343.9 309.9h1M334.9 311.9h1M337.2 306.4h1M357.6 284.3h1M334.7 305.6h1M339.0 260.1h1M347.8 240.0h1M341.5 314.1h1M338.2 290.0h1M334.9 306.6h1M338.5 267.7h1M347.1 253.3h1M344.3 293.7h1M343.9 287.4h1M340.5 252.0h1M341.1 272.3h1M338.4 270.4h1M340.6 274.4h1M339.5 295.4h1M338.9 251.4h1M335.0 290.8h1M345.7 256.2h1M342.0 288.6h1M352.3 288.4h1M341.3 315.7h1M338.9 265.5h1M340.8 270.4h1M336.7 284.4h1M335.5 303.5h1M336.6 277.2h1M339.2 282.2h1M342.5 234.7h1M336.1 313.5h1M346.3 315.7h1M345.4 267.3h1M343.6 278.2h1M338.0 274.0h1M340.0 287.1h1M333.4 308.1h1M341.6 286.0h1M346.4 279.1h1M338.9 267.6h1M340.5 289.7h1M340.9 239.6h1M336.9 287.8h1M337.0 284.6h1M345.4 271.8h1M346.3 250.2h1M341.7 258.5h1M344.0 276.6h1M340.5 243.0h1M334.9 302.4h1M336.9 285.9h1M347.0 234.9h1M340.7 302.8h1M338.2 281.7h1M341.6 242.2h1M333.9 303.2h1M348.2 285.4h1M334.2 309.2h1M339.2 279.8h1M341.2 275.0h1M335.9 294.7h1M344.0 250.0h1M342.3 261.7h1M340.1 255.8h1M351.3 305.2h1M352.0 286.9h1M337.6 264.3h1M338.1 261.3h1M341.3 239.8h1M334.7 310.9h1M340.4 246.3h1M342.8 265.2h1M343.1 260.8h1M339.4 265.6h1M341.5 263.4h1M342.2 242.5h1M340.2 285.7h1M336.1 313.6h1M338.4 278.6h1M343.8 246.3h1M337.9 268.0h1M345.3 239.1h1M349.3 247.3h1M342.6 244.0h1M340.7 235.9h1M335.4 310.0h1M346.8 302.7h1M339.7 242.8h1M339.8 271.7h1M339.0 263.5h1M341.2 234.6h1M339.2 257.0h1M336.8 294.9h1M334.9 304.7h1M342.5 274.0h1M346.3 257.3h1M337.3 297.5h1M343.2 235.9h1M341.6 278.0h1M338.5 292.4h1M344.1 293.3h1M338.9 271.5h1M336.2 295.6h1M339.8 297.4h1M345.1 281.7h1M349.0 263.9h1M345.7 273.4h1M346.9 238.4h1M339.6 248.7h1M353.9 244.1h1M341.8 253.7h1M336.8 303.5h1M335.2 295.0h1M336.5 308.0h1M344.1 234.6h1M341.9 275.9h1M338.8 259.8h1M339.1 300.6h1M338.8 281.6h1M338.0 295.5h1M348.6 255.0h1M340.0 256.4h1M333.9 314.2h1M340.2 255.2h1M343.4 269.2h1M335.1 295.1h1M342.4 295.6h1M341.6 302.2h1M340.6 247.6h1M334.6 306.9h1M338.5 315.2h1M342.7 270.6h1M338.1 281.7h1M345.0 241.6h1M339.5 254.9h1M339.8 303.5h1M342.2 246.3h1M339.8 249.7h1M340.3 280.8h1M341.2 290.5h1M339.6 276.2h1M341.1 236.2h1M339.6 264.6h1M344.1 280.1h1M341.3 246.2h1M338.6 253.8h1M365.1 297.5h1M339.7 287.9h1M340.8 297.8h1M334.6 303.6h1M335.1 309.6h1M333.9 307.8h1M341.6 239.9h1M346.2 239.2h1M333.5 313.9h1M341.6 308.1h1M336.6 315.3h1M347.5 245.9h1M337.6 289.0h1M346.0 269.0h1M337.5 295.3h1M340.6 235.7h1M338.6 298.9h1M335.0 303.5h1M344.2 292.2h1M344.3 310.0h1M339.1 252.4h1M338.3 270.8h1M339.5 256.3h1M339.4 259.9h1M345.0 271.0h1M345.3 234.2h1M339.3 302.7h1M340.1 271.8h1M338.3 297.0h1M337.7 281.8h1M339.5 287.4h1M333.1 313.4h1M340.2 240.6h1M339.6 297.7h1M342.6 244.5h1M345.9 242.4h1M349.6 311.4h1M334.7 305.0h1M335.5 314.2h1M338.9 304.4h1M342.6 255.0h1M342.0 256.9h1M342.5 243.1h1M339.3 269.1h1M336.8 294.8h1M347.5 265.3h1M342.4 234.7h1M342.4 263.0h1M337.1 276.7h1M343.6 291.7h1M338.8 291.5h1M339.5 285.4h1M350.4 294.7h1M341.0 244.4h1M343.6 239.2h1M341.4 292.4h1M343.3 291.0h1M334.6 313.1h1M340.3 237.0h1M338.7 255.0h1M343.5 249.6h1M349.2 247.5h1M342.1 245.4h1M356.2 259.5h1M335.9 314.4h1M341.5 249.4h1M347.2 285.3h1M345.5 293.9h1M337.2 284.9h1M341.3 234.8h1M336.2 283.1h1M339.4 304.2h1M338.6 266.2h1M337.9 265.5h1M340.1 247.5h1M338.6 313.9h1M338.9 282.9h1M337.7 313.7h1M337.9 282.5h1M345.7 253.3h1M342.6 248.9h1M341.5 300.7h1M334.2 315.7h1M339.9 263.0h1M336.1 279.6h1M341.4 252.4h1M337.9 265.3h1M335.9 315.2h1M340.4 303.2h1M340.8 279.3h1M338.3 267.6h1M338.4 271.5h1M339.4 311.6h1M344.4 239.4h1M343.9 273.1h1M339.2 307.8h1M340.4 274.1h1M335.3 294.4h1M337.5 302.1h1M340.5 265.3h1M336.4 281.2h1M346.1 257.1h1M343.5 269.4h1M339.1 284.7h1M334.9 295.5h1M335.9 288.3h1M340.3 280.3h1M336.2 288.9h1M339.0 276.7h1M335.4 306.7h1M343.1 242.6h1M335.9 306.6h1M337.1 271.0h1M343.0 260.6h1M343.9 279.9h1M342.1 240.0h1M332.8 315.4h1M336.6 313.2h1M336.3 298.3h1M343.3 253.9h1M336.5 313.6h1M335.9 315.2h1M339.4 252.8h1M346.0 244.8h1M341.5 286.4h1M343.4 244.4h1M339.1 314.7h1M360.4 258.4h1M341.5 313.1h1M342.2 297.7h1M344.6 249.3h1M341.7 296.4h1M343.9 288.9h1M338.9 298.5h1M336.7 287.4h1M342.2 250.2h1M338.6 275.3h1M341.3 254.2h1M342.1 257.2h1M325.9 262.0h1M314.8 312.8h1M318.4 307.3h1M315.8 313.4h1M321.7 302.9h1M313.0 309.9h1M317.4 315.6h1M322.2 301.3h1M324.9 274.3h1M321.2 313.8h1M314.5 287.7h1M321.7 299.5h1M320.3 298.3h1M321.6 295.2h1M315.4 299.0h1M320.6 314.4h1M322.3 274.2h1M316.5 310.4h1M321.4 300.6h1M318.2 295.1h1M322.1 302.9h1M314.4 306.5h1M320.4 310.7h1M320.7 315.3h1M318.1 249.9h1M314.6 313.8h1M320.6 315.8h1M322.8 293.7h1M321.9 298.6h1M316.0 293.7h1M321.7 300.7h1M322.3 302.6h1M318.9 312.4h1M320.1 284.2h1M321.7 305.2h1M321.1 313.3h1M323.3 289.2h1M318.9 306.5h1M317.7 315.5h1M322.9 283.5h1M322.0 279.0h1M321.4 274.8h1M318.4 295.7h1M321.8 298.1h1M321.8 308.9h1M325.0 258.6h1M322.6 282.3h1M320.4 311.1h1M319.5 311.6h1M319.4 292.7h1M319.9 307.5h1M322.0 299.2h1M321.9 295.7h1M312.0 313.5h1M321.8 298.0h1M321.2 315.3h1M320.5 290.5h1M317.5 314.7h1M317.0 305.8h1M320.4 304.9h1M321.2 292.5h1M320.8 296.6h1M322.7 294.8h1M321.2 277.9h1M321.7 300.7h1M319.2 297.2h1M321.6 288.0h1M313.4 306.5h1M319.5 311.3h1M313.5 313.8h1M322.6 291.3h1M320.9 290.6h1M319.1 309.7h1M320.2 304.2h1M318.1 315.5h1M324.3 274.0h1M321.6 300.3h1M319.4 305.4h1M317.1 311.3h1M321.1 311.8h1M327.8 316.2h1M326.7 313.5h1M322.3 313.2h1M326.2 313.7h1M326.8 315.9h1M324.6 316.2h1M335.9 316.3h1M328.9 316.9h1M321.1 317.2h1M327.4 315.2h1M322.9 314.8h1M329.1 317.5h1M332.2 318.3h1M328.3 316.7h1M329.8 313.4h1M334.7 314.4h1M329.3 313.7h1M323.3 314.9h1M331.8 312.6h1M323.7 316.6h1M329.9 315.8h1M332.4 314.6h1M325.4 317.0h1M321.6 315.3h1M332.3 315.5h1M332.4 315.6h1M328.5 314.6h1M333.4 313.2h1M334.4 315.7h1M328.7 314.9h1M331.1 312.2h1M330.5 314.2h1M328.2 314.5h1M331.7 316.0h1M321.0 315.3h1M333.1 316.3h1M326.2 315.8h1M332.6 314.8h1M333.3 312.9h1M321.3 316.6h1" stroke="#000" stroke-width="1" fill="none"/>
<path d="M376.4 244.0h1.15M357.3 250.5h1.15M355.4 295.5h1.15M354.7 257.0h1.15M362.3 269.2h1.15M370.6 282.2h1.15M347.5 261.1h1.15M361.6 299.5h1.15M367.7 245.4h1.15M370.7 285.5h1.15M370.6 295.1h1.15M348.9 282.0h1.15M382.7 244.3h1.15M386.3 304.4h1.15M369.6 312.0h1.15M378.6 291.2h1.15M387.4 265.5h1.15M348.4 268.1h1.15M346.2 237.3h1.15M346.9 261.9h1.15M367.0 253.7h1.15M387.6 287.6h1.15M375.4 274.3h1.15M359.3 303.6h1.15M352.2 262.7h1.15M360.5 278.8h1.15M357.1 259.5h1.15M376.9 272.6h1.15M370.2 249.3h1.15M377.4 286.0h1.15M362.1 252.7h1.15M346.5 237.6h1.15M354.9 259.5h1.15M353.5 293.7h1.15M350.9 278.4h1.15M358.3 285.6h1.15M350.6 272.1h1.15M348.0 243.1h1.15M353.6 262.0h1.15M365.4 261.0h1.15M376.9 304.3h1.15M380.3 261.7h1.15M379.4 252.5h1.15M361.7 269.6h1.15M364.3 275.7h1.15M346.5 283.5h1.15M358.8 246.1h1.15M356.3 241.7h1.15M356.0 247.0h1.15M362.7 278.6h1.15M347.0 305.6h1.15M355.0 291.2h1.15M346.3 279.8h1.15M383.5 267.1h1.15M371.5 253.0h1.15M352.1 264.4h1.15M361.5 271.6h1.15M345.9 257.8h1.15M362.9 253.7h1.15M386.2 254.3h1.15M348.4 236.8h1.15M359.0 308.0h1.15M364.4 286.2h1.15M359.9 273.4h1.15M345.8 247.7h1.15M348.1 300.7h1.15M348.0 281.0h1.15M352.6 243.0h1.15M377.2 251.3h1.15M368.1 292.9h1.15M348.7 273.2h1.15M359.1 285.9h1.15M350.2 247.8h1.15M352.0 311.0h1.15M373.8 241.6h1.15M351.9 249.4h1.15M363.7 265.6h1.15M379.9 306.0h1.15M359.0 270.6h1.15M348.5 284.3h1.15M370.9 237.3h1.15M372.3 251.8h1.15M348.4 309.7h1.15M371.8 262.7h1.15M346.2 258.6h1.15M347.7 266.9h1.15M383.6 282.4h1.15M364.6 259.2h1.15M360.3 262.6h1.15M347.1 293.6h1.15M384.3 269.6h1.15M382.2 277.8h1.15M358.9 268.4h1.15M362.9 269.8h1.15M365.6 268.9h1.15M355.6 252.6h1.15M367.3 283.0h1.15M346.0 299.4h1.15M383.7 237.0h1.15M372.0 276.4h1.15M347.8 299.5h1.15M371.7 269.8h1.15M358.7 283.7h1.15M345.9 249.2h1.15M374.5 303.5h1.15M382.8 281.2h1.15M386.5 286.1h1.15M348.3 277.1h1.15M371.5 314.9h1.15M357.4 261.4h1.15M366.5 240.2h1.15M373.9 247.4h1.15M354.5 262.1h1.15M350.6 280.8h1.15M346.3 285.0h1.15M387.1 280.1h1.15M363.5 255.0h1.15M345.9 251.9h1.15M377.0 247.5h1.15M383.0 287.4h1.15M374.2 258.3h1.15M363.3 303.4h1.15M377.3 284.1h1.15M362.8 285.7h1.15M376.3 293.9h1.15M346.1 308.1h1.15M353.5 238.7h1.15M379.7 270.4h1.15M355.5 309.5h1.15M347.3 278.1h1.15M363.3 267.7h1.15M364.9 248.2h1.15M374.3 317.3h1.15M382.9 276.5h1.15M355.5 247.5h1.15M371.2 292.3h1.15M387.4 266.7h1.15M371.1 271.6h1.15M349.4 251.5h1.15M385.3 290.5h1.15M355.4 296.7h1.15M379.4 244.4h1.15M372.6 265.7h1.15M377.0 238.6h1.15M379.0 292.5h1.15M359.9 247.7h1.15M384.1 297.0h1.15M348.6 292.9h1.15M381.8 270.4h1.15M354.5 266.6h1.15M358.7 246.8h1.15M384.7 250.8h1.15M348.4 253.7h1.15M346.9 256.6h1.15M382.4 306.8h1.15M351.7 312.1h1.15M374.3 274.9h1.15M379.3 259.3h1.15M349.6 297.4h1.15M382.1 235.9h1.15M352.3 309.5h1.15M376.2 262.7h1.15M355.2 252.7h1.15M378.4 253.5h1.15M360.8 267.4h1.15M363.7 256.6h1.15M366.4 294.2h1.15M354.1 261.5h1.15M347.5 282.6h1.15M382.0 278.7h1.15M356.5 261.3h1.15M381.9 240.8h1.15M373.7 245.3h1.15M374.0 304.3h1.15M350.2 255.4h1.15M371.5 246.7h1.15M352.2 242.5h1.15M379.9 253.8h1.15M365.6 263.9h1.15M351.9 263.6h1.15M347.2 305.7h1.15M375.7 266.6h1.15M360.0 281.2h1.15M348.9 306.1h1.15M378.0 265.7h1.15M379.5 289.5h1.15M377.3 263.6h1.15M352.6 262.0h1.15M365.2 242.4h1.15M381.2 256.4h1.15M358.0 270.7h1.15M363.5 268.6h1.15M362.9 237.5h1.15M354.1 235.0h1.15M386.4 261.2h1.15M348.7 275.8h1.15M355.8 262.9h1.15M384.3 277.3h1.15M366.8 269.7h1.15M348.5 286.0h1.15M367.9 302.5h1.15M370.7 266.0h1.15M382.2 291.3h1.15M346.3 252.1h1.15M386.6 255.1h1.15M349.9 288.6h1.15M366.4 259.7h1.15M346.2 236.8h1.15M373.5 270.0h1.15M365.1 298.0h1.15M372.7 288.6h1.15M360.0 261.9h1.15M371.2 240.4h1.15M379.1 287.8h1.15M358.7 283.0h1.15M359.5 254.8h1.15M360.4 262.9h1.15M364.5 296.4h1.15M375.4 281.1h1.15M351.3 276.6h1.15M360.2 275.9h1.15M380.9 255.0h1.15M370.7 294.0h1.15M374.8 236.7h1.15M372.1 253.2h1.15M377.5 309.2h1.15M353.5 302.2h1.15M366.3 285.2h1.15M384.0 238.0h1.15M378.6 252.8h1.15M367.1 274.6h1.15M372.3 284.3h1.15M374.9 274.2h1.15M370.5 258.8h1.15M354.8 239.8h1.15M386.0 249.8h1.15M378.1 286.2h1.15M346.9 285.6h1.15M354.1 290.1h1.15M375.5 265.4h1.15M351.5 284.5h1.15M357.0 237.0h1.15M369.3 290.0h1.15M364.6 283.8h1.15M350.7 256.2h1.15M368.8 247.4h1.15M375.8 241.6h1.15M375.3 282.7h1.15M359.9 305.8h1.15M364.0 245.1h1.15M357.0 253.9h1.15M373.8 259.1h1.15M346.2 275.9h1.15M369.8 241.6h1.15M366.0 279.6h1.15M359.6 242.4h1.15M361.4 269.4h1.15M371.8 300.2h1.15M381.4 237.6h1.15M372.9 235.2h1.15M346.5 293.3h1.15M371.0 296.3h1.15M376.7 265.4h1.15M370.9 258.6h1.15M363.4 268.2h1.15M357.6 246.4h1.15M374.4 272.8h1.15M367.0 266.0h1.15M346.4 307.3h1.15M359.0 261.8h1.15M360.4 270.5h1.15M361.9 247.8h1.15M366.6 260.6h1.15M387.7 264.2h1.15M384.6 245.6h1.15M366.2 275.0h1.15M372.0 264.5h1.15M373.3 235.2h1.15M381.5 293.7h1.15M353.0 252.8h1.15M374.5 306.3h1.15M348.0 315.7h1.15M355.9 268.1h1.15M373.0 290.2h1.15M362.4 281.8h1.15M356.1 286.6h1.15M379.8 258.8h1.15M357.3 241.1h1.15M357.1 257.2h1.15M374.5 254.1h1.15M349.4 279.2h1.15M353.7 236.5h1.15M345.8 283.9h1.15M347.9 237.0h1.15M345.9 263.5h1.15M374.3 284.7h1.15M355.1 284.0h1.15M387.7 258.9h1.15M379.4 256.9h1.15M348.4 264.5h1.15" stroke="#111" stroke-width="1.15" fill="none" stroke-opacity="0.92"/>
<path d="M415.1 247.1h1.1M408.6 266.6h1.1M412.3 254.5h1.1M405.6 264.4h1.1M398.4 248.2h1.1M406.6 265.8h1.1M407.6 246.5h1.1M409.1 302.7h1.1M403.5 278.6h1.1M416.3 274.0h1.1M407.8 275.1h1.1M409.7 282.0h1.1M404.4 262.7h1.1M389.4 251.1h1.1M405.4 250.7h1.1M419.2 266.3h1.1M405.0 264.2h1.1M400.2 310.6h1.1M409.9 298.1h1.1M404.6 276.8h1.1M412.5 293.4h1.1M402.5 273.0h1.1M401.9 273.0h1.1M401.7 289.9h1.1M414.1 258.8h1.1M398.3 281.3h1.1M406.5 274.2h1.1M398.8 277.6h1.1M398.6 281.7h1.1M399.1 265.7h1.1M407.2 241.2h1.1M408.1 282.9h1.1M410.4 281.1h1.1M414.7 261.3h1.1M407.9 270.8h1.1M400.7 255.7h1.1M415.9 270.2h1.1M414.6 288.5h1.1M402.0 272.2h1.1M407.5 294.1h1.1M403.7 264.6h1.1M403.9 271.9h1.1M408.1 281.7h1.1M410.5 279.9h1.1M404.9 249.1h1.1M418.4 272.1h1.1M406.8 258.6h1.1M405.3 274.6h1.1M411.8 290.7h1.1M408.2 256.8h1.1M416.2 286.2h1.1M416.6 254.8h1.1M421.9 282.8h1.1M423.1 263.4h1.1M406.8 283.9h1.1M395.2 258.0h1.1M405.9 254.1h1.1M409.5 279.2h1.1M408.6 298.0h1.1M403.7 293.0h1.1M402.8 311.2h1.1M409.6 298.3h1.1M406.2 292.6h1.1M404.8 290.7h1.1M410.2 254.4h1.1M412.3 296.5h1.1M409.3 261.0h1.1M399.7 273.2h1.1M418.2 252.8h1.1M412.5 268.7h1.1M412.9 292.9h1.1M400.2 269.9h1.1M397.5 254.4h1.1M410.6 241.0h1.1M409.3 284.7h1.1M413.8 270.8h1.1M408.7 273.3h1.1M424.5 265.9h1.1M417.2 279.6h1.1M397.3 259.9h1.1M408.0 280.7h1.1M398.4 275.2h1.1M411.3 271.2h1.1M405.0 295.7h1.1M402.7 277.5h1.1M415.7 250.8h1.1M411.0 299.2h1.1M405.4 293.7h1.1M396.5 272.5h1.1M408.6 295.1h1.1M402.9 271.7h1.1M408.9 275.5h1.1M401.9 239.9h1.1M405.3 294.0h1.1M402.7 261.4h1.1M399.0 271.3h1.1M407.1 277.8h1.1M420.8 273.0h1.1M416.3 276.4h1.1M405.1 281.9h1.1M409.3 286.6h1.1M401.4 267.3h1.1M419.1 274.9h1.1M401.7 287.9h1.1M410.5 273.0h1.1M412.2 263.3h1.1M402.5 301.9h1.1M402.7 262.0h1.1M405.7 265.1h1.1M412.3 262.8h1.1M396.7 287.2h1.1M408.8 251.9h1.1M411.9 264.5h1.1M401.7 273.3h1.1M409.7 290.1h1.1M405.8 293.2h1.1M402.4 274.6h1.1M406.2 286.7h1.1M408.2 271.9h1.1M409.7 277.5h1.1M404.7 267.4h1.1M401.4 271.2h1.1M409.7 263.6h1.1M400.9 300.0h1.1M399.6 276.4h1.1M399.8 294.9h1.1M401.5 262.8h1.1M408.6 288.8h1.1M409.3 264.5h1.1M413.9 283.1h1.1M400.9 263.7h1.1M408.5 269.6h1.1M395.7 263.1h1.1M412.9 265.8h1.1M406.8 279.2h1.1M402.6 299.7h1.1M413.7 285.5h1.1M413.1 267.1h1.1M394.7 267.9h1.1M399.6 276.8h1.1M412.8 309.0h1.1M397.9 307.4h1.1M398.1 262.3h1.1M406.8 283.0h1.1M408.8 269.3h1.1M407.0 295.7h1.1M397.3 257.7h1.1M403.2 292.5h1.1M402.5 276.5h1.1M406.8 260.2h1.1M410.8 272.9h1.1M421.3 259.7h1.1M400.3 259.8h1.1M399.3 263.7h1.1M405.2 291.4h1.1M403.9 279.2h1.1M396.1 279.7h1.1M406.6 277.6h1.1M400.3 287.3h1.1M411.6 286.9h1.1M405.2 287.4h1.1M404.5 285.9h1.1M413.7 286.6h1.1M393.8 274.9h1.1M410.4 300.0h1.1M399.7 286.6h1.1M407.9 247.1h1.1M407.0 305.6h1.1M405.9 283.0h1.1M406.4 287.2h1.1M404.4 268.6h1.1M413.7 269.5h1.1M407.5 270.0h1.1M411.5 271.6h1.1M410.9 271.2h1.1M417.4 256.2h1.1M413.0 270.4h1.1M410.5 272.9h1.1M410.3 248.6h1.1M401.8 280.3h1.1M394.7 274.3h1.1M390.9 279.2h1.1M404.0 256.7h1.1M404.7 289.0h1.1M413.3 295.7h1.1M404.6 283.8h1.1M403.2 302.3h1.1M401.5 256.2h1.1M414.8 271.5h1.1M410.3 276.9h1.1M392.0 271.2h1.1M419.0 274.8h1.1M401.7 238.3h1.1M405.9 271.3h1.1M415.0 300.5h1.1M395.7 261.3h1.1M410.1 277.1h1.1M406.3 268.6h1.1M409.4 285.8h1.1M401.7 303.0h1.1M406.4 280.1h1.1M402.5 280.1h1.1M404.9 255.9h1.1M402.2 267.0h1.1M413.8 260.1h1.1M413.0 288.8h1.1M408.9 290.0h1.1M410.0 282.6h1.1M402.2 256.6h1.1M412.9 281.6h1.1M416.9 282.9h1.1M415.1 245.0h1.1M417.6 278.7h1.1M405.2 271.2h1.1M409.6 259.4h1.1M406.7 304.8h1.1M409.5 266.2h1.1M408.8 270.3h1.1M404.9 259.7h1.1M396.7 279.3h1.1M405.9 261.9h1.1M421.8 286.0h1.1M409.1 300.4h1.1M404.6 289.9h1.1M410.8 270.0h1.1M413.2 238.9h1.1M398.4 281.4h1.1M403.7 260.5h1.1M390.9 250.7h1.1M406.8 286.1h1.1M412.7 285.8h1.1M408.6 282.8h1.1M405.9 293.1h1.1M397.9 296.6h1.1M397.5 270.8h1.1M410.1 245.9h1.1M406.1 297.4h1.1M406.9 267.9h1.1M407.2 261.5h1.1M407.7 247.4h1.1M413.7 275.0h1.1M403.2 284.5h1.1M418.3 263.3h1.1M411.6 250.5h1.1M408.9 255.4h1.1M402.6 310.6h1.1M404.1 254.2h1.1M399.6 295.3h1.1M396.7 274.4h1.1M401.5 262.7h1.1M406.8 250.1h1.1M413.1 267.5h1.1M398.7 264.1h1.1M403.9 269.6h1.1M405.8 270.7h1.1M408.9 296.1h1.1M407.4 305.6h1.1M405.3 297.2h1.1M401.0 294.3h1.1M407.8 252.6h1.1M401.6 271.3h1.1M406.9 262.2h1.1M406.0 277.3h1.1M397.2 278.2h1.1M409.5 254.4h1.1M400.4 270.5h1.1M414.7 275.4h1.1M403.0 282.8h1.1M410.7 265.4h1.1M413.8 249.9h1.1M405.2 275.6h1.1M409.1 275.4h1.1M409.5 265.7h1.1M408.3 279.1h1.1M407.6 252.8h1.1M402.5 268.3h1.1M413.8 277.7h1.1M407.5 290.5h1.1M402.8 253.7h1.1M406.0 306.7h1.1M407.4 288.6h1.1M405.4 277.2h1.1M401.7 254.5h1.1M407.5 293.3h1.1M405.1 272.2h1.1M405.1 282.6h1.1M416.7 291.3h1.1M403.1 272.2h1.1M410.1 263.7h1.1M409.0 269.2h1.1M408.7 252.2h1.1M391.1 264.0h1.1M417.9 285.4h1.1M398.8 260.1h1.1M407.7 260.5h1.1M394.7 274.1h1.1M398.7 276.9h1.1M404.3 266.6h1.1M415.6 286.3h1.1M419.7 284.3h1.1M405.3 281.0h1.1M397.6 273.8h1.1M407.7 271.0h1.1M393.9 272.1h1.1M400.0 257.1h1.1M397.1 267.9h1.1M403.0 276.7h1.1M397.9 273.6h1.1M409.6 308.0h1.1M403.1 291.8h1.1M404.9 272.7h1.1M418.2 265.5h1.1M396.9 270.7h1.1M401.8 255.1h1.1M408.2 272.5h1.1M406.0 289.0h1.1M417.7 273.5h1.1M400.1 306.7h1.1M404.0 271.6h1.1M407.3 279.3h1.1M415.2 281.5h1.1M407.0 287.9h1.1M406.2 293.8h1.1M408.0 255.2h1.1M396.7 268.1h1.1M410.0 264.9h1.1M403.1 290.4h1.1M402.1 274.6h1.1M400.4 288.1h1.1M396.3 283.8h1.1M411.6 270.0h1.1M410.3 271.6h1.1M405.1 256.5h1.1M410.2 273.0h1.1M405.5 291.1h1.1M407.6 301.3h1.1M403.0 263.5h1.1M400.5 252.8h1.1M403.6 253.6h1.1M414.9 284.7h1.1M406.1 252.6h1.1M412.6 254.6h1.1M397.2 274.6h1.1M415.4 266.4h1.1M413.2 292.0h1.1M406.8 251.9h1.1M404.7 278.9h1.1M411.0 266.3h1.1M406.3 260.9h1.1M410.3 247.9h1.1M398.4 279.6h1.1M409.6 271.9h1.1M408.4 275.6h1.1M412.3 277.0h1.1M412.4 296.5h1.1M411.1 272.6h1.1M395.5 296.8h1.1M416.1 284.8h1.1M402.9 262.5h1.1M396.9 287.2h1.1M410.1 265.8h1.1M405.1 296.0h1.1M410.1 260.9h1.1M403.3 258.2h1.1M405.5 298.8h1.1M407.8 273.9h1.1M414.6 271.0h1.1M407.2 277.9h1.1M410.4 276.0h1.1M406.0 297.5h1.1M409.5 282.0h1.1M414.0 265.6h1.1M395.2 263.2h1.1M399.3 273.7h1.1M405.2 310.1h1.1M391.4 280.5h1.1M396.0 259.9h1.1M396.1 250.7h1.1M395.8 268.3h1.1M400.5 267.1h1.1M416.2 283.4h1.1M401.4 282.2h1.1M409.9 280.2h1.1M414.1 255.8h1.1M409.6 278.3h1.1M402.3 268.5h1.1M408.5 280.5h1.1M412.2 263.0h1.1M404.1 270.4h1.1M396.7 273.8h1.1M406.5 292.9h1.1M415.6 259.4h1.1M391.4 273.2h1.1M414.0 291.3h1.1M406.6 288.1h1.1M409.5 294.4h1.1M400.7 242.7h1.1M408.1 255.2h1.1M399.4 289.3h1.1M409.3 256.8h1.1M399.2 254.0h1.1M415.9 262.5h1.1M412.0 293.6h1.1M417.4 240.8h1.1M401.3 271.9h1.1M401.3 304.6h1.1M413.0 257.0h1.1M398.9 286.9h1.1M402.3 256.7h1.1M402.8 265.7h1.1M402.4 240.7h1.1M402.2 267.0h1.1M403.6 249.8h1.1M419.4 268.8h1.1M406.7 264.2h1.1M413.0 282.0h1.1M404.7 281.7h1.1M407.7 293.1h1.1M409.8 283.4h1.1M389.9 250.6h1.1M410.0 265.0h1.1M414.7 278.7h1.1M408.1 259.8h1.1M406.5 267.6h1.1M399.5 286.3h1.1M407.4 292.0h1.1M410.8 272.7h1.1M403.7 275.3h1.1M413.4 279.7h1.1M418.5 271.2h1.1M407.2 302.5h1.1M406.4 309.1h1.1M403.0 269.8h1.1M419.7 266.4h1.1M402.1 250.9h1.1M403.8 294.5h1.1M412.2 303.0h1.1M406.0 271.3h1.1M404.0 266.7h1.1M404.6 311.2h1.1M412.3 278.4h1.1M406.5 277.7h1.1M404.6 312.4h1.1M415.0 279.8h1.1M405.8 297.8h1.1M412.2 249.5h1.1M405.9 303.2h1.1M402.8 254.3h1.1M398.5 262.6h1.1M407.5 264.6h1.1M401.4 246.0h1.1M404.6 250.8h1.1M412.5 280.2h1.1M403.3 266.7h1.1M403.7 292.7h1.1M404.6 276.6h1.1M398.9 267.4h1.1M406.1 301.1h1.1M417.7 276.8h1.1M410.6 271.8h1.1M392.4 260.4h1.1M400.7 282.7h1.1M415.2 275.6h1.1M399.4 294.6h1.1M396.5 251.5h1.1M405.8 278.5h1.1M398.9 301.8h1.1M404.5 271.5h1.1M404.5 297.3h1.1M409.4 260.2h1.1M407.1 251.2h1.1M400.0 295.0h1.1M407.4 284.4h1.1M411.5 273.0h1.1M399.2 272.1h1.1M396.7 251.6h1.1M398.9 275.2h1.1M405.3 280.8h1.1M410.3 257.6h1.1M403.9 287.3h1.1M404.2 284.7h1.1M410.5 277.1h1.1M414.1 238.1h1.1M397.9 269.4h1.1M411.9 268.4h1.1M408.0 263.9h1.1M412.9 275.7h1.1M400.0 284.7h1.1M405.1 277.0h1.1M400.4 281.4h1.1M400.9 285.7h1.1M406.7 271.1h1.1M400.4 256.1h1.1M403.7 241.7h1.1M415.0 286.5h1.1M401.3 267.3h1.1M404.3 248.7h1.1M407.2 267.3h1.1M398.1 308.2h1.1M403.4 278.7h1.1M410.2 269.5h1.1M401.7 302.9h1.1M407.2 275.0h1.1M410.8 286.7h1.1M400.8 256.5h1.1M404.8 278.0h1.1M395.8 287.2h1.1M405.9 280.1h1.1M393.2 287.1h1.1M421.7 278.9h1.1M402.6 243.6h1.1M424.3 274.3h1.1M401.1 268.9h1.1M400.3 254.7h1.1M414.7 271.3h1.1M403.5 266.2h1.1M405.2 274.8h1.1M412.5 262.1h1.1M409.2 285.9h1.1M400.3 298.9h1.1M408.5 271.8h1.1M417.3 255.2h1.1M401.1 290.5h1.1M407.1 261.7h1.1M400.6 249.3h1.1M402.5 266.2h1.1M408.2 268.6h1.1M421.0 291.6h1.1M404.9 271.2h1.1M402.5 262.1h1.1M408.8 270.3h1.1M407.9 242.7h1.1M416.6 294.1h1.1M403.5 268.2h1.1M401.1 283.8h1.1M409.2 275.3h1.1M394.1 285.4h1.1M407.0 257.2h1.1M407.4 254.8h1.1M404.0 279.5h1.1M396.3 263.5h1.1M398.7 276.4h1.1M403.6 262.2h1.1" stroke="#000" stroke-width="1.1" fill="none" stroke-opacity="0.95"/>
<text class="b" x="134.0" y="13.9" font-size="15.3" textLength="56.0" lengthAdjust="spacingAndGlyphs">Resting</text>
<text class="b" x="296.6" y="13.9" font-size="15.3" textLength="122.4" lengthAdjust="spacingAndGlyphs">PMA Stimulation</text>
<text class="b" x="2.4" y="98.8" font-size="15.2">Normal</text>
<text class="b" x="3" y="116.5" font-size="15.2">Control</text>
<text class="b" x="2.4" y="284.9" font-size="15.3">X-CGD</text>
<text class="b" x="2.9" y="302.6" font-size="15.3">Patient</text>
<text class="b" x="397.2" y="45.3" font-size="15.7">97%</text>
<text class="b" x="393.9" y="151.7" font-size="15.2">534</text>
<text class="b" x="397.5" y="230.8" font-size="15.5">1.1%</text>
<text class="b" x="393.9" y="345.5" font-size="15.2">595</text>
<text class="b" x="451" y="226.5" font-size="10.2" textLength="50.8">Mean DHR</text>
<text class="b" x="451" y="238.5" font-size="10.2" textLength="66.4">Fluorescence</text>
<text class="b" x="188.3" y="416.4" font-size="15.2" textLength="135.6" lengthAdjust="spacingAndGlyphs">DHR Fluorescence</text>
<path d="M427.7 146.9H458.6V209.2M458.6 248V340.9H427.2" fill="none" stroke="#222" stroke-width="1.1"/>
<rect x="93" y="393.7" width="327" height="3.4" fill="#000"/>
<path d="M418.4 389.6L436.2 396L418.4 402.4z" fill="#000"/>
</svg></body></html>
